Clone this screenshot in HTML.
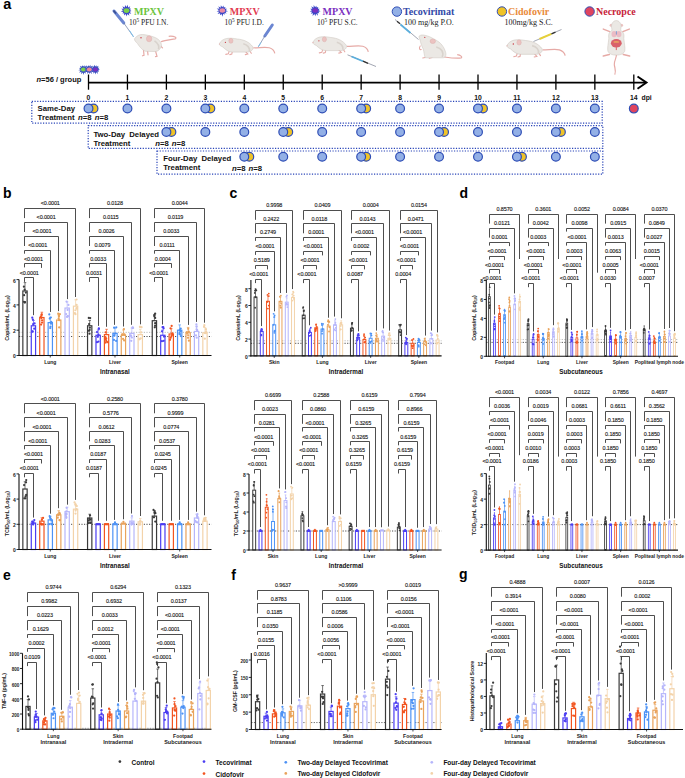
<!DOCTYPE html>
<html><head><meta charset="utf-8"><style>
html,body{margin:0;padding:0;background:#fff;width:685px;height:778px;overflow:hidden}
svg{display:block}
</style></head><body>
<svg width="685" height="778" viewBox="0 0 685 778" font-family='"Liberation Sans", sans-serif'><text x="3.3" y="8.8" font-size="14.5" font-weight="bold" fill="#000">a</text>
<line x1="88.5" y1="82.6" x2="645" y2="82.6" stroke="#000" stroke-width="1.9"/>
<path d="M637.5,76.5 L646.5,82.6 L637.5,88.7" fill="none" stroke="#000" stroke-width="1.9"/>
<line x1="88.50" y1="74.5" x2="88.50" y2="89.7" stroke="#000" stroke-width="1.3"/>
<text x="88.50" y="99.8" font-size="6.8" font-weight="bold" text-anchor="middle" fill="#111">0</text>
<line x1="127.45" y1="74.5" x2="127.45" y2="89.7" stroke="#000" stroke-width="1.3"/>
<text x="127.45" y="99.8" font-size="6.8" font-weight="bold" text-anchor="middle" fill="#111">1</text>
<line x1="166.40" y1="74.5" x2="166.40" y2="89.7" stroke="#000" stroke-width="1.3"/>
<text x="166.40" y="99.8" font-size="6.8" font-weight="bold" text-anchor="middle" fill="#111">2</text>
<line x1="205.35" y1="74.5" x2="205.35" y2="89.7" stroke="#000" stroke-width="1.3"/>
<text x="205.35" y="99.8" font-size="6.8" font-weight="bold" text-anchor="middle" fill="#111">3</text>
<line x1="244.30" y1="74.5" x2="244.30" y2="89.7" stroke="#000" stroke-width="1.3"/>
<text x="244.30" y="99.8" font-size="6.8" font-weight="bold" text-anchor="middle" fill="#111">4</text>
<line x1="283.25" y1="74.5" x2="283.25" y2="89.7" stroke="#000" stroke-width="1.3"/>
<text x="283.25" y="99.8" font-size="6.8" font-weight="bold" text-anchor="middle" fill="#111">5</text>
<line x1="322.20" y1="74.5" x2="322.20" y2="89.7" stroke="#000" stroke-width="1.3"/>
<text x="322.20" y="99.8" font-size="6.8" font-weight="bold" text-anchor="middle" fill="#111">6</text>
<line x1="361.15" y1="74.5" x2="361.15" y2="89.7" stroke="#000" stroke-width="1.3"/>
<text x="361.15" y="99.8" font-size="6.8" font-weight="bold" text-anchor="middle" fill="#111">7</text>
<line x1="400.10" y1="74.5" x2="400.10" y2="89.7" stroke="#000" stroke-width="1.3"/>
<text x="400.10" y="99.8" font-size="6.8" font-weight="bold" text-anchor="middle" fill="#111">8</text>
<line x1="439.05" y1="74.5" x2="439.05" y2="89.7" stroke="#000" stroke-width="1.3"/>
<text x="439.05" y="99.8" font-size="6.8" font-weight="bold" text-anchor="middle" fill="#111">9</text>
<line x1="478.00" y1="74.5" x2="478.00" y2="89.7" stroke="#000" stroke-width="1.3"/>
<text x="478.00" y="99.8" font-size="6.8" font-weight="bold" text-anchor="middle" fill="#111">10</text>
<line x1="516.95" y1="74.5" x2="516.95" y2="89.7" stroke="#000" stroke-width="1.3"/>
<text x="516.95" y="99.8" font-size="6.8" font-weight="bold" text-anchor="middle" fill="#111">11</text>
<line x1="555.90" y1="74.5" x2="555.90" y2="89.7" stroke="#000" stroke-width="1.3"/>
<text x="555.90" y="99.8" font-size="6.8" font-weight="bold" text-anchor="middle" fill="#111">12</text>
<line x1="594.85" y1="74.5" x2="594.85" y2="89.7" stroke="#000" stroke-width="1.3"/>
<text x="594.85" y="99.8" font-size="6.8" font-weight="bold" text-anchor="middle" fill="#111">13</text>
<line x1="633.80" y1="74.5" x2="633.80" y2="89.7" stroke="#000" stroke-width="1.3"/>
<text x="633.80" y="99.8" font-size="6.8" font-weight="bold" text-anchor="middle" fill="#111">14</text>
<text x="641.5" y="99.8" font-size="6.8" font-weight="bold" fill="#111">dpi</text>
<text x="36.5" y="82" font-size="7.5" font-weight="bold" fill="#111"><tspan font-style="italic">n</tspan>=56 / group</text>
<rect x="31.8" y="101.4" width="570.4" height="21.8" fill="none" stroke="#2844b8" stroke-width="1.2" stroke-dasharray="1.2,1.5"/>
<rect x="88.2" y="125.6" width="514.6" height="22.8" fill="none" stroke="#2844b8" stroke-width="1.2" stroke-dasharray="1.2,1.5"/>
<rect x="157" y="151" width="445.8" height="23.2" fill="none" stroke="#2844b8" stroke-width="1.2" stroke-dasharray="1.2,1.5"/>
<text x="37.6" y="111.0" font-size="7.75" font-weight="bold" fill="#111">Same-Day</text>
<text x="37.6" y="120.4" font-size="7.75" font-weight="bold" fill="#111" word-spacing="1.1">Treatment <tspan font-style="italic">n</tspan>=8 <tspan font-style="italic">n</tspan>=8</text>
<text x="93.4" y="136.7" font-size="7.75" font-weight="bold" fill="#111" word-spacing="2">Two-Day Delayed</text>
<text x="93.4" y="146.2" font-size="7.75" font-weight="bold" fill="#111">Treatment</text>
<text x="155.3" y="146.2" font-size="7.75" font-weight="bold" fill="#111" word-spacing="0.8"><tspan font-style="italic">n</tspan>=8 <tspan font-style="italic">n</tspan>=8</text>
<text x="163.3" y="160.5" font-size="7.75" font-weight="bold" fill="#111" word-spacing="2">Four-Day Delayed</text>
<text x="163.3" y="170" font-size="7.75" font-weight="bold" fill="#111">Treatment</text>
<text x="232" y="171.2" font-size="7.75" font-weight="bold" fill="#111" word-spacing="0.8"><tspan font-style="italic">n</tspan>=8 <tspan font-style="italic">n</tspan>=8</text>
<circle cx="93.50" cy="108.5" r="4.4" fill="#efc328" stroke="#2e4db5" stroke-width="1.2"/>
<circle cx="88.50" cy="108.5" r="4.4" fill="#93b0e6" stroke="#2e4db5" stroke-width="1.2"/>
<circle cx="127.45" cy="108.5" r="4.4" fill="#93b0e6" stroke="#2e4db5" stroke-width="1.2"/>
<circle cx="166.40" cy="108.5" r="4.4" fill="#93b0e6" stroke="#2e4db5" stroke-width="1.2"/>
<circle cx="210.35" cy="108.5" r="4.4" fill="#efc328" stroke="#2e4db5" stroke-width="1.2"/>
<circle cx="205.35" cy="108.5" r="4.4" fill="#93b0e6" stroke="#2e4db5" stroke-width="1.2"/>
<circle cx="244.30" cy="108.5" r="4.4" fill="#93b0e6" stroke="#2e4db5" stroke-width="1.2"/>
<circle cx="283.25" cy="108.5" r="4.4" fill="#93b0e6" stroke="#2e4db5" stroke-width="1.2"/>
<circle cx="322.20" cy="108.5" r="4.4" fill="#93b0e6" stroke="#2e4db5" stroke-width="1.2"/>
<circle cx="366.15" cy="108.5" r="4.4" fill="#efc328" stroke="#2e4db5" stroke-width="1.2"/>
<circle cx="361.15" cy="108.5" r="4.4" fill="#93b0e6" stroke="#2e4db5" stroke-width="1.2"/>
<circle cx="400.10" cy="108.5" r="4.4" fill="#93b0e6" stroke="#2e4db5" stroke-width="1.2"/>
<circle cx="439.05" cy="108.5" r="4.4" fill="#93b0e6" stroke="#2e4db5" stroke-width="1.2"/>
<circle cx="483.00" cy="108.5" r="4.4" fill="#efc328" stroke="#2e4db5" stroke-width="1.2"/>
<circle cx="478.00" cy="108.5" r="4.4" fill="#93b0e6" stroke="#2e4db5" stroke-width="1.2"/>
<circle cx="516.95" cy="108.5" r="4.4" fill="#93b0e6" stroke="#2e4db5" stroke-width="1.2"/>
<circle cx="555.90" cy="108.5" r="4.4" fill="#93b0e6" stroke="#2e4db5" stroke-width="1.2"/>
<circle cx="594.85" cy="108.5" r="4.4" fill="#93b0e6" stroke="#2e4db5" stroke-width="1.2"/>
<circle cx="171.40" cy="132.0" r="4.4" fill="#efc328" stroke="#2e4db5" stroke-width="1.2"/>
<circle cx="166.40" cy="132.0" r="4.4" fill="#93b0e6" stroke="#2e4db5" stroke-width="1.2"/>
<circle cx="205.35" cy="132.0" r="4.4" fill="#93b0e6" stroke="#2e4db5" stroke-width="1.2"/>
<circle cx="244.30" cy="132.0" r="4.4" fill="#93b0e6" stroke="#2e4db5" stroke-width="1.2"/>
<circle cx="288.25" cy="132.0" r="4.4" fill="#efc328" stroke="#2e4db5" stroke-width="1.2"/>
<circle cx="283.25" cy="132.0" r="4.4" fill="#93b0e6" stroke="#2e4db5" stroke-width="1.2"/>
<circle cx="322.20" cy="132.0" r="4.4" fill="#93b0e6" stroke="#2e4db5" stroke-width="1.2"/>
<circle cx="361.15" cy="132.0" r="4.4" fill="#93b0e6" stroke="#2e4db5" stroke-width="1.2"/>
<circle cx="400.10" cy="132.0" r="4.4" fill="#93b0e6" stroke="#2e4db5" stroke-width="1.2"/>
<circle cx="444.05" cy="132.0" r="4.4" fill="#efc328" stroke="#2e4db5" stroke-width="1.2"/>
<circle cx="439.05" cy="132.0" r="4.4" fill="#93b0e6" stroke="#2e4db5" stroke-width="1.2"/>
<circle cx="478.00" cy="132.0" r="4.4" fill="#93b0e6" stroke="#2e4db5" stroke-width="1.2"/>
<circle cx="516.95" cy="132.0" r="4.4" fill="#93b0e6" stroke="#2e4db5" stroke-width="1.2"/>
<circle cx="560.90" cy="132.0" r="4.4" fill="#efc328" stroke="#2e4db5" stroke-width="1.2"/>
<circle cx="555.90" cy="132.0" r="4.4" fill="#93b0e6" stroke="#2e4db5" stroke-width="1.2"/>
<circle cx="594.85" cy="132.0" r="4.4" fill="#93b0e6" stroke="#2e4db5" stroke-width="1.2"/>
<circle cx="249.30" cy="156.8" r="4.4" fill="#efc328" stroke="#2e4db5" stroke-width="1.2"/>
<circle cx="244.30" cy="156.8" r="4.4" fill="#93b0e6" stroke="#2e4db5" stroke-width="1.2"/>
<circle cx="283.25" cy="156.8" r="4.4" fill="#93b0e6" stroke="#2e4db5" stroke-width="1.2"/>
<circle cx="322.20" cy="156.8" r="4.4" fill="#93b0e6" stroke="#2e4db5" stroke-width="1.2"/>
<circle cx="366.15" cy="156.8" r="4.4" fill="#efc328" stroke="#2e4db5" stroke-width="1.2"/>
<circle cx="361.15" cy="156.8" r="4.4" fill="#93b0e6" stroke="#2e4db5" stroke-width="1.2"/>
<circle cx="400.10" cy="156.8" r="4.4" fill="#93b0e6" stroke="#2e4db5" stroke-width="1.2"/>
<circle cx="439.05" cy="156.8" r="4.4" fill="#93b0e6" stroke="#2e4db5" stroke-width="1.2"/>
<circle cx="478.00" cy="156.8" r="4.4" fill="#93b0e6" stroke="#2e4db5" stroke-width="1.2"/>
<circle cx="521.95" cy="156.8" r="4.4" fill="#efc328" stroke="#2e4db5" stroke-width="1.2"/>
<circle cx="516.95" cy="156.8" r="4.4" fill="#93b0e6" stroke="#2e4db5" stroke-width="1.2"/>
<circle cx="555.90" cy="156.8" r="4.4" fill="#93b0e6" stroke="#2e4db5" stroke-width="1.2"/>
<circle cx="594.85" cy="156.8" r="4.4" fill="#93b0e6" stroke="#2e4db5" stroke-width="1.2"/>
<circle cx="633.80" cy="108.6" r="4.4" fill="#e0445f" stroke="#2e4db5" stroke-width="1.2"/>
<polygon points="87.97,69.96 86.23,70.51 87.14,71.97 85.44,71.70 85.77,73.80 84.18,72.40 83.51,74.89 82.74,72.43 81.02,74.27 81.46,71.79 79.06,72.63 80.62,70.62 78.34,70.22 80.41,69.20 79.06,67.96 80.90,67.85 79.90,65.71 81.95,66.87 82.29,65.36 83.34,66.50 84.34,65.32 84.74,66.82 86.85,65.44 85.83,67.74 88.30,67.53 86.37,69.08" fill="#3a52c0"/>
<ellipse cx="83.4" cy="69.5" rx="2.5" ry="2.0" fill="#7ad14a"/>
<polygon points="99.83,69.84 98.23,70.41 99.00,71.77 97.44,71.60 97.93,73.98 96.18,72.30 95.51,74.45 94.74,72.33 93.23,73.76 93.46,71.69 91.29,72.37 92.62,70.52 90.40,70.11 92.41,69.10 91.08,67.86 92.90,67.75 92.05,65.77 93.95,66.77 94.13,64.66 95.34,66.40 96.34,65.23 96.74,66.72 98.53,65.71 97.83,67.64 99.41,67.78 98.37,68.98" fill="#3a52c0"/>
<ellipse cx="95.4" cy="69.4" rx="2.5" ry="2.0" fill="#7a2fc0"/>
<polygon points="94.11,69.88 92.13,70.41 93.11,71.92 91.34,71.60 91.85,74.02 90.08,72.30 89.40,74.06 88.64,72.33 87.01,74.00 87.36,71.69 85.19,72.37 86.52,70.52 84.34,70.11 86.31,69.10 84.33,67.63 86.80,67.75 85.80,65.61 87.85,66.77 88.15,65.13 89.24,66.40 90.34,64.75 90.64,66.72 92.43,65.72 91.73,67.64 93.59,67.67 92.27,68.98" fill="#3a52c0"/>
<ellipse cx="89.3" cy="69.4" rx="2.5" ry="2.0" fill="#ec8a9a"/>
<polygon points="131.41,11.09 129.78,11.77 131.27,13.75 128.86,13.16 129.33,15.74 127.40,13.96 126.62,16.59 125.74,14.00 124.04,15.53 124.25,13.25 122.45,13.52 123.27,11.90 120.92,11.40 123.04,10.25 121.31,8.76 123.60,8.68 122.40,6.16 124.82,7.55 125.01,5.05 126.43,7.12 127.82,4.72 128.05,7.49 130.24,6.19 129.32,8.56 131.11,8.74 129.95,10.11" fill="#3b48c8"/>
<ellipse cx="126.5" cy="10.6" rx="2.9" ry="2.32" fill="#7ad14a"/>
<polygon points="227.99,11.17 225.47,11.73 226.56,13.41 224.58,13.07 224.61,14.79 223.17,13.84 222.43,16.63 221.56,13.88 220.02,15.17 220.12,13.16 217.56,14.02 219.18,11.86 216.66,11.40 218.96,10.26 216.68,8.60 219.50,8.75 218.26,6.23 220.68,7.66 220.85,5.21 222.23,7.24 223.46,5.44 223.80,7.59 225.45,6.89 225.02,8.63 227.02,8.70 225.63,10.13" fill="#3b48c8"/>
<ellipse cx="222.3" cy="10.6" rx="2.8" ry="2.2399999999999998" fill="#e98aa6"/>
<polygon points="320.60,11.14 318.37,11.73 319.36,13.35 317.48,13.07 318.00,15.67 316.07,13.84 315.32,16.34 314.46,13.88 312.54,15.93 313.02,13.16 310.82,13.76 312.08,11.86 309.73,11.38 311.86,10.26 310.23,8.83 312.40,8.75 311.21,6.28 313.58,7.66 313.71,5.05 315.13,7.24 316.27,5.82 316.70,7.59 318.29,6.97 317.92,8.63 319.67,8.80 318.53,10.13" fill="#3b48c8"/>
<ellipse cx="315.2" cy="10.6" rx="2.8" ry="2.2399999999999998" fill="#7a2fc0"/>
<text x="134" y="15" font-size="10" font-weight="bold" fill="#6cc43d" font-family='"Liberation Serif", serif'>MPXV</text>
<text x="229.8" y="15" font-size="10" font-weight="bold" fill="#e23a50" font-family='"Liberation Serif", serif'>MPXV</text>
<text x="322.6" y="15" font-size="10" font-weight="bold" fill="#7b2fbf" font-family='"Liberation Serif", serif'>MPXV</text>
<text x="129" y="25" font-size="7.5" fill="#222" font-family='"Liberation Serif", serif'>10<tspan font-size="5.2" dy="-2.6">5</tspan><tspan dy="2.6"> PFU I.N.</tspan></text>
<text x="224.5" y="25" font-size="7.5" fill="#222" font-family='"Liberation Serif", serif'>10<tspan font-size="5.2" dy="-2.6">5</tspan><tspan dy="2.6"> PFU I.D.</tspan></text>
<text x="317" y="25" font-size="7.5" fill="#222" font-family='"Liberation Serif", serif'>10<tspan font-size="5.2" dy="-2.6">5</tspan><tspan dy="2.6"> PFU S.C.</tspan></text>
<circle cx="396.9" cy="11.6" r="4.7" fill="#93b0e6" stroke="#2e4db5" stroke-width="1"/>
<text x="403" y="15.2" font-size="10" font-weight="bold" fill="#3249a8" font-family='"Liberation Serif", serif'>Tecovirimat</text>
<text x="404" y="25" font-size="8" fill="#222" font-family='"Liberation Serif", serif'>100 mg/kg P.O.</text>
<circle cx="501.9" cy="11.5" r="4.7" fill="#efc328" stroke="#2e4db5" stroke-width="1"/>
<text x="508" y="15.2" font-size="10" font-weight="bold" fill="#e98a3a" font-family='"Liberation Serif", serif'>Cidofovir</text>
<text x="504.5" y="25" font-size="8" fill="#222" font-family='"Liberation Serif", serif'>100mg/kg S.C.</text>
<circle cx="589.6" cy="11.5" r="4.7" fill="#e0445f" stroke="#2e4db5" stroke-width="1"/>
<text x="596" y="15.2" font-size="10" font-weight="bold" fill="#c8243a" font-family='"Liberation Serif", serif'>Necropce</text>
<g transform="translate(134.5,38.8)"><path d="M26.5,3 C31,1 36,1 40.9,0 C42.5,-1 40.5,-3 34.2,-2.5" stroke="#e6aaa6" stroke-width="1.2" fill="none"/><path d="M9,11 L9.5,16.5 L8,17 M13,11.5 L13.5,16 M21,12 L22.5,17.5 L21,17.8 M26,7 L28,9" stroke="#e6aaa6" stroke-width="1.2" fill="none" stroke-linecap="round"/><path d="M0,0 C2,-3 5,-4.5 8,-4.3 C12,-4 16,-3 20,-1.5 C24,0 27,3 27,7 C26,10 24,12.5 21,12.7 L11,12.5 C7,11 4.5,7 3,4.8 C1.5,3 -0.3,1.8 0,0 Z" fill="#ebe8e4" stroke="#cdc6bf" stroke-width="0.55"/><path d="M20,2 C23,4 25,7 24,10.5" stroke="#d9d3cd" stroke-width="1.6" fill="none"/><ellipse cx="14.6" cy="0" rx="2.7" ry="3" fill="#ecc3c1" stroke="#d6a9a7" stroke-width="0.4"/><circle cx="6.5" cy="-1" r="0.7" fill="#c8303a"/></g>
<path d="M114,11 L123.8,23" stroke="#6b86d2" stroke-width="3" stroke-linecap="round"/><path d="M113.5,10.5 L116,13.5" stroke="#3a4f90" stroke-width="1.6"/><path d="M123.8,23 L133.5,36.8" stroke="#6a7aa0" stroke-width="0.7"/><path d="M129.5,30.5 L133.5,36.8" stroke="#7cc0ec" stroke-width="1"/>
<g transform="translate(219.3,43.8) scale(1.0)"><path d="M34,4 C40,4 47,3 50,4 C53,5 55,7 55.5,9.5" stroke="#e6aaa6" stroke-width="1.2" fill="none"/><path d="M10,7 L9,10 L6.5,10.6 M13,7.5 L12.5,10.3 L10.5,10.8 M26,7.5 L28.5,10.2 L26,10.8 M30,6.5 L32,9.5" stroke="#e6aaa6" stroke-width="1.1" fill="none" stroke-linecap="round"/><path d="M0,0 C1,-2.5 4,-4.8 7.2,-5.3 C10,-5.8 14,-5.6 18,-4.8 C24,-4.3 30,-2 33.5,3 C34.6,6 31.5,8.3 27,8.3 L13,8.3 C9,8.3 6,5.5 3.5,3.2 C1.5,2.2 -0.2,1.6 0,0 Z" fill="#ebe8e4" stroke="#cdc6bf" stroke-width="0.55"/><path d="M24,0 C28,1 31,4 30,7.5" stroke="#d9d3cd" stroke-width="1.6" fill="none"/><ellipse cx="11.6" cy="-3" rx="2.1" ry="2.5" fill="#ecc3c1" stroke="#d6a9a7" stroke-width="0.4"/><circle cx="6.1" cy="-1.5" r="0.65" fill="#c8303a"/><circle cx="0.2" cy="0.2" r="0.5" fill="#e9a6a6"/></g>
<path d="M272.3,25 L264.8,36" stroke="#6b86d2" stroke-width="3" stroke-linecap="round"/><path d="M264.8,36 L258.3,46.8" stroke="#6a7aa0" stroke-width="0.7"/><path d="M261,42.5 L258.3,46.8" stroke="#7cc0ec" stroke-width="0.9"/>
<g transform="translate(312.8,42.3) scale(1.0)"><path d="M34,4 C40,4 47,3 50,4 C53,5 55,7 55.5,9.5" stroke="#e6aaa6" stroke-width="1.2" fill="none"/><path d="M10,7 L9,10 L6.5,10.6 M13,7.5 L12.5,10.3 L10.5,10.8 M26,7.5 L28.5,10.2 L26,10.8 M30,6.5 L32,9.5" stroke="#e6aaa6" stroke-width="1.1" fill="none" stroke-linecap="round"/><path d="M0,0 C1,-2.5 4,-4.8 7.2,-5.3 C10,-5.8 14,-5.6 18,-4.8 C24,-4.3 30,-2 33.5,3 C34.6,6 31.5,8.3 27,8.3 L13,8.3 C9,8.3 6,5.5 3.5,3.2 C1.5,2.2 -0.2,1.6 0,0 Z" fill="#ebe8e4" stroke="#cdc6bf" stroke-width="0.55"/><path d="M24,0 C28,1 31,4 30,7.5" stroke="#d9d3cd" stroke-width="1.6" fill="none"/><ellipse cx="11.6" cy="-3" rx="2.1" ry="2.5" fill="#ecc3c1" stroke="#d6a9a7" stroke-width="0.4"/><circle cx="6.1" cy="-1.5" r="0.65" fill="#c8303a"/><circle cx="0.2" cy="0.2" r="0.5" fill="#e9a6a6"/></g>
<path d="M347.5,54.8 L376,66.5" stroke="#7a8090" stroke-width="0.7"/><path d="M351.5,56.5 L363,61.2" stroke="#5aaedc" stroke-width="1.7"/><path d="M363,61.2 L368,63.3" stroke="#333" stroke-width="1.4"/>
<g transform="translate(419.2,36)"><path d="M25,21 C32,22 38,22.5 42,22 C43.5,21 41.5,19 38,18.7" stroke="#e6aaa6" stroke-width="1.2" fill="none"/><path d="M1,10 C-0.5,12 0.5,14 2,13.5 M6,21.5 L3.5,22 M13,21.5 L10,22.2" stroke="#e6aaa6" stroke-width="1.1" fill="none" stroke-linecap="round"/><path d="M0,0 C1,-1 4,-1.4 6,-0.6 C9,0 12,1.2 14.5,3 C19.5,5 24,9 26,15 C27.5,19 26.5,21.3 24,21.8 L6,21.8 C4.8,19 5,16 4,13 C2.3,10 1.3,6 0.9,4 C0.2,2.6 -0.5,1 0,0 Z" fill="#ebe8e4" stroke="#cdc6bf" stroke-width="0.55"/><path d="M17,11 C22,12 25,16 23,21" stroke="#d9d3cd" stroke-width="1.6" fill="none"/><ellipse cx="13.6" cy="5.2" rx="2.7" ry="2.3" fill="#ecc3c1" stroke="#d6a9a7" stroke-width="0.4"/><circle cx="5.6" cy="1.3" r="0.65" fill="#c8303a"/></g>
<path d="M395,19.5 L418.5,39.5" stroke="#7a8090" stroke-width="0.7"/><path d="M400.5,24.5 L410.5,33" stroke="#5aaedc" stroke-width="1.7"/><path d="M397,21.3 L400,23.8" stroke="#333" stroke-width="1.4"/>
<g transform="translate(506.9,45.6) scale(1.05)"><path d="M34,4 C40,4 47,3 50,4 C53,5 55,7 55.5,9.5" stroke="#e6aaa6" stroke-width="1.2" fill="none"/><path d="M10,7 L9,10 L6.5,10.6 M13,7.5 L12.5,10.3 L10.5,10.8 M26,7.5 L28.5,10.2 L26,10.8 M30,6.5 L32,9.5" stroke="#e6aaa6" stroke-width="1.1" fill="none" stroke-linecap="round"/><path d="M0,0 C1,-2.5 4,-4.8 7.2,-5.3 C10,-5.8 14,-5.6 18,-4.8 C24,-4.3 30,-2 33.5,3 C34.6,6 31.5,8.3 27,8.3 L13,8.3 C9,8.3 6,5.5 3.5,3.2 C1.5,2.2 -0.2,1.6 0,0 Z" fill="#ebe8e4" stroke="#cdc6bf" stroke-width="0.55"/><path d="M24,0 C28,1 31,4 30,7.5" stroke="#d9d3cd" stroke-width="1.6" fill="none"/><ellipse cx="11.6" cy="-3" rx="2.1" ry="2.5" fill="#ecc3c1" stroke="#d6a9a7" stroke-width="0.4"/><circle cx="6.1" cy="-1.5" r="0.65" fill="#c8303a"/><circle cx="0.2" cy="0.2" r="0.5" fill="#e9a6a6"/></g>
<path d="M533.5,41.5 L561.5,29.5" stroke="#7a8090" stroke-width="0.7"/><path d="M539.5,39 L551.5,33.9" stroke="#e6d03a" stroke-width="2"/><path d="M551.5,33.9 L555.5,32.2" stroke="#333" stroke-width="1.4"/>
<g transform="translate(602.8,20.6)"><path d="M13.5,33 C14.5,37 11,40 11.5,44 C12,48 13.5,50 12,54" stroke="#e6aaa6" stroke-width="1.2" fill="none"/><path d="M7,11 L0.5,8.5 M20,11 L26.5,8.5 M6.5,34 L0.5,35.5 M20.5,34 L26.8,35.5" stroke="#e6aaa6" stroke-width="1.5" fill="none" stroke-linecap="round"/><circle cx="8.3" cy="4.6" r="1.5" fill="#ecc3c1"/><circle cx="18.8" cy="4.6" r="1.5" fill="#ecc3c1"/><path d="M13.5,0 C16.5,0 18.5,3 18.3,6.5 C18,8.5 17.5,9.5 18.5,10.5 C21,11.5 21.5,14 21,18 C21.5,23 22.5,27 22,30 C21.5,33 18,34.5 13.5,34.5 C9,34.5 5.5,33 5,30 C4.5,27 5.5,23 6,18 C5.5,14 6,11.5 8.5,10.5 C9.5,9.5 9,8.5 8.7,6.5 C8.5,3 10.5,0 13.5,0 Z" fill="#ebe8e4" stroke="#cdc6bf" stroke-width="0.55"/><ellipse cx="11.3" cy="13.5" rx="2.6" ry="3.2" fill="#ebbcc4"/><ellipse cx="16" cy="13.5" rx="2.6" ry="3.2" fill="#ebbcc4"/><line x1="13.6" y1="10.5" x2="13.6" y2="14" stroke="#5a8ad0" stroke-width="0.7"/><ellipse cx="13.5" cy="22.7" rx="5.4" ry="4.2" fill="#d9606a"/><ellipse cx="13.5" cy="21.3" rx="3" ry="0.9" fill="#e8a060"/><path d="M13.5,26.5 L13.5,29.5" stroke="#d9606a" stroke-width="1"/></g>
<circle cx="119.9" cy="761.6" r="1.35" fill="#3a3a3a"/>
<text x="131.5" y="764.6" font-size="6.5" font-weight="bold" fill="#111">Control</text>
<circle cx="204" cy="761.6" r="1.35" fill="#4b3df2"/>
<text x="215.6" y="764.6" font-size="6.5" font-weight="bold" fill="#111">Tecovirimat</text>
<circle cx="204" cy="773.6" r="1.35" fill="#f2541f"/>
<text x="215.6" y="776.6" font-size="6.5" font-weight="bold" fill="#111">Cidofovir</text>
<circle cx="285.8" cy="762.3" r="1.35" fill="#4d92f5"/>
<text x="297.4" y="765.3" font-size="6.5" font-weight="bold" fill="#111">Two-day Delayed Tecovirimat</text>
<circle cx="285.8" cy="773.4" r="1.35" fill="#e9a35c"/>
<text x="297.4" y="776.4" font-size="6.5" font-weight="bold" fill="#111">Two-day Delayed Cidofovir</text>
<circle cx="431.8" cy="762.3" r="1.35" fill="#b6b6fb"/>
<text x="443.4" y="765.3" font-size="6.5" font-weight="bold" fill="#111">Four-day Delayed Tecovirimat</text>
<circle cx="431.8" cy="773.4" r="1.35" fill="#f3d3aa"/>
<text x="443.4" y="776.4" font-size="6.5" font-weight="bold" fill="#111">Four-day Delayed Cidofovir</text>
<line x1="19.00" y1="336.52" x2="211.50" y2="336.52" stroke="#222" stroke-width="0.8" stroke-dasharray="1.2,1.4"/>
<line x1="19.00" y1="332.35" x2="211.50" y2="332.35" stroke="#aaa" stroke-width="0.8" stroke-dasharray="1.2,1.4"/>
<rect x="22.85" y="290.99" width="4.30" height="64.52" fill="#fff" stroke="#3a3a3a" stroke-width="1.2"/>
<circle cx="24.10" cy="295.15" r="1.12" fill="#3a3a3a"/>
<circle cx="23.90" cy="286.64" r="1.12" fill="#3a3a3a"/>
<circle cx="24.65" cy="289.63" r="1.12" fill="#3a3a3a"/>
<circle cx="25.02" cy="302.06" r="1.12" fill="#3a3a3a"/>
<circle cx="24.83" cy="302.59" r="1.12" fill="#3a3a3a"/>
<circle cx="23.94" cy="301.75" r="1.12" fill="#3a3a3a"/>
<circle cx="25.84" cy="292.53" r="1.12" fill="#3a3a3a"/>
<line x1="25.00" y1="290.99" x2="25.00" y2="282.60" stroke="#3a3a3a" stroke-width="0.7" />
<line x1="23.71" y1="282.60" x2="26.29" y2="282.60" stroke="#3a3a3a" stroke-width="0.7" />
<rect x="31.28" y="325.77" width="4.30" height="29.73" fill="#fff" stroke="#4b3df2" stroke-width="1.2"/>
<circle cx="32.72" cy="331.70" r="1.12" fill="#4b3df2"/>
<circle cx="34.59" cy="323.41" r="1.12" fill="#4b3df2"/>
<circle cx="33.16" cy="324.24" r="1.12" fill="#4b3df2"/>
<circle cx="32.26" cy="317.66" r="1.12" fill="#4b3df2"/>
<circle cx="32.89" cy="319.60" r="1.12" fill="#4b3df2"/>
<circle cx="32.44" cy="331.37" r="1.12" fill="#4b3df2"/>
<circle cx="34.25" cy="328.66" r="1.12" fill="#4b3df2"/>
<line x1="33.43" y1="325.77" x2="33.43" y2="320.46" stroke="#4b3df2" stroke-width="0.7" />
<line x1="32.14" y1="320.46" x2="34.72" y2="320.46" stroke="#4b3df2" stroke-width="0.7" />
<rect x="39.71" y="317.55" width="4.30" height="37.95" fill="#fff" stroke="#f2541f" stroke-width="1.2"/>
<circle cx="42.07" cy="322.54" r="1.12" fill="#f2541f"/>
<circle cx="41.53" cy="315.00" r="1.12" fill="#f2541f"/>
<circle cx="40.73" cy="316.50" r="1.12" fill="#f2541f"/>
<circle cx="41.10" cy="324.54" r="1.12" fill="#f2541f"/>
<circle cx="41.67" cy="314.31" r="1.12" fill="#f2541f"/>
<circle cx="42.08" cy="320.35" r="1.12" fill="#f2541f"/>
<circle cx="41.34" cy="318.06" r="1.12" fill="#f2541f"/>
<line x1="41.86" y1="317.55" x2="41.86" y2="312.24" stroke="#f2541f" stroke-width="0.7" />
<line x1="40.57" y1="312.24" x2="43.15" y2="312.24" stroke="#f2541f" stroke-width="0.7" />
<rect x="48.14" y="322.61" width="4.30" height="32.89" fill="#fff" stroke="#4d92f5" stroke-width="1.2"/>
<circle cx="50.80" cy="317.50" r="1.12" fill="#4d92f5"/>
<circle cx="50.48" cy="326.56" r="1.12" fill="#4d92f5"/>
<circle cx="51.26" cy="321.93" r="1.12" fill="#4d92f5"/>
<circle cx="49.74" cy="318.57" r="1.12" fill="#4d92f5"/>
<circle cx="49.30" cy="314.44" r="1.12" fill="#4d92f5"/>
<circle cx="50.95" cy="323.69" r="1.12" fill="#4d92f5"/>
<circle cx="50.26" cy="328.08" r="1.12" fill="#4d92f5"/>
<line x1="50.29" y1="322.61" x2="50.29" y2="317.30" stroke="#4d92f5" stroke-width="0.7" />
<line x1="49.00" y1="317.30" x2="51.58" y2="317.30" stroke="#4d92f5" stroke-width="0.7" />
<rect x="56.57" y="320.08" width="4.30" height="35.42" fill="#fff" stroke="#e9a35c" stroke-width="1.2"/>
<circle cx="59.15" cy="327.40" r="1.12" fill="#e9a35c"/>
<circle cx="58.91" cy="315.46" r="1.12" fill="#e9a35c"/>
<circle cx="58.24" cy="313.63" r="1.12" fill="#e9a35c"/>
<circle cx="58.96" cy="316.60" r="1.12" fill="#e9a35c"/>
<circle cx="58.61" cy="318.50" r="1.12" fill="#e9a35c"/>
<circle cx="59.87" cy="314.21" r="1.12" fill="#e9a35c"/>
<circle cx="59.14" cy="320.24" r="1.12" fill="#e9a35c"/>
<line x1="58.72" y1="320.08" x2="58.72" y2="314.77" stroke="#e9a35c" stroke-width="0.7" />
<line x1="57.43" y1="314.77" x2="60.01" y2="314.77" stroke="#e9a35c" stroke-width="0.7" />
<rect x="65.00" y="308.06" width="4.30" height="47.44" fill="#fff" stroke="#b6b6fb" stroke-width="1.2"/>
<circle cx="67.67" cy="316.15" r="1.12" fill="#b6b6fb"/>
<circle cx="68.42" cy="304.94" r="1.12" fill="#b6b6fb"/>
<circle cx="66.59" cy="301.60" r="1.12" fill="#b6b6fb"/>
<circle cx="67.59" cy="309.94" r="1.12" fill="#b6b6fb"/>
<circle cx="67.05" cy="316.88" r="1.12" fill="#b6b6fb"/>
<circle cx="66.16" cy="314.10" r="1.12" fill="#b6b6fb"/>
<circle cx="67.84" cy="316.19" r="1.12" fill="#b6b6fb"/>
<line x1="67.15" y1="308.06" x2="67.15" y2="301.90" stroke="#b6b6fb" stroke-width="0.7" />
<line x1="65.86" y1="301.90" x2="68.44" y2="301.90" stroke="#b6b6fb" stroke-width="0.7" />
<rect x="73.43" y="306.17" width="4.30" height="49.34" fill="#fff" stroke="#f3d3aa" stroke-width="1.2"/>
<circle cx="74.93" cy="313.21" r="1.12" fill="#f3d3aa"/>
<circle cx="76.54" cy="308.01" r="1.12" fill="#f3d3aa"/>
<circle cx="75.45" cy="314.18" r="1.12" fill="#f3d3aa"/>
<circle cx="76.57" cy="304.86" r="1.12" fill="#f3d3aa"/>
<circle cx="76.52" cy="299.50" r="1.12" fill="#f3d3aa"/>
<circle cx="75.36" cy="310.25" r="1.12" fill="#f3d3aa"/>
<circle cx="76.57" cy="308.65" r="1.12" fill="#f3d3aa"/>
<line x1="75.58" y1="306.17" x2="75.58" y2="299.75" stroke="#f3d3aa" stroke-width="0.7" />
<line x1="74.29" y1="299.75" x2="76.87" y2="299.75" stroke="#f3d3aa" stroke-width="0.7" />
<path d="M24.50,281.90 V277.50 H33.50 V315.16" fill="none" stroke="#3a3a3a" stroke-width="0.9"/>
<text x="29.21" y="274.60" font-size="5.45" text-anchor="middle" font-weight="normal" fill="#111" letter-spacing="-0.12" stroke="#222" stroke-width="0.12">&lt;0.0001</text>
<path d="M24.50,267.40 V263.50 H41.50 V267.90" fill="none" stroke="#3a3a3a" stroke-width="0.9"/>
<text x="33.43" y="260.60" font-size="5.45" text-anchor="middle" font-weight="normal" fill="#111" letter-spacing="-0.12" stroke="#222" stroke-width="0.12">&lt;0.0001</text>
<path d="M24.50,253.70 V250.50 H50.50 V311.94" fill="none" stroke="#3a3a3a" stroke-width="0.9"/>
<text x="37.64" y="246.90" font-size="5.45" text-anchor="middle" font-weight="normal" fill="#111" letter-spacing="-0.12" stroke="#222" stroke-width="0.12">&lt;0.0001</text>
<path d="M24.50,246.00 V236.50 H58.50 V311.13" fill="none" stroke="#3a3a3a" stroke-width="0.9"/>
<text x="41.86" y="233.20" font-size="5.45" text-anchor="middle" font-weight="normal" fill="#111" letter-spacing="-0.12" stroke="#222" stroke-width="0.12">&lt;0.0001</text>
<path d="M24.50,232.00 V222.50 H67.50 V299.10" fill="none" stroke="#3a3a3a" stroke-width="0.9"/>
<text x="46.08" y="219.20" font-size="5.45" text-anchor="middle" font-weight="normal" fill="#111" letter-spacing="-0.12" stroke="#222" stroke-width="0.12">&lt;0.0001</text>
<path d="M24.50,218.10 V208.50 H75.50 V297.00" fill="none" stroke="#3a3a3a" stroke-width="0.9"/>
<text x="50.29" y="205.30" font-size="5.45" text-anchor="middle" font-weight="normal" fill="#111" letter-spacing="-0.12" stroke="#222" stroke-width="0.12">&lt;0.0001</text>
<line x1="50.29" y1="355.50" x2="50.29" y2="357.50" stroke="#222" stroke-width="0.8" />
<text x="50.29" y="364.00" font-size="5.0" text-anchor="middle" font-weight="bold" fill="#222" >Lung</text>
<rect x="87.55" y="325.77" width="4.30" height="29.73" fill="#fff" stroke="#3a3a3a" stroke-width="1.2"/>
<circle cx="88.80" cy="317.97" r="1.12" fill="#3a3a3a"/>
<circle cx="89.01" cy="330.84" r="1.12" fill="#3a3a3a"/>
<circle cx="89.66" cy="329.90" r="1.12" fill="#3a3a3a"/>
<circle cx="89.09" cy="324.04" r="1.12" fill="#3a3a3a"/>
<circle cx="89.49" cy="333.67" r="1.12" fill="#3a3a3a"/>
<circle cx="89.87" cy="327.66" r="1.12" fill="#3a3a3a"/>
<circle cx="90.19" cy="318.04" r="1.12" fill="#3a3a3a"/>
<line x1="89.70" y1="325.77" x2="89.70" y2="320.46" stroke="#3a3a3a" stroke-width="0.7" />
<line x1="88.41" y1="320.46" x2="90.99" y2="320.46" stroke="#3a3a3a" stroke-width="0.7" />
<rect x="95.98" y="335.26" width="4.30" height="20.24" fill="#fff" stroke="#4b3df2" stroke-width="1.2"/>
<circle cx="98.43" cy="334.74" r="1.12" fill="#4b3df2"/>
<circle cx="96.98" cy="332.09" r="1.12" fill="#4b3df2"/>
<circle cx="98.85" cy="328.41" r="1.12" fill="#4b3df2"/>
<circle cx="98.90" cy="328.83" r="1.12" fill="#4b3df2"/>
<circle cx="97.87" cy="336.77" r="1.12" fill="#4b3df2"/>
<circle cx="98.48" cy="341.52" r="1.12" fill="#4b3df2"/>
<circle cx="97.01" cy="342.20" r="1.12" fill="#4b3df2"/>
<line x1="98.13" y1="335.26" x2="98.13" y2="329.95" stroke="#4b3df2" stroke-width="0.7" />
<line x1="96.84" y1="329.95" x2="99.42" y2="329.95" stroke="#4b3df2" stroke-width="0.7" />
<rect x="104.41" y="334.63" width="4.30" height="20.87" fill="#fff" stroke="#f2541f" stroke-width="1.2"/>
<circle cx="105.69" cy="339.16" r="1.12" fill="#f2541f"/>
<circle cx="105.41" cy="337.00" r="1.12" fill="#f2541f"/>
<circle cx="105.66" cy="342.59" r="1.12" fill="#f2541f"/>
<circle cx="106.21" cy="340.93" r="1.12" fill="#f2541f"/>
<circle cx="107.53" cy="342.18" r="1.12" fill="#f2541f"/>
<circle cx="105.65" cy="332.48" r="1.12" fill="#f2541f"/>
<circle cx="106.17" cy="338.44" r="1.12" fill="#f2541f"/>
<line x1="106.56" y1="334.63" x2="106.56" y2="329.31" stroke="#f2541f" stroke-width="0.7" />
<line x1="105.27" y1="329.31" x2="107.85" y2="329.31" stroke="#f2541f" stroke-width="0.7" />
<rect x="112.84" y="333.36" width="4.30" height="22.14" fill="#fff" stroke="#4d92f5" stroke-width="1.2"/>
<circle cx="114.02" cy="335.33" r="1.12" fill="#4d92f5"/>
<circle cx="116.26" cy="327.35" r="1.12" fill="#4d92f5"/>
<circle cx="114.95" cy="333.66" r="1.12" fill="#4d92f5"/>
<circle cx="113.96" cy="339.92" r="1.12" fill="#4d92f5"/>
<circle cx="114.38" cy="335.69" r="1.12" fill="#4d92f5"/>
<circle cx="114.12" cy="327.68" r="1.12" fill="#4d92f5"/>
<circle cx="116.15" cy="340.95" r="1.12" fill="#4d92f5"/>
<line x1="114.99" y1="333.36" x2="114.99" y2="328.05" stroke="#4d92f5" stroke-width="0.7" />
<line x1="113.70" y1="328.05" x2="116.28" y2="328.05" stroke="#4d92f5" stroke-width="0.7" />
<rect x="121.27" y="335.26" width="4.30" height="20.24" fill="#fff" stroke="#e9a35c" stroke-width="1.2"/>
<circle cx="122.51" cy="334.53" r="1.12" fill="#e9a35c"/>
<circle cx="122.20" cy="334.28" r="1.12" fill="#e9a35c"/>
<circle cx="124.65" cy="334.53" r="1.12" fill="#e9a35c"/>
<circle cx="123.93" cy="329.01" r="1.12" fill="#e9a35c"/>
<circle cx="123.08" cy="338.93" r="1.12" fill="#e9a35c"/>
<circle cx="124.12" cy="340.48" r="1.12" fill="#e9a35c"/>
<circle cx="124.14" cy="334.46" r="1.12" fill="#e9a35c"/>
<line x1="123.42" y1="335.26" x2="123.42" y2="329.95" stroke="#e9a35c" stroke-width="0.7" />
<line x1="122.13" y1="329.95" x2="124.71" y2="329.95" stroke="#e9a35c" stroke-width="0.7" />
<rect x="129.70" y="333.36" width="4.30" height="22.14" fill="#fff" stroke="#b6b6fb" stroke-width="1.2"/>
<circle cx="131.14" cy="335.90" r="1.12" fill="#b6b6fb"/>
<circle cx="133.10" cy="327.97" r="1.12" fill="#b6b6fb"/>
<circle cx="132.64" cy="327.29" r="1.12" fill="#b6b6fb"/>
<circle cx="132.47" cy="327.85" r="1.12" fill="#b6b6fb"/>
<circle cx="131.90" cy="337.60" r="1.12" fill="#b6b6fb"/>
<circle cx="130.63" cy="335.48" r="1.12" fill="#b6b6fb"/>
<circle cx="131.28" cy="340.87" r="1.12" fill="#b6b6fb"/>
<line x1="131.85" y1="333.36" x2="131.85" y2="328.05" stroke="#b6b6fb" stroke-width="0.7" />
<line x1="130.56" y1="328.05" x2="133.14" y2="328.05" stroke="#b6b6fb" stroke-width="0.7" />
<rect x="138.13" y="334.63" width="4.30" height="20.87" fill="#fff" stroke="#f3d3aa" stroke-width="1.2"/>
<circle cx="140.78" cy="338.33" r="1.12" fill="#f3d3aa"/>
<circle cx="140.14" cy="326.84" r="1.12" fill="#f3d3aa"/>
<circle cx="141.54" cy="327.16" r="1.12" fill="#f3d3aa"/>
<circle cx="139.93" cy="326.87" r="1.12" fill="#f3d3aa"/>
<circle cx="139.58" cy="338.97" r="1.12" fill="#f3d3aa"/>
<circle cx="139.52" cy="339.36" r="1.12" fill="#f3d3aa"/>
<circle cx="141.31" cy="332.32" r="1.12" fill="#f3d3aa"/>
<line x1="140.28" y1="334.63" x2="140.28" y2="329.31" stroke="#f3d3aa" stroke-width="0.7" />
<line x1="138.99" y1="329.31" x2="141.57" y2="329.31" stroke="#f3d3aa" stroke-width="0.7" />
<path d="M89.50,281.90 V277.50 H98.50 V325.91" fill="none" stroke="#3a3a3a" stroke-width="0.9"/>
<text x="93.91" y="274.60" font-size="5.45" text-anchor="middle" font-weight="normal" fill="#111" letter-spacing="-0.12" stroke="#222" stroke-width="0.12">0.0031</text>
<path d="M89.50,267.40 V263.50 H106.50 V326.81" fill="none" stroke="#3a3a3a" stroke-width="0.9"/>
<text x="98.13" y="260.60" font-size="5.45" text-anchor="middle" font-weight="normal" fill="#111" letter-spacing="-0.12" stroke="#222" stroke-width="0.12">0.0033</text>
<path d="M89.50,253.70 V250.50 H114.50 V324.85" fill="none" stroke="#3a3a3a" stroke-width="0.9"/>
<text x="102.34" y="246.90" font-size="5.45" text-anchor="middle" font-weight="normal" fill="#111" letter-spacing="-0.12" stroke="#222" stroke-width="0.12">0.0079</text>
<path d="M89.50,246.00 V236.50 H123.50 V326.51" fill="none" stroke="#3a3a3a" stroke-width="0.9"/>
<text x="106.56" y="233.20" font-size="5.45" text-anchor="middle" font-weight="normal" fill="#111" letter-spacing="-0.12" stroke="#222" stroke-width="0.12">0.0026</text>
<path d="M89.50,232.00 V222.50 H131.50 V324.79" fill="none" stroke="#3a3a3a" stroke-width="0.9"/>
<text x="110.78" y="219.20" font-size="5.45" text-anchor="middle" font-weight="normal" fill="#111" letter-spacing="-0.12" stroke="#222" stroke-width="0.12">0.0115</text>
<path d="M89.50,218.10 V208.50 H140.50 V324.34" fill="none" stroke="#3a3a3a" stroke-width="0.9"/>
<text x="114.99" y="205.30" font-size="5.45" text-anchor="middle" font-weight="normal" fill="#111" letter-spacing="-0.12" stroke="#222" stroke-width="0.12">0.0128</text>
<line x1="114.99" y1="355.50" x2="114.99" y2="357.50" stroke="#222" stroke-width="0.8" />
<text x="114.99" y="364.00" font-size="5.0" text-anchor="middle" font-weight="bold" fill="#222" >Liver</text>
<rect x="152.25" y="320.71" width="4.30" height="34.79" fill="#fff" stroke="#3a3a3a" stroke-width="1.2"/>
<circle cx="154.35" cy="314.84" r="1.12" fill="#3a3a3a"/>
<circle cx="155.17" cy="317.93" r="1.12" fill="#3a3a3a"/>
<circle cx="154.81" cy="327.29" r="1.12" fill="#3a3a3a"/>
<circle cx="155.13" cy="313.70" r="1.12" fill="#3a3a3a"/>
<circle cx="154.34" cy="316.33" r="1.12" fill="#3a3a3a"/>
<circle cx="155.15" cy="325.74" r="1.12" fill="#3a3a3a"/>
<circle cx="155.18" cy="323.21" r="1.12" fill="#3a3a3a"/>
<line x1="154.40" y1="320.71" x2="154.40" y2="315.40" stroke="#3a3a3a" stroke-width="0.7" />
<line x1="153.11" y1="315.40" x2="155.69" y2="315.40" stroke="#3a3a3a" stroke-width="0.7" />
<rect x="160.68" y="335.26" width="4.30" height="20.24" fill="#fff" stroke="#4b3df2" stroke-width="1.2"/>
<circle cx="162.56" cy="327.23" r="1.12" fill="#4b3df2"/>
<circle cx="163.98" cy="336.62" r="1.12" fill="#4b3df2"/>
<circle cx="161.98" cy="331.29" r="1.12" fill="#4b3df2"/>
<circle cx="161.93" cy="341.14" r="1.12" fill="#4b3df2"/>
<circle cx="163.62" cy="328.33" r="1.12" fill="#4b3df2"/>
<circle cx="163.67" cy="340.82" r="1.12" fill="#4b3df2"/>
<circle cx="163.24" cy="327.08" r="1.12" fill="#4b3df2"/>
<line x1="162.83" y1="335.26" x2="162.83" y2="329.95" stroke="#4b3df2" stroke-width="0.7" />
<line x1="161.54" y1="329.95" x2="164.12" y2="329.95" stroke="#4b3df2" stroke-width="0.7" />
<rect x="169.11" y="334.00" width="4.30" height="21.50" fill="#fff" stroke="#f2541f" stroke-width="1.2"/>
<circle cx="171.39" cy="336.19" r="1.12" fill="#f2541f"/>
<circle cx="170.01" cy="339.81" r="1.12" fill="#f2541f"/>
<circle cx="171.65" cy="325.97" r="1.12" fill="#f2541f"/>
<circle cx="172.38" cy="333.29" r="1.12" fill="#f2541f"/>
<circle cx="172.22" cy="334.82" r="1.12" fill="#f2541f"/>
<circle cx="170.51" cy="328.36" r="1.12" fill="#f2541f"/>
<circle cx="170.73" cy="337.82" r="1.12" fill="#f2541f"/>
<line x1="171.26" y1="334.00" x2="171.26" y2="328.68" stroke="#f2541f" stroke-width="0.7" />
<line x1="169.97" y1="328.68" x2="172.55" y2="328.68" stroke="#f2541f" stroke-width="0.7" />
<rect x="177.54" y="330.20" width="4.30" height="25.30" fill="#fff" stroke="#4d92f5" stroke-width="1.2"/>
<circle cx="179.91" cy="334.21" r="1.12" fill="#4d92f5"/>
<circle cx="179.48" cy="333.90" r="1.12" fill="#4d92f5"/>
<circle cx="180.75" cy="336.01" r="1.12" fill="#4d92f5"/>
<circle cx="179.58" cy="332.34" r="1.12" fill="#4d92f5"/>
<circle cx="180.73" cy="328.56" r="1.12" fill="#4d92f5"/>
<circle cx="180.77" cy="331.24" r="1.12" fill="#4d92f5"/>
<circle cx="179.77" cy="329.91" r="1.12" fill="#4d92f5"/>
<line x1="179.69" y1="330.20" x2="179.69" y2="324.89" stroke="#4d92f5" stroke-width="0.7" />
<line x1="178.40" y1="324.89" x2="180.98" y2="324.89" stroke="#4d92f5" stroke-width="0.7" />
<rect x="185.97" y="332.73" width="4.30" height="22.77" fill="#fff" stroke="#e9a35c" stroke-width="1.2"/>
<circle cx="186.88" cy="332.08" r="1.12" fill="#e9a35c"/>
<circle cx="187.30" cy="333.45" r="1.12" fill="#e9a35c"/>
<circle cx="188.89" cy="340.63" r="1.12" fill="#e9a35c"/>
<circle cx="188.05" cy="337.86" r="1.12" fill="#e9a35c"/>
<circle cx="188.27" cy="328.76" r="1.12" fill="#e9a35c"/>
<circle cx="188.17" cy="335.33" r="1.12" fill="#e9a35c"/>
<circle cx="188.85" cy="331.55" r="1.12" fill="#e9a35c"/>
<line x1="188.12" y1="332.73" x2="188.12" y2="327.42" stroke="#e9a35c" stroke-width="0.7" />
<line x1="186.83" y1="327.42" x2="189.41" y2="327.42" stroke="#e9a35c" stroke-width="0.7" />
<rect x="194.40" y="331.46" width="4.30" height="24.04" fill="#fff" stroke="#b6b6fb" stroke-width="1.2"/>
<circle cx="196.71" cy="337.69" r="1.12" fill="#b6b6fb"/>
<circle cx="195.97" cy="335.34" r="1.12" fill="#b6b6fb"/>
<circle cx="196.57" cy="326.72" r="1.12" fill="#b6b6fb"/>
<circle cx="197.22" cy="330.18" r="1.12" fill="#b6b6fb"/>
<circle cx="196.40" cy="324.41" r="1.12" fill="#b6b6fb"/>
<circle cx="196.56" cy="329.35" r="1.12" fill="#b6b6fb"/>
<circle cx="197.05" cy="331.00" r="1.12" fill="#b6b6fb"/>
<line x1="196.55" y1="331.46" x2="196.55" y2="326.15" stroke="#b6b6fb" stroke-width="0.7" />
<line x1="195.26" y1="326.15" x2="197.84" y2="326.15" stroke="#b6b6fb" stroke-width="0.7" />
<rect x="202.83" y="332.73" width="4.30" height="22.77" fill="#fff" stroke="#f3d3aa" stroke-width="1.2"/>
<circle cx="205.07" cy="333.25" r="1.12" fill="#f3d3aa"/>
<circle cx="206.12" cy="332.83" r="1.12" fill="#f3d3aa"/>
<circle cx="205.95" cy="329.18" r="1.12" fill="#f3d3aa"/>
<circle cx="204.36" cy="325.18" r="1.12" fill="#f3d3aa"/>
<circle cx="206.12" cy="331.48" r="1.12" fill="#f3d3aa"/>
<circle cx="204.04" cy="326.86" r="1.12" fill="#f3d3aa"/>
<circle cx="204.83" cy="338.70" r="1.12" fill="#f3d3aa"/>
<line x1="204.98" y1="332.73" x2="204.98" y2="327.42" stroke="#f3d3aa" stroke-width="0.7" />
<line x1="203.69" y1="327.42" x2="206.27" y2="327.42" stroke="#f3d3aa" stroke-width="0.7" />
<path d="M154.50,281.90 V277.50 H162.50 V324.58" fill="none" stroke="#3a3a3a" stroke-width="0.9"/>
<text x="158.62" y="274.60" font-size="5.45" text-anchor="middle" font-weight="normal" fill="#111" letter-spacing="-0.12" stroke="#222" stroke-width="0.12">&lt;0.0001</text>
<path d="M154.50,267.40 V263.50 H171.50 V267.90" fill="none" stroke="#3a3a3a" stroke-width="0.9"/>
<text x="162.83" y="260.60" font-size="5.45" text-anchor="middle" font-weight="normal" fill="#111" letter-spacing="-0.12" stroke="#222" stroke-width="0.12">0.0004</text>
<path d="M154.50,253.70 V250.50 H179.50 V322.39" fill="none" stroke="#3a3a3a" stroke-width="0.9"/>
<text x="167.05" y="246.90" font-size="5.45" text-anchor="middle" font-weight="normal" fill="#111" letter-spacing="-0.12" stroke="#222" stroke-width="0.12">0.0111</text>
<path d="M154.50,246.00 V236.50 H188.50 V324.92" fill="none" stroke="#3a3a3a" stroke-width="0.9"/>
<text x="171.26" y="233.20" font-size="5.45" text-anchor="middle" font-weight="normal" fill="#111" letter-spacing="-0.12" stroke="#222" stroke-width="0.12">0.0033</text>
<path d="M154.50,232.00 V222.50 H196.50 V321.91" fill="none" stroke="#3a3a3a" stroke-width="0.9"/>
<text x="175.48" y="219.20" font-size="5.45" text-anchor="middle" font-weight="normal" fill="#111" letter-spacing="-0.12" stroke="#222" stroke-width="0.12">0.0119</text>
<path d="M154.50,218.10 V208.50 H204.50 V322.68" fill="none" stroke="#3a3a3a" stroke-width="0.9"/>
<text x="179.69" y="205.30" font-size="5.45" text-anchor="middle" font-weight="normal" fill="#111" letter-spacing="-0.12" stroke="#222" stroke-width="0.12">0.0044</text>
<line x1="179.69" y1="355.50" x2="179.69" y2="357.50" stroke="#222" stroke-width="0.8" />
<text x="179.69" y="364.00" font-size="5.0" text-anchor="middle" font-weight="bold" fill="#222" >Spleen</text>
<line x1="19.00" y1="279.60" x2="19.00" y2="356.00" stroke="#111" stroke-width="1.1" />
<line x1="18.50" y1="355.50" x2="211.50" y2="355.50" stroke="#111" stroke-width="1.1" />
<line x1="16.50" y1="355.50" x2="19.00" y2="355.50" stroke="#111" stroke-width="0.9" />
<text x="15.80" y="358.40" font-size="5" text-anchor="end" font-weight="bold" fill="#222" >0</text>
<line x1="16.50" y1="330.20" x2="19.00" y2="330.20" stroke="#111" stroke-width="0.9" />
<text x="15.80" y="333.10" font-size="5" text-anchor="end" font-weight="bold" fill="#222" >2</text>
<line x1="16.50" y1="304.90" x2="19.00" y2="304.90" stroke="#111" stroke-width="0.9" />
<text x="15.80" y="307.80" font-size="5" text-anchor="end" font-weight="bold" fill="#222" >4</text>
<line x1="16.50" y1="279.60" x2="19.00" y2="279.60" stroke="#111" stroke-width="0.9" />
<text x="15.80" y="282.50" font-size="5" text-anchor="end" font-weight="bold" fill="#222" >6</text>
<text x="114.80" y="373.50" font-size="6.3" text-anchor="middle" font-weight="bold" fill="#111" >Intranasal</text>
<text transform="translate(9.00,318.00) rotate(-90)" font-size="5.3" text-anchor="middle" font-weight="bold" fill="#222">Copies/mL (Log<tspan font-size="3.6" dy="1">10</tspan><tspan dy="-1">)</tspan></text>
<text x="3.00" y="198.00" font-size="14" text-anchor="start" font-weight="bold" fill="#000" >b</text>
<line x1="19.00" y1="524.30" x2="211.50" y2="524.30" stroke="#222" stroke-width="0.8" stroke-dasharray="1.2,1.4"/>
<rect x="22.85" y="489.02" width="4.30" height="60.48" fill="#fff" stroke="#3a3a3a" stroke-width="1.2"/>
<circle cx="24.33" cy="498.27" r="1.12" fill="#3a3a3a"/>
<circle cx="25.44" cy="498.26" r="1.12" fill="#3a3a3a"/>
<circle cx="26.02" cy="482.27" r="1.12" fill="#3a3a3a"/>
<circle cx="25.56" cy="496.43" r="1.12" fill="#3a3a3a"/>
<circle cx="24.08" cy="485.05" r="1.12" fill="#3a3a3a"/>
<circle cx="26.21" cy="480.04" r="1.12" fill="#3a3a3a"/>
<circle cx="26.17" cy="494.97" r="1.12" fill="#3a3a3a"/>
<line x1="25.00" y1="489.02" x2="25.00" y2="481.76" stroke="#3a3a3a" stroke-width="0.7" />
<line x1="23.71" y1="481.76" x2="26.29" y2="481.76" stroke="#3a3a3a" stroke-width="0.7" />
<rect x="31.28" y="523.04" width="4.30" height="26.46" fill="#fff" stroke="#4b3df2" stroke-width="1.2"/>
<circle cx="33.40" cy="523.54" r="1.12" fill="#4b3df2"/>
<circle cx="34.29" cy="520.08" r="1.12" fill="#4b3df2"/>
<circle cx="33.25" cy="524.30" r="1.12" fill="#4b3df2"/>
<circle cx="33.01" cy="522.85" r="1.12" fill="#4b3df2"/>
<circle cx="32.96" cy="524.30" r="1.12" fill="#4b3df2"/>
<circle cx="32.19" cy="521.64" r="1.12" fill="#4b3df2"/>
<circle cx="33.28" cy="522.63" r="1.12" fill="#4b3df2"/>
<line x1="33.43" y1="523.04" x2="33.43" y2="521.15" stroke="#4b3df2" stroke-width="0.7" />
<line x1="32.14" y1="521.15" x2="34.72" y2="521.15" stroke="#4b3df2" stroke-width="0.7" />
<rect x="39.71" y="521.15" width="4.30" height="28.35" fill="#fff" stroke="#f2541f" stroke-width="1.2"/>
<circle cx="41.43" cy="524.30" r="1.12" fill="#f2541f"/>
<circle cx="41.89" cy="519.67" r="1.12" fill="#f2541f"/>
<circle cx="43.11" cy="524.30" r="1.12" fill="#f2541f"/>
<circle cx="43.08" cy="517.94" r="1.12" fill="#f2541f"/>
<circle cx="41.26" cy="524.30" r="1.12" fill="#f2541f"/>
<circle cx="42.58" cy="524.30" r="1.12" fill="#f2541f"/>
<circle cx="40.90" cy="523.40" r="1.12" fill="#f2541f"/>
<line x1="41.86" y1="521.15" x2="41.86" y2="517.75" stroke="#f2541f" stroke-width="0.7" />
<line x1="40.57" y1="517.75" x2="43.15" y2="517.75" stroke="#f2541f" stroke-width="0.7" />
<rect x="48.14" y="519.89" width="4.30" height="29.61" fill="#fff" stroke="#4d92f5" stroke-width="1.2"/>
<circle cx="51.35" cy="520.57" r="1.12" fill="#4d92f5"/>
<circle cx="49.67" cy="516.20" r="1.12" fill="#4d92f5"/>
<circle cx="51.37" cy="523.57" r="1.12" fill="#4d92f5"/>
<circle cx="50.81" cy="518.93" r="1.12" fill="#4d92f5"/>
<circle cx="49.15" cy="524.23" r="1.12" fill="#4d92f5"/>
<circle cx="50.10" cy="517.64" r="1.12" fill="#4d92f5"/>
<circle cx="51.42" cy="524.30" r="1.12" fill="#4d92f5"/>
<line x1="50.29" y1="519.89" x2="50.29" y2="516.34" stroke="#4d92f5" stroke-width="0.7" />
<line x1="49.00" y1="516.34" x2="51.58" y2="516.34" stroke="#4d92f5" stroke-width="0.7" />
<rect x="56.57" y="514.85" width="4.30" height="34.65" fill="#fff" stroke="#e9a35c" stroke-width="1.2"/>
<circle cx="59.50" cy="512.91" r="1.12" fill="#e9a35c"/>
<circle cx="59.64" cy="520.01" r="1.12" fill="#e9a35c"/>
<circle cx="59.66" cy="520.23" r="1.12" fill="#e9a35c"/>
<circle cx="58.31" cy="515.24" r="1.12" fill="#e9a35c"/>
<circle cx="59.82" cy="513.96" r="1.12" fill="#e9a35c"/>
<circle cx="57.76" cy="517.63" r="1.12" fill="#e9a35c"/>
<circle cx="58.05" cy="514.30" r="1.12" fill="#e9a35c"/>
<line x1="58.72" y1="514.85" x2="58.72" y2="510.69" stroke="#e9a35c" stroke-width="0.7" />
<line x1="57.43" y1="510.69" x2="60.01" y2="510.69" stroke="#e9a35c" stroke-width="0.7" />
<rect x="65.00" y="511.70" width="4.30" height="37.80" fill="#fff" stroke="#b6b6fb" stroke-width="1.2"/>
<circle cx="66.28" cy="516.96" r="1.12" fill="#b6b6fb"/>
<circle cx="66.38" cy="517.80" r="1.12" fill="#b6b6fb"/>
<circle cx="66.65" cy="514.12" r="1.12" fill="#b6b6fb"/>
<circle cx="66.61" cy="507.82" r="1.12" fill="#b6b6fb"/>
<circle cx="66.32" cy="511.47" r="1.12" fill="#b6b6fb"/>
<circle cx="65.91" cy="513.62" r="1.12" fill="#b6b6fb"/>
<circle cx="65.90" cy="514.98" r="1.12" fill="#b6b6fb"/>
<line x1="67.15" y1="511.70" x2="67.15" y2="507.16" stroke="#b6b6fb" stroke-width="0.7" />
<line x1="65.86" y1="507.16" x2="68.44" y2="507.16" stroke="#b6b6fb" stroke-width="0.7" />
<rect x="73.43" y="509.18" width="4.30" height="40.32" fill="#fff" stroke="#f3d3aa" stroke-width="1.2"/>
<circle cx="75.71" cy="505.44" r="1.12" fill="#f3d3aa"/>
<circle cx="75.51" cy="513.60" r="1.12" fill="#f3d3aa"/>
<circle cx="74.56" cy="502.42" r="1.12" fill="#f3d3aa"/>
<circle cx="75.41" cy="504.15" r="1.12" fill="#f3d3aa"/>
<circle cx="76.44" cy="509.01" r="1.12" fill="#f3d3aa"/>
<circle cx="75.60" cy="510.54" r="1.12" fill="#f3d3aa"/>
<circle cx="76.82" cy="506.12" r="1.12" fill="#f3d3aa"/>
<line x1="75.58" y1="509.18" x2="75.58" y2="504.34" stroke="#f3d3aa" stroke-width="0.7" />
<line x1="74.29" y1="504.34" x2="76.87" y2="504.34" stroke="#f3d3aa" stroke-width="0.7" />
<path d="M24.50,477.30 V473.50 H33.50 V517.58" fill="none" stroke="#3a3a3a" stroke-width="0.9"/>
<text x="29.21" y="470.00" font-size="5.45" text-anchor="middle" font-weight="normal" fill="#111" letter-spacing="-0.12" stroke="#222" stroke-width="0.12">&lt;0.0001</text>
<path d="M24.50,463.00 V459.50 H41.50 V463.50" fill="none" stroke="#3a3a3a" stroke-width="0.9"/>
<text x="33.43" y="456.20" font-size="5.45" text-anchor="middle" font-weight="normal" fill="#111" letter-spacing="-0.12" stroke="#222" stroke-width="0.12">&lt;0.0001</text>
<path d="M24.50,449.30 V445.50 H50.50 V513.70" fill="none" stroke="#3a3a3a" stroke-width="0.9"/>
<text x="37.64" y="442.50" font-size="5.45" text-anchor="middle" font-weight="normal" fill="#111" letter-spacing="-0.12" stroke="#222" stroke-width="0.12">&lt;0.0001</text>
<path d="M24.50,441.30 V431.50 H58.50 V508.19" fill="none" stroke="#3a3a3a" stroke-width="0.9"/>
<text x="41.86" y="428.50" font-size="5.45" text-anchor="middle" font-weight="normal" fill="#111" letter-spacing="-0.12" stroke="#222" stroke-width="0.12">&lt;0.0001</text>
<path d="M24.50,427.30 V417.50 H67.50 V504.66" fill="none" stroke="#3a3a3a" stroke-width="0.9"/>
<text x="46.08" y="414.50" font-size="5.45" text-anchor="middle" font-weight="normal" fill="#111" letter-spacing="-0.12" stroke="#222" stroke-width="0.12">&lt;0.0001</text>
<path d="M24.50,413.30 V403.50 H75.50 V499.92" fill="none" stroke="#3a3a3a" stroke-width="0.9"/>
<text x="50.29" y="400.50" font-size="5.45" text-anchor="middle" font-weight="normal" fill="#111" letter-spacing="-0.12" stroke="#222" stroke-width="0.12">&lt;0.0001</text>
<line x1="50.29" y1="549.50" x2="50.29" y2="551.50" stroke="#222" stroke-width="0.8" />
<text x="50.29" y="558.00" font-size="5.0" text-anchor="middle" font-weight="bold" fill="#222" >Lung</text>
<rect x="87.55" y="518.00" width="4.30" height="31.50" fill="#fff" stroke="#3a3a3a" stroke-width="1.2"/>
<circle cx="90.56" cy="519.65" r="1.12" fill="#3a3a3a"/>
<circle cx="90.05" cy="515.39" r="1.12" fill="#3a3a3a"/>
<circle cx="89.31" cy="518.93" r="1.12" fill="#3a3a3a"/>
<circle cx="88.74" cy="523.03" r="1.12" fill="#3a3a3a"/>
<circle cx="90.32" cy="522.84" r="1.12" fill="#3a3a3a"/>
<circle cx="88.83" cy="520.67" r="1.12" fill="#3a3a3a"/>
<circle cx="90.58" cy="522.68" r="1.12" fill="#3a3a3a"/>
<line x1="89.70" y1="518.00" x2="89.70" y2="514.22" stroke="#3a3a3a" stroke-width="0.7" />
<line x1="88.41" y1="514.22" x2="90.99" y2="514.22" stroke="#3a3a3a" stroke-width="0.7" />
<rect x="95.98" y="524.30" width="4.30" height="25.20" fill="#fff" stroke="#4b3df2" stroke-width="1.2"/>
<rect x="95.68" y="523.10" width="4.90" height="2.2" fill="#4b3df2"/>
<rect x="104.41" y="524.30" width="4.30" height="25.20" fill="#fff" stroke="#f2541f" stroke-width="1.2"/>
<rect x="104.11" y="523.10" width="4.90" height="2.2" fill="#f2541f"/>
<rect x="112.84" y="524.30" width="4.30" height="25.20" fill="#fff" stroke="#4d92f5" stroke-width="1.2"/>
<rect x="112.54" y="523.10" width="4.90" height="2.2" fill="#4d92f5"/>
<circle cx="114.99" cy="522.41" r="1.12" fill="#4d92f5"/>
<rect x="121.27" y="523.67" width="4.30" height="25.83" fill="#fff" stroke="#e9a35c" stroke-width="1.2"/>
<rect x="120.97" y="522.47" width="4.90" height="2.2" fill="#e9a35c"/>
<circle cx="123.42" cy="521.78" r="1.12" fill="#e9a35c"/>
<rect x="129.70" y="521.15" width="4.30" height="28.35" fill="#fff" stroke="#b6b6fb" stroke-width="1.2"/>
<circle cx="131.75" cy="523.16" r="1.12" fill="#b6b6fb"/>
<circle cx="131.71" cy="524.30" r="1.12" fill="#b6b6fb"/>
<circle cx="133.04" cy="523.48" r="1.12" fill="#b6b6fb"/>
<circle cx="131.97" cy="516.00" r="1.12" fill="#b6b6fb"/>
<circle cx="133.05" cy="523.68" r="1.12" fill="#b6b6fb"/>
<circle cx="131.48" cy="522.99" r="1.12" fill="#b6b6fb"/>
<circle cx="131.54" cy="524.30" r="1.12" fill="#b6b6fb"/>
<line x1="131.85" y1="521.15" x2="131.85" y2="517.75" stroke="#b6b6fb" stroke-width="0.7" />
<line x1="130.56" y1="517.75" x2="133.14" y2="517.75" stroke="#b6b6fb" stroke-width="0.7" />
<rect x="138.13" y="521.78" width="4.30" height="27.72" fill="#fff" stroke="#f3d3aa" stroke-width="1.2"/>
<circle cx="140.29" cy="521.87" r="1.12" fill="#f3d3aa"/>
<circle cx="140.29" cy="524.30" r="1.12" fill="#f3d3aa"/>
<circle cx="139.67" cy="524.30" r="1.12" fill="#f3d3aa"/>
<circle cx="140.02" cy="524.30" r="1.12" fill="#f3d3aa"/>
<circle cx="139.05" cy="524.30" r="1.12" fill="#f3d3aa"/>
<circle cx="139.59" cy="523.60" r="1.12" fill="#f3d3aa"/>
<circle cx="140.36" cy="520.75" r="1.12" fill="#f3d3aa"/>
<line x1="140.28" y1="521.78" x2="140.28" y2="518.50" stroke="#f3d3aa" stroke-width="0.7" />
<line x1="138.99" y1="518.50" x2="141.57" y2="518.50" stroke="#f3d3aa" stroke-width="0.7" />
<path d="M89.50,477.30 V473.50 H98.50 V520.79" fill="none" stroke="#3a3a3a" stroke-width="0.9"/>
<text x="93.91" y="470.00" font-size="5.45" text-anchor="middle" font-weight="normal" fill="#111" letter-spacing="-0.12" stroke="#222" stroke-width="0.12">0.0187</text>
<path d="M89.50,463.00 V459.50 H106.50 V520.79" fill="none" stroke="#3a3a3a" stroke-width="0.9"/>
<text x="98.13" y="456.20" font-size="5.45" text-anchor="middle" font-weight="normal" fill="#111" letter-spacing="-0.12" stroke="#222" stroke-width="0.12">0.0187</text>
<path d="M89.50,449.30 V445.50 H114.50 V519.91" fill="none" stroke="#3a3a3a" stroke-width="0.9"/>
<text x="102.34" y="442.50" font-size="5.45" text-anchor="middle" font-weight="normal" fill="#111" letter-spacing="-0.12" stroke="#222" stroke-width="0.12">0.0283</text>
<path d="M89.50,441.30 V431.50 H123.50 V519.28" fill="none" stroke="#3a3a3a" stroke-width="0.9"/>
<text x="106.56" y="428.50" font-size="5.45" text-anchor="middle" font-weight="normal" fill="#111" letter-spacing="-0.12" stroke="#222" stroke-width="0.12">0.0612</text>
<path d="M89.50,427.30 V417.50 H131.50 V513.50" fill="none" stroke="#3a3a3a" stroke-width="0.9"/>
<text x="110.78" y="414.50" font-size="5.45" text-anchor="middle" font-weight="normal" fill="#111" letter-spacing="-0.12" stroke="#222" stroke-width="0.12">0.5776</text>
<path d="M89.50,413.30 V403.50 H140.50 V516.00" fill="none" stroke="#3a3a3a" stroke-width="0.9"/>
<text x="114.99" y="400.50" font-size="5.45" text-anchor="middle" font-weight="normal" fill="#111" letter-spacing="-0.12" stroke="#222" stroke-width="0.12">0.2580</text>
<line x1="114.99" y1="549.50" x2="114.99" y2="551.50" stroke="#222" stroke-width="0.8" />
<text x="114.99" y="558.00" font-size="5.0" text-anchor="middle" font-weight="bold" fill="#222" >Liver</text>
<rect x="152.25" y="516.11" width="4.30" height="33.39" fill="#fff" stroke="#3a3a3a" stroke-width="1.2"/>
<circle cx="154.81" cy="512.80" r="1.12" fill="#3a3a3a"/>
<circle cx="155.38" cy="513.23" r="1.12" fill="#3a3a3a"/>
<circle cx="153.95" cy="517.28" r="1.12" fill="#3a3a3a"/>
<circle cx="153.50" cy="509.89" r="1.12" fill="#3a3a3a"/>
<circle cx="154.77" cy="513.13" r="1.12" fill="#3a3a3a"/>
<circle cx="155.27" cy="521.58" r="1.12" fill="#3a3a3a"/>
<circle cx="154.73" cy="511.04" r="1.12" fill="#3a3a3a"/>
<line x1="154.40" y1="516.11" x2="154.40" y2="512.10" stroke="#3a3a3a" stroke-width="0.7" />
<line x1="153.11" y1="512.10" x2="155.69" y2="512.10" stroke="#3a3a3a" stroke-width="0.7" />
<rect x="160.68" y="524.30" width="4.30" height="25.20" fill="#fff" stroke="#4b3df2" stroke-width="1.2"/>
<rect x="160.38" y="523.10" width="4.90" height="2.2" fill="#4b3df2"/>
<rect x="169.11" y="524.30" width="4.30" height="25.20" fill="#fff" stroke="#f2541f" stroke-width="1.2"/>
<rect x="168.81" y="523.10" width="4.90" height="2.2" fill="#f2541f"/>
<rect x="177.54" y="524.30" width="4.30" height="25.20" fill="#fff" stroke="#4d92f5" stroke-width="1.2"/>
<rect x="177.24" y="523.10" width="4.90" height="2.2" fill="#4d92f5"/>
<circle cx="179.69" cy="522.41" r="1.12" fill="#4d92f5"/>
<rect x="185.97" y="524.30" width="4.30" height="25.20" fill="#fff" stroke="#e9a35c" stroke-width="1.2"/>
<rect x="185.67" y="523.10" width="4.90" height="2.2" fill="#e9a35c"/>
<circle cx="188.12" cy="522.41" r="1.12" fill="#e9a35c"/>
<rect x="194.40" y="518.00" width="4.30" height="31.50" fill="#fff" stroke="#b6b6fb" stroke-width="1.2"/>
<circle cx="197.41" cy="517.76" r="1.12" fill="#b6b6fb"/>
<circle cx="197.39" cy="514.24" r="1.12" fill="#b6b6fb"/>
<circle cx="197.56" cy="516.83" r="1.12" fill="#b6b6fb"/>
<circle cx="197.05" cy="515.67" r="1.12" fill="#b6b6fb"/>
<circle cx="195.34" cy="520.98" r="1.12" fill="#b6b6fb"/>
<circle cx="196.19" cy="522.11" r="1.12" fill="#b6b6fb"/>
<circle cx="197.42" cy="522.44" r="1.12" fill="#b6b6fb"/>
<line x1="196.55" y1="518.00" x2="196.55" y2="514.22" stroke="#b6b6fb" stroke-width="0.7" />
<line x1="195.26" y1="514.22" x2="197.84" y2="514.22" stroke="#b6b6fb" stroke-width="0.7" />
<rect x="202.83" y="521.15" width="4.30" height="28.35" fill="#fff" stroke="#f3d3aa" stroke-width="1.2"/>
<circle cx="205.31" cy="520.36" r="1.12" fill="#f3d3aa"/>
<circle cx="205.45" cy="519.65" r="1.12" fill="#f3d3aa"/>
<circle cx="203.70" cy="521.09" r="1.12" fill="#f3d3aa"/>
<circle cx="205.62" cy="517.84" r="1.12" fill="#f3d3aa"/>
<circle cx="205.07" cy="520.95" r="1.12" fill="#f3d3aa"/>
<circle cx="203.86" cy="519.30" r="1.12" fill="#f3d3aa"/>
<circle cx="204.34" cy="518.48" r="1.12" fill="#f3d3aa"/>
<line x1="204.98" y1="521.15" x2="204.98" y2="517.75" stroke="#f3d3aa" stroke-width="0.7" />
<line x1="203.69" y1="517.75" x2="206.27" y2="517.75" stroke="#f3d3aa" stroke-width="0.7" />
<path d="M154.50,477.30 V473.50 H162.50 V520.79" fill="none" stroke="#3a3a3a" stroke-width="0.9"/>
<text x="158.62" y="470.00" font-size="5.45" text-anchor="middle" font-weight="normal" fill="#111" letter-spacing="-0.12" stroke="#222" stroke-width="0.12">0.0245</text>
<path d="M154.50,463.00 V459.50 H171.50 V520.79" fill="none" stroke="#3a3a3a" stroke-width="0.9"/>
<text x="162.83" y="456.20" font-size="5.45" text-anchor="middle" font-weight="normal" fill="#111" letter-spacing="-0.12" stroke="#222" stroke-width="0.12">0.0245</text>
<path d="M154.50,449.30 V445.50 H179.50 V519.91" fill="none" stroke="#3a3a3a" stroke-width="0.9"/>
<text x="167.05" y="442.50" font-size="5.45" text-anchor="middle" font-weight="normal" fill="#111" letter-spacing="-0.12" stroke="#222" stroke-width="0.12">0.0537</text>
<path d="M154.50,441.30 V431.50 H188.50 V519.91" fill="none" stroke="#3a3a3a" stroke-width="0.9"/>
<text x="171.26" y="428.50" font-size="5.45" text-anchor="middle" font-weight="normal" fill="#111" letter-spacing="-0.12" stroke="#222" stroke-width="0.12">0.0774</text>
<path d="M154.50,427.30 V417.50 H196.50 V511.72" fill="none" stroke="#3a3a3a" stroke-width="0.9"/>
<text x="175.48" y="414.50" font-size="5.45" text-anchor="middle" font-weight="normal" fill="#111" letter-spacing="-0.12" stroke="#222" stroke-width="0.12">0.9999</text>
<path d="M154.50,413.30 V403.50 H204.50 V515.25" fill="none" stroke="#3a3a3a" stroke-width="0.9"/>
<text x="179.69" y="400.50" font-size="5.45" text-anchor="middle" font-weight="normal" fill="#111" letter-spacing="-0.12" stroke="#222" stroke-width="0.12">0.3780</text>
<line x1="179.69" y1="549.50" x2="179.69" y2="551.50" stroke="#222" stroke-width="0.8" />
<text x="179.69" y="558.00" font-size="5.0" text-anchor="middle" font-weight="bold" fill="#222" >Spleen</text>
<line x1="19.00" y1="473.90" x2="19.00" y2="550.00" stroke="#111" stroke-width="1.1" />
<line x1="18.50" y1="549.50" x2="211.50" y2="549.50" stroke="#111" stroke-width="1.1" />
<line x1="16.50" y1="549.50" x2="19.00" y2="549.50" stroke="#111" stroke-width="0.9" />
<text x="15.80" y="552.40" font-size="5" text-anchor="end" font-weight="bold" fill="#222" >0</text>
<line x1="16.50" y1="524.30" x2="19.00" y2="524.30" stroke="#111" stroke-width="0.9" />
<text x="15.80" y="527.20" font-size="5" text-anchor="end" font-weight="bold" fill="#222" >2</text>
<line x1="16.50" y1="499.10" x2="19.00" y2="499.10" stroke="#111" stroke-width="0.9" />
<text x="15.80" y="502.00" font-size="5" text-anchor="end" font-weight="bold" fill="#222" >4</text>
<line x1="16.50" y1="473.90" x2="19.00" y2="473.90" stroke="#111" stroke-width="0.9" />
<text x="15.80" y="476.80" font-size="5" text-anchor="end" font-weight="bold" fill="#222" >6</text>
<text x="114.80" y="567.50" font-size="6.3" text-anchor="middle" font-weight="bold" fill="#111" >Intranasal</text>
<text transform="translate(9.00,513.70) rotate(-90)" font-size="5.3" text-anchor="middle" font-weight="bold" fill="#222">TCID<tspan font-size="4" dy="1">50</tspan><tspan dy="-1">/mL  (Log</tspan><tspan font-size="4" dy="1">10</tspan><tspan dy="-1">)</tspan></text>
<line x1="250.90" y1="343.30" x2="441.60" y2="343.30" stroke="#222" stroke-width="0.8" stroke-dasharray="1.2,1.4"/>
<line x1="250.90" y1="340.78" x2="441.60" y2="340.78" stroke="#aaa" stroke-width="0.8" stroke-dasharray="1.2,1.4"/>
<rect x="254.05" y="297.10" width="2.90" height="58.80" fill="#fff" stroke="#3a3a3a" stroke-width="1.0"/>
<circle cx="255.09" cy="307.76" r="0.9" fill="#3a3a3a"/>
<circle cx="254.99" cy="290.71" r="0.9" fill="#3a3a3a"/>
<circle cx="256.33" cy="290.43" r="0.9" fill="#3a3a3a"/>
<circle cx="255.30" cy="296.84" r="0.9" fill="#3a3a3a"/>
<circle cx="255.82" cy="297.23" r="0.9" fill="#3a3a3a"/>
<circle cx="255.70" cy="289.73" r="0.9" fill="#3a3a3a"/>
<circle cx="254.76" cy="292.96" r="0.9" fill="#3a3a3a"/>
<line x1="255.50" y1="297.10" x2="255.50" y2="288.70" stroke="#3a3a3a" stroke-width="0.7" />
<line x1="254.63" y1="288.70" x2="256.37" y2="288.70" stroke="#3a3a3a" stroke-width="0.7" />
<rect x="260.30" y="331.54" width="2.90" height="24.36" fill="#fff" stroke="#4b3df2" stroke-width="1.0"/>
<circle cx="261.32" cy="334.61" r="0.9" fill="#4b3df2"/>
<circle cx="261.41" cy="329.18" r="0.9" fill="#4b3df2"/>
<circle cx="260.90" cy="330.78" r="0.9" fill="#4b3df2"/>
<circle cx="261.35" cy="335.40" r="0.9" fill="#4b3df2"/>
<circle cx="262.08" cy="329.83" r="0.9" fill="#4b3df2"/>
<circle cx="261.39" cy="329.79" r="0.9" fill="#4b3df2"/>
<circle cx="261.69" cy="331.24" r="0.9" fill="#4b3df2"/>
<line x1="261.75" y1="331.54" x2="261.75" y2="328.60" stroke="#4b3df2" stroke-width="0.7" />
<line x1="260.88" y1="328.60" x2="262.62" y2="328.60" stroke="#4b3df2" stroke-width="0.7" />
<rect x="266.55" y="301.30" width="2.90" height="54.60" fill="#fff" stroke="#f2541f" stroke-width="1.0"/>
<circle cx="267.34" cy="301.57" r="0.9" fill="#f2541f"/>
<circle cx="267.48" cy="294.90" r="0.9" fill="#f2541f"/>
<circle cx="268.76" cy="293.58" r="0.9" fill="#f2541f"/>
<circle cx="267.93" cy="308.59" r="0.9" fill="#f2541f"/>
<circle cx="268.81" cy="296.05" r="0.9" fill="#f2541f"/>
<circle cx="267.60" cy="301.84" r="0.9" fill="#f2541f"/>
<circle cx="268.78" cy="305.58" r="0.9" fill="#f2541f"/>
<line x1="268.00" y1="301.30" x2="268.00" y2="296.26" stroke="#f2541f" stroke-width="0.7" />
<line x1="267.13" y1="296.26" x2="268.87" y2="296.26" stroke="#f2541f" stroke-width="0.7" />
<rect x="272.80" y="324.82" width="2.90" height="31.08" fill="#fff" stroke="#4d92f5" stroke-width="1.0"/>
<circle cx="274.39" cy="331.22" r="0.9" fill="#4d92f5"/>
<circle cx="274.29" cy="332.84" r="0.9" fill="#4d92f5"/>
<circle cx="273.61" cy="313.83" r="0.9" fill="#4d92f5"/>
<circle cx="274.27" cy="316.94" r="0.9" fill="#4d92f5"/>
<circle cx="274.60" cy="315.38" r="0.9" fill="#4d92f5"/>
<circle cx="274.94" cy="330.74" r="0.9" fill="#4d92f5"/>
<circle cx="273.42" cy="324.77" r="0.9" fill="#4d92f5"/>
<line x1="274.25" y1="324.82" x2="274.25" y2="317.26" stroke="#4d92f5" stroke-width="0.7" />
<line x1="273.38" y1="317.26" x2="275.12" y2="317.26" stroke="#4d92f5" stroke-width="0.7" />
<rect x="279.05" y="301.30" width="2.90" height="54.60" fill="#fff" stroke="#e9a35c" stroke-width="1.0"/>
<circle cx="280.49" cy="307.55" r="0.9" fill="#e9a35c"/>
<circle cx="280.16" cy="301.73" r="0.9" fill="#e9a35c"/>
<circle cx="280.23" cy="305.77" r="0.9" fill="#e9a35c"/>
<circle cx="281.09" cy="303.48" r="0.9" fill="#e9a35c"/>
<circle cx="280.94" cy="307.58" r="0.9" fill="#e9a35c"/>
<circle cx="279.84" cy="296.67" r="0.9" fill="#e9a35c"/>
<circle cx="280.87" cy="295.54" r="0.9" fill="#e9a35c"/>
<line x1="280.50" y1="301.30" x2="280.50" y2="297.10" stroke="#e9a35c" stroke-width="0.7" />
<line x1="279.63" y1="297.10" x2="281.37" y2="297.10" stroke="#e9a35c" stroke-width="0.7" />
<rect x="285.30" y="302.14" width="2.90" height="53.76" fill="#fff" stroke="#b6b6fb" stroke-width="1.0"/>
<circle cx="286.38" cy="296.70" r="0.9" fill="#b6b6fb"/>
<circle cx="286.56" cy="303.59" r="0.9" fill="#b6b6fb"/>
<circle cx="286.91" cy="295.44" r="0.9" fill="#b6b6fb"/>
<circle cx="286.62" cy="303.74" r="0.9" fill="#b6b6fb"/>
<circle cx="285.96" cy="304.86" r="0.9" fill="#b6b6fb"/>
<circle cx="287.33" cy="307.12" r="0.9" fill="#b6b6fb"/>
<circle cx="287.51" cy="304.72" r="0.9" fill="#b6b6fb"/>
<line x1="286.75" y1="302.14" x2="286.75" y2="297.94" stroke="#b6b6fb" stroke-width="0.7" />
<line x1="285.88" y1="297.94" x2="287.62" y2="297.94" stroke="#b6b6fb" stroke-width="0.7" />
<rect x="291.55" y="297.52" width="2.90" height="58.38" fill="#fff" stroke="#f3d3aa" stroke-width="1.0"/>
<circle cx="292.59" cy="300.57" r="0.9" fill="#f3d3aa"/>
<circle cx="292.46" cy="297.17" r="0.9" fill="#f3d3aa"/>
<circle cx="293.79" cy="298.96" r="0.9" fill="#f3d3aa"/>
<circle cx="293.54" cy="292.31" r="0.9" fill="#f3d3aa"/>
<circle cx="293.72" cy="295.61" r="0.9" fill="#f3d3aa"/>
<circle cx="293.09" cy="291.57" r="0.9" fill="#f3d3aa"/>
<circle cx="292.22" cy="294.45" r="0.9" fill="#f3d3aa"/>
<line x1="293.00" y1="297.52" x2="293.00" y2="293.32" stroke="#f3d3aa" stroke-width="0.7" />
<line x1="292.13" y1="293.32" x2="293.87" y2="293.32" stroke="#f3d3aa" stroke-width="0.7" />
<path d="M255.50,283.10 V279.50 H261.50 V326.10" fill="none" stroke="#3a3a3a" stroke-width="0.9"/>
<text x="258.62" y="275.80" font-size="5.45" text-anchor="middle" font-weight="normal" fill="#111" letter-spacing="-0.12" stroke="#222" stroke-width="0.12">&lt;0.0001</text>
<path d="M255.50,268.90 V265.50 H267.50 V269.40" fill="none" stroke="#3a3a3a" stroke-width="0.9"/>
<text x="261.75" y="262.10" font-size="5.45" text-anchor="middle" font-weight="normal" fill="#111" letter-spacing="-0.12" stroke="#222" stroke-width="0.12">0.5189</text>
<path d="M255.50,254.90 V251.50 H274.50 V311.33" fill="none" stroke="#3a3a3a" stroke-width="0.9"/>
<text x="264.88" y="248.10" font-size="5.45" text-anchor="middle" font-weight="normal" fill="#111" letter-spacing="-0.12" stroke="#222" stroke-width="0.12">&lt;0.0001</text>
<path d="M255.50,240.90 V237.50 H280.50 V293.04" fill="none" stroke="#3a3a3a" stroke-width="0.9"/>
<text x="268.00" y="234.10" font-size="5.45" text-anchor="middle" font-weight="normal" fill="#111" letter-spacing="-0.12" stroke="#222" stroke-width="0.12">0.2749</text>
<path d="M255.50,233.30 V223.50 H286.50 V292.94" fill="none" stroke="#3a3a3a" stroke-width="0.9"/>
<text x="271.12" y="220.50" font-size="5.45" text-anchor="middle" font-weight="normal" fill="#111" letter-spacing="-0.12" stroke="#222" stroke-width="0.12">0.2422</text>
<path d="M255.50,219.80 V210.50 H292.50 V289.07" fill="none" stroke="#3a3a3a" stroke-width="0.9"/>
<text x="274.25" y="207.00" font-size="5.45" text-anchor="middle" font-weight="normal" fill="#111" letter-spacing="-0.12" stroke="#222" stroke-width="0.12">0.9998</text>
<line x1="274.25" y1="355.90" x2="274.25" y2="357.90" stroke="#222" stroke-width="0.8" />
<text x="274.25" y="364.00" font-size="5.0" text-anchor="middle" font-weight="bold" fill="#222" >Skin</text>
<rect x="302.25" y="315.16" width="2.90" height="40.74" fill="#fff" stroke="#3a3a3a" stroke-width="1.0"/>
<circle cx="303.61" cy="311.08" r="0.9" fill="#3a3a3a"/>
<circle cx="303.95" cy="310.75" r="0.9" fill="#3a3a3a"/>
<circle cx="302.92" cy="318.41" r="0.9" fill="#3a3a3a"/>
<circle cx="303.05" cy="307.89" r="0.9" fill="#3a3a3a"/>
<circle cx="303.43" cy="315.35" r="0.9" fill="#3a3a3a"/>
<circle cx="304.12" cy="318.22" r="0.9" fill="#3a3a3a"/>
<circle cx="303.28" cy="307.08" r="0.9" fill="#3a3a3a"/>
<line x1="303.70" y1="315.16" x2="303.70" y2="309.86" stroke="#3a3a3a" stroke-width="0.7" />
<line x1="302.83" y1="309.86" x2="304.57" y2="309.86" stroke="#3a3a3a" stroke-width="0.7" />
<rect x="308.50" y="332.38" width="2.90" height="23.52" fill="#fff" stroke="#4b3df2" stroke-width="1.0"/>
<circle cx="309.60" cy="330.50" r="0.9" fill="#4b3df2"/>
<circle cx="309.77" cy="331.58" r="0.9" fill="#4b3df2"/>
<circle cx="309.36" cy="335.84" r="0.9" fill="#4b3df2"/>
<circle cx="310.66" cy="335.40" r="0.9" fill="#4b3df2"/>
<circle cx="309.46" cy="332.24" r="0.9" fill="#4b3df2"/>
<circle cx="310.81" cy="327.76" r="0.9" fill="#4b3df2"/>
<circle cx="309.32" cy="332.75" r="0.9" fill="#4b3df2"/>
<line x1="309.95" y1="332.38" x2="309.95" y2="328.85" stroke="#4b3df2" stroke-width="0.7" />
<line x1="309.08" y1="328.85" x2="310.82" y2="328.85" stroke="#4b3df2" stroke-width="0.7" />
<rect x="314.75" y="327.76" width="2.90" height="28.14" fill="#fff" stroke="#f2541f" stroke-width="1.0"/>
<circle cx="315.49" cy="331.07" r="0.9" fill="#f2541f"/>
<circle cx="315.49" cy="329.37" r="0.9" fill="#f2541f"/>
<circle cx="315.78" cy="330.54" r="0.9" fill="#f2541f"/>
<circle cx="316.87" cy="326.79" r="0.9" fill="#f2541f"/>
<circle cx="316.05" cy="324.75" r="0.9" fill="#f2541f"/>
<circle cx="316.24" cy="328.55" r="0.9" fill="#f2541f"/>
<circle cx="315.92" cy="328.97" r="0.9" fill="#f2541f"/>
<line x1="316.20" y1="327.76" x2="316.20" y2="324.10" stroke="#f2541f" stroke-width="0.7" />
<line x1="315.33" y1="324.10" x2="317.07" y2="324.10" stroke="#f2541f" stroke-width="0.7" />
<rect x="321.00" y="329.02" width="2.90" height="26.88" fill="#fff" stroke="#4d92f5" stroke-width="1.0"/>
<circle cx="322.06" cy="333.63" r="0.9" fill="#4d92f5"/>
<circle cx="321.80" cy="323.73" r="0.9" fill="#4d92f5"/>
<circle cx="322.68" cy="328.81" r="0.9" fill="#4d92f5"/>
<circle cx="321.96" cy="324.88" r="0.9" fill="#4d92f5"/>
<circle cx="322.01" cy="331.35" r="0.9" fill="#4d92f5"/>
<circle cx="322.36" cy="329.94" r="0.9" fill="#4d92f5"/>
<circle cx="323.06" cy="323.88" r="0.9" fill="#4d92f5"/>
<line x1="322.45" y1="329.02" x2="322.45" y2="325.49" stroke="#4d92f5" stroke-width="0.7" />
<line x1="321.58" y1="325.49" x2="323.32" y2="325.49" stroke="#4d92f5" stroke-width="0.7" />
<rect x="327.25" y="326.08" width="2.90" height="29.82" fill="#fff" stroke="#e9a35c" stroke-width="1.0"/>
<circle cx="327.87" cy="321.40" r="0.9" fill="#e9a35c"/>
<circle cx="329.06" cy="331.51" r="0.9" fill="#e9a35c"/>
<circle cx="328.65" cy="321.13" r="0.9" fill="#e9a35c"/>
<circle cx="327.83" cy="324.84" r="0.9" fill="#e9a35c"/>
<circle cx="329.44" cy="327.19" r="0.9" fill="#e9a35c"/>
<circle cx="329.32" cy="321.97" r="0.9" fill="#e9a35c"/>
<circle cx="328.26" cy="320.21" r="0.9" fill="#e9a35c"/>
<line x1="328.70" y1="326.08" x2="328.70" y2="322.20" stroke="#e9a35c" stroke-width="0.7" />
<line x1="327.83" y1="322.20" x2="329.57" y2="322.20" stroke="#e9a35c" stroke-width="0.7" />
<rect x="333.50" y="324.82" width="2.90" height="31.08" fill="#fff" stroke="#b6b6fb" stroke-width="1.0"/>
<circle cx="334.35" cy="329.51" r="0.9" fill="#b6b6fb"/>
<circle cx="335.27" cy="324.34" r="0.9" fill="#b6b6fb"/>
<circle cx="335.34" cy="319.09" r="0.9" fill="#b6b6fb"/>
<circle cx="335.41" cy="322.77" r="0.9" fill="#b6b6fb"/>
<circle cx="335.04" cy="325.15" r="0.9" fill="#b6b6fb"/>
<circle cx="335.44" cy="330.39" r="0.9" fill="#b6b6fb"/>
<circle cx="335.68" cy="327.97" r="0.9" fill="#b6b6fb"/>
<line x1="334.95" y1="324.82" x2="334.95" y2="320.78" stroke="#b6b6fb" stroke-width="0.7" />
<line x1="334.08" y1="320.78" x2="335.82" y2="320.78" stroke="#b6b6fb" stroke-width="0.7" />
<rect x="339.75" y="324.82" width="2.90" height="31.08" fill="#fff" stroke="#f3d3aa" stroke-width="1.0"/>
<circle cx="340.86" cy="322.80" r="0.9" fill="#f3d3aa"/>
<circle cx="340.77" cy="329.28" r="0.9" fill="#f3d3aa"/>
<circle cx="341.55" cy="322.91" r="0.9" fill="#f3d3aa"/>
<circle cx="340.45" cy="329.48" r="0.9" fill="#f3d3aa"/>
<circle cx="341.34" cy="324.31" r="0.9" fill="#f3d3aa"/>
<circle cx="340.72" cy="326.02" r="0.9" fill="#f3d3aa"/>
<circle cx="340.35" cy="323.35" r="0.9" fill="#f3d3aa"/>
<line x1="341.20" y1="324.82" x2="341.20" y2="320.78" stroke="#f3d3aa" stroke-width="0.7" />
<line x1="340.33" y1="320.78" x2="342.07" y2="320.78" stroke="#f3d3aa" stroke-width="0.7" />
<path d="M303.50,283.10 V279.50 H309.50 V325.26" fill="none" stroke="#3a3a3a" stroke-width="0.9"/>
<text x="306.82" y="275.80" font-size="5.45" text-anchor="middle" font-weight="normal" fill="#111" letter-spacing="-0.12" stroke="#222" stroke-width="0.12">&lt;0.0001</text>
<path d="M303.50,268.90 V265.50 H316.50 V269.40" fill="none" stroke="#3a3a3a" stroke-width="0.9"/>
<text x="309.95" y="262.10" font-size="5.45" text-anchor="middle" font-weight="normal" fill="#111" letter-spacing="-0.12" stroke="#222" stroke-width="0.12">&lt;0.0001</text>
<path d="M303.50,254.90 V251.50 H322.50 V255.40" fill="none" stroke="#3a3a3a" stroke-width="0.9"/>
<text x="313.07" y="248.10" font-size="5.45" text-anchor="middle" font-weight="normal" fill="#111" letter-spacing="-0.12" stroke="#222" stroke-width="0.12">&lt;0.0001</text>
<path d="M303.50,240.90 V237.50 H328.50 V317.71" fill="none" stroke="#3a3a3a" stroke-width="0.9"/>
<text x="316.20" y="234.10" font-size="5.45" text-anchor="middle" font-weight="normal" fill="#111" letter-spacing="-0.12" stroke="#222" stroke-width="0.12">0.0001</text>
<path d="M303.50,233.30 V223.50 H334.50 V316.59" fill="none" stroke="#3a3a3a" stroke-width="0.9"/>
<text x="319.32" y="220.50" font-size="5.45" text-anchor="middle" font-weight="normal" fill="#111" letter-spacing="-0.12" stroke="#222" stroke-width="0.12">0.0118</text>
<path d="M303.50,219.80 V210.50 H341.50 V318.28" fill="none" stroke="#3a3a3a" stroke-width="0.9"/>
<text x="322.45" y="207.00" font-size="5.45" text-anchor="middle" font-weight="normal" fill="#111" letter-spacing="-0.12" stroke="#222" stroke-width="0.12">0.0409</text>
<line x1="322.45" y1="355.90" x2="322.45" y2="357.90" stroke="#222" stroke-width="0.8" />
<text x="322.45" y="364.00" font-size="5.0" text-anchor="middle" font-weight="bold" fill="#222" >Lung</text>
<rect x="350.45" y="328.18" width="2.90" height="27.72" fill="#fff" stroke="#3a3a3a" stroke-width="1.0"/>
<circle cx="351.83" cy="330.22" r="0.9" fill="#3a3a3a"/>
<circle cx="352.15" cy="322.87" r="0.9" fill="#3a3a3a"/>
<circle cx="351.86" cy="323.71" r="0.9" fill="#3a3a3a"/>
<circle cx="351.46" cy="330.96" r="0.9" fill="#3a3a3a"/>
<circle cx="352.26" cy="322.85" r="0.9" fill="#3a3a3a"/>
<circle cx="351.07" cy="330.15" r="0.9" fill="#3a3a3a"/>
<circle cx="352.20" cy="328.02" r="0.9" fill="#3a3a3a"/>
<line x1="351.90" y1="328.18" x2="351.90" y2="324.58" stroke="#3a3a3a" stroke-width="0.7" />
<line x1="351.03" y1="324.58" x2="352.77" y2="324.58" stroke="#3a3a3a" stroke-width="0.7" />
<rect x="356.70" y="337.42" width="2.90" height="18.48" fill="#fff" stroke="#4b3df2" stroke-width="1.0"/>
<circle cx="357.73" cy="338.12" r="0.9" fill="#4b3df2"/>
<circle cx="358.89" cy="335.41" r="0.9" fill="#4b3df2"/>
<circle cx="357.34" cy="340.23" r="0.9" fill="#4b3df2"/>
<circle cx="358.01" cy="339.01" r="0.9" fill="#4b3df2"/>
<circle cx="357.62" cy="335.25" r="0.9" fill="#4b3df2"/>
<circle cx="358.57" cy="333.99" r="0.9" fill="#4b3df2"/>
<circle cx="357.64" cy="337.19" r="0.9" fill="#4b3df2"/>
<line x1="358.15" y1="337.42" x2="358.15" y2="333.89" stroke="#4b3df2" stroke-width="0.7" />
<line x1="357.28" y1="333.89" x2="359.02" y2="333.89" stroke="#4b3df2" stroke-width="0.7" />
<rect x="362.95" y="339.52" width="2.90" height="16.38" fill="#fff" stroke="#f2541f" stroke-width="1.0"/>
<circle cx="364.07" cy="334.20" r="0.9" fill="#f2541f"/>
<circle cx="363.93" cy="335.84" r="0.9" fill="#f2541f"/>
<circle cx="364.85" cy="342.39" r="0.9" fill="#f2541f"/>
<circle cx="365.19" cy="341.59" r="0.9" fill="#f2541f"/>
<circle cx="363.86" cy="339.39" r="0.9" fill="#f2541f"/>
<circle cx="364.26" cy="342.37" r="0.9" fill="#f2541f"/>
<circle cx="365.18" cy="337.54" r="0.9" fill="#f2541f"/>
<line x1="364.40" y1="339.52" x2="364.40" y2="335.99" stroke="#f2541f" stroke-width="0.7" />
<line x1="363.53" y1="335.99" x2="365.27" y2="335.99" stroke="#f2541f" stroke-width="0.7" />
<rect x="369.20" y="338.26" width="2.90" height="17.64" fill="#fff" stroke="#4d92f5" stroke-width="1.0"/>
<circle cx="370.46" cy="341.95" r="0.9" fill="#4d92f5"/>
<circle cx="371.47" cy="341.22" r="0.9" fill="#4d92f5"/>
<circle cx="369.87" cy="342.00" r="0.9" fill="#4d92f5"/>
<circle cx="370.46" cy="342.89" r="0.9" fill="#4d92f5"/>
<circle cx="371.32" cy="333.73" r="0.9" fill="#4d92f5"/>
<circle cx="371.52" cy="335.54" r="0.9" fill="#4d92f5"/>
<circle cx="370.35" cy="333.36" r="0.9" fill="#4d92f5"/>
<line x1="370.65" y1="338.26" x2="370.65" y2="334.73" stroke="#4d92f5" stroke-width="0.7" />
<line x1="369.78" y1="334.73" x2="371.52" y2="334.73" stroke="#4d92f5" stroke-width="0.7" />
<rect x="375.45" y="338.26" width="2.90" height="17.64" fill="#fff" stroke="#e9a35c" stroke-width="1.0"/>
<circle cx="377.66" cy="341.52" r="0.9" fill="#e9a35c"/>
<circle cx="376.09" cy="335.39" r="0.9" fill="#e9a35c"/>
<circle cx="376.69" cy="336.29" r="0.9" fill="#e9a35c"/>
<circle cx="376.61" cy="339.46" r="0.9" fill="#e9a35c"/>
<circle cx="376.03" cy="341.70" r="0.9" fill="#e9a35c"/>
<circle cx="376.64" cy="340.49" r="0.9" fill="#e9a35c"/>
<circle cx="376.25" cy="333.10" r="0.9" fill="#e9a35c"/>
<line x1="376.90" y1="338.26" x2="376.90" y2="334.73" stroke="#e9a35c" stroke-width="0.7" />
<line x1="376.03" y1="334.73" x2="377.77" y2="334.73" stroke="#e9a35c" stroke-width="0.7" />
<rect x="381.70" y="336.16" width="2.90" height="19.74" fill="#fff" stroke="#b6b6fb" stroke-width="1.0"/>
<circle cx="382.64" cy="330.91" r="0.9" fill="#b6b6fb"/>
<circle cx="383.71" cy="337.55" r="0.9" fill="#b6b6fb"/>
<circle cx="383.03" cy="332.46" r="0.9" fill="#b6b6fb"/>
<circle cx="383.10" cy="340.91" r="0.9" fill="#b6b6fb"/>
<circle cx="383.88" cy="337.38" r="0.9" fill="#b6b6fb"/>
<circle cx="382.91" cy="339.34" r="0.9" fill="#b6b6fb"/>
<circle cx="382.33" cy="331.64" r="0.9" fill="#b6b6fb"/>
<line x1="383.15" y1="336.16" x2="383.15" y2="332.63" stroke="#b6b6fb" stroke-width="0.7" />
<line x1="382.28" y1="332.63" x2="384.02" y2="332.63" stroke="#b6b6fb" stroke-width="0.7" />
<rect x="387.95" y="338.26" width="2.90" height="17.64" fill="#fff" stroke="#f3d3aa" stroke-width="1.0"/>
<circle cx="389.94" cy="339.06" r="0.9" fill="#f3d3aa"/>
<circle cx="388.60" cy="335.17" r="0.9" fill="#f3d3aa"/>
<circle cx="388.64" cy="343.17" r="0.9" fill="#f3d3aa"/>
<circle cx="388.98" cy="333.49" r="0.9" fill="#f3d3aa"/>
<circle cx="390.09" cy="335.38" r="0.9" fill="#f3d3aa"/>
<circle cx="389.00" cy="339.84" r="0.9" fill="#f3d3aa"/>
<circle cx="389.60" cy="333.08" r="0.9" fill="#f3d3aa"/>
<line x1="389.40" y1="338.26" x2="389.40" y2="334.73" stroke="#f3d3aa" stroke-width="0.7" />
<line x1="388.53" y1="334.73" x2="390.27" y2="334.73" stroke="#f3d3aa" stroke-width="0.7" />
<path d="M351.50,283.10 V279.50 H358.50 V331.39" fill="none" stroke="#3a3a3a" stroke-width="0.9"/>
<text x="355.02" y="275.80" font-size="5.45" text-anchor="middle" font-weight="normal" fill="#111" letter-spacing="-0.12" stroke="#222" stroke-width="0.12">0.0087</text>
<path d="M351.50,268.90 V265.50 H364.50 V269.40" fill="none" stroke="#3a3a3a" stroke-width="0.9"/>
<text x="358.15" y="262.10" font-size="5.45" text-anchor="middle" font-weight="normal" fill="#111" letter-spacing="-0.12" stroke="#222" stroke-width="0.12">&lt;0.0001</text>
<path d="M351.50,254.90 V251.50 H370.50 V255.40" fill="none" stroke="#3a3a3a" stroke-width="0.9"/>
<text x="361.27" y="248.10" font-size="5.45" text-anchor="middle" font-weight="normal" fill="#111" letter-spacing="-0.12" stroke="#222" stroke-width="0.12">0.0002</text>
<path d="M351.50,240.90 V237.50 H376.50 V330.60" fill="none" stroke="#3a3a3a" stroke-width="0.9"/>
<text x="364.40" y="234.10" font-size="5.45" text-anchor="middle" font-weight="normal" fill="#111" letter-spacing="-0.12" stroke="#222" stroke-width="0.12">&lt;0.0001</text>
<path d="M351.50,233.30 V223.50 H383.50 V328.41" fill="none" stroke="#3a3a3a" stroke-width="0.9"/>
<text x="367.52" y="220.50" font-size="5.45" text-anchor="middle" font-weight="normal" fill="#111" letter-spacing="-0.12" stroke="#222" stroke-width="0.12">0.0143</text>
<path d="M351.50,219.80 V210.50 H389.50 V330.58" fill="none" stroke="#3a3a3a" stroke-width="0.9"/>
<text x="370.65" y="207.00" font-size="5.45" text-anchor="middle" font-weight="normal" fill="#111" letter-spacing="-0.12" stroke="#222" stroke-width="0.12">0.0004</text>
<line x1="370.65" y1="355.90" x2="370.65" y2="357.90" stroke="#222" stroke-width="0.8" />
<text x="370.65" y="364.00" font-size="5.0" text-anchor="middle" font-weight="bold" fill="#222" >Liver</text>
<rect x="398.65" y="329.86" width="2.90" height="26.04" fill="#fff" stroke="#3a3a3a" stroke-width="1.0"/>
<circle cx="400.48" cy="332.28" r="0.9" fill="#3a3a3a"/>
<circle cx="399.71" cy="331.69" r="0.9" fill="#3a3a3a"/>
<circle cx="400.54" cy="335.11" r="0.9" fill="#3a3a3a"/>
<circle cx="400.33" cy="325.13" r="0.9" fill="#3a3a3a"/>
<circle cx="399.27" cy="324.84" r="0.9" fill="#3a3a3a"/>
<circle cx="400.06" cy="332.59" r="0.9" fill="#3a3a3a"/>
<circle cx="400.89" cy="324.69" r="0.9" fill="#3a3a3a"/>
<line x1="400.10" y1="329.86" x2="400.10" y2="326.33" stroke="#3a3a3a" stroke-width="0.7" />
<line x1="399.23" y1="326.33" x2="400.97" y2="326.33" stroke="#3a3a3a" stroke-width="0.7" />
<rect x="404.90" y="342.46" width="2.90" height="13.44" fill="#fff" stroke="#4b3df2" stroke-width="1.0"/>
<circle cx="405.92" cy="343.52" r="0.9" fill="#4b3df2"/>
<circle cx="406.34" cy="343.05" r="0.9" fill="#4b3df2"/>
<circle cx="405.80" cy="337.60" r="0.9" fill="#4b3df2"/>
<circle cx="406.76" cy="338.97" r="0.9" fill="#4b3df2"/>
<circle cx="406.82" cy="338.75" r="0.9" fill="#4b3df2"/>
<circle cx="406.05" cy="341.11" r="0.9" fill="#4b3df2"/>
<circle cx="406.11" cy="344.26" r="0.9" fill="#4b3df2"/>
<line x1="406.35" y1="342.46" x2="406.35" y2="338.93" stroke="#4b3df2" stroke-width="0.7" />
<line x1="405.48" y1="338.93" x2="407.22" y2="338.93" stroke="#4b3df2" stroke-width="0.7" />
<rect x="411.15" y="343.30" width="2.90" height="12.60" fill="#fff" stroke="#f2541f" stroke-width="1.0"/>
<circle cx="411.87" cy="340.04" r="0.9" fill="#f2541f"/>
<circle cx="413.04" cy="346.43" r="0.9" fill="#f2541f"/>
<circle cx="411.84" cy="345.89" r="0.9" fill="#f2541f"/>
<circle cx="412.69" cy="348.22" r="0.9" fill="#f2541f"/>
<circle cx="413.44" cy="345.03" r="0.9" fill="#f2541f"/>
<circle cx="413.45" cy="338.93" r="0.9" fill="#f2541f"/>
<circle cx="411.88" cy="345.69" r="0.9" fill="#f2541f"/>
<line x1="412.60" y1="343.30" x2="412.60" y2="339.77" stroke="#f2541f" stroke-width="0.7" />
<line x1="411.73" y1="339.77" x2="413.47" y2="339.77" stroke="#f2541f" stroke-width="0.7" />
<rect x="417.40" y="342.46" width="2.90" height="13.44" fill="#fff" stroke="#4d92f5" stroke-width="1.0"/>
<circle cx="418.85" cy="346.70" r="0.9" fill="#4d92f5"/>
<circle cx="418.76" cy="339.99" r="0.9" fill="#4d92f5"/>
<circle cx="418.71" cy="345.19" r="0.9" fill="#4d92f5"/>
<circle cx="419.15" cy="340.97" r="0.9" fill="#4d92f5"/>
<circle cx="419.45" cy="339.57" r="0.9" fill="#4d92f5"/>
<circle cx="418.19" cy="340.49" r="0.9" fill="#4d92f5"/>
<circle cx="418.49" cy="338.56" r="0.9" fill="#4d92f5"/>
<line x1="418.85" y1="342.46" x2="418.85" y2="338.93" stroke="#4d92f5" stroke-width="0.7" />
<line x1="417.98" y1="338.93" x2="419.72" y2="338.93" stroke="#4d92f5" stroke-width="0.7" />
<rect x="423.65" y="341.62" width="2.90" height="14.28" fill="#fff" stroke="#e9a35c" stroke-width="1.0"/>
<circle cx="424.88" cy="340.71" r="0.9" fill="#e9a35c"/>
<circle cx="424.58" cy="338.84" r="0.9" fill="#e9a35c"/>
<circle cx="424.66" cy="344.21" r="0.9" fill="#e9a35c"/>
<circle cx="425.77" cy="345.24" r="0.9" fill="#e9a35c"/>
<circle cx="424.80" cy="340.59" r="0.9" fill="#e9a35c"/>
<circle cx="425.96" cy="342.58" r="0.9" fill="#e9a35c"/>
<circle cx="424.63" cy="341.36" r="0.9" fill="#e9a35c"/>
<line x1="425.10" y1="341.62" x2="425.10" y2="338.09" stroke="#e9a35c" stroke-width="0.7" />
<line x1="424.23" y1="338.09" x2="425.97" y2="338.09" stroke="#e9a35c" stroke-width="0.7" />
<rect x="429.90" y="338.68" width="2.90" height="17.22" fill="#fff" stroke="#b6b6fb" stroke-width="1.0"/>
<circle cx="431.62" cy="335.13" r="0.9" fill="#b6b6fb"/>
<circle cx="430.66" cy="333.13" r="0.9" fill="#b6b6fb"/>
<circle cx="431.91" cy="338.78" r="0.9" fill="#b6b6fb"/>
<circle cx="432.07" cy="334.78" r="0.9" fill="#b6b6fb"/>
<circle cx="430.99" cy="343.53" r="0.9" fill="#b6b6fb"/>
<circle cx="430.81" cy="342.67" r="0.9" fill="#b6b6fb"/>
<circle cx="431.49" cy="333.33" r="0.9" fill="#b6b6fb"/>
<line x1="431.35" y1="338.68" x2="431.35" y2="335.15" stroke="#b6b6fb" stroke-width="0.7" />
<line x1="430.48" y1="335.15" x2="432.22" y2="335.15" stroke="#b6b6fb" stroke-width="0.7" />
<rect x="436.15" y="339.94" width="2.90" height="15.96" fill="#fff" stroke="#f3d3aa" stroke-width="1.0"/>
<circle cx="437.38" cy="335.06" r="0.9" fill="#f3d3aa"/>
<circle cx="437.51" cy="335.76" r="0.9" fill="#f3d3aa"/>
<circle cx="438.08" cy="342.39" r="0.9" fill="#f3d3aa"/>
<circle cx="436.91" cy="334.89" r="0.9" fill="#f3d3aa"/>
<circle cx="437.81" cy="338.71" r="0.9" fill="#f3d3aa"/>
<circle cx="437.37" cy="342.85" r="0.9" fill="#f3d3aa"/>
<circle cx="437.08" cy="343.69" r="0.9" fill="#f3d3aa"/>
<line x1="437.60" y1="339.94" x2="437.60" y2="336.41" stroke="#f3d3aa" stroke-width="0.7" />
<line x1="436.73" y1="336.41" x2="438.47" y2="336.41" stroke="#f3d3aa" stroke-width="0.7" />
<path d="M400.50,283.10 V279.50 H406.50 V335.10" fill="none" stroke="#3a3a3a" stroke-width="0.9"/>
<text x="403.23" y="275.80" font-size="5.45" text-anchor="middle" font-weight="normal" fill="#111" letter-spacing="-0.12" stroke="#222" stroke-width="0.12">0.0004</text>
<path d="M400.50,268.90 V265.50 H412.50 V269.40" fill="none" stroke="#3a3a3a" stroke-width="0.9"/>
<text x="406.35" y="262.10" font-size="5.45" text-anchor="middle" font-weight="normal" fill="#111" letter-spacing="-0.12" stroke="#222" stroke-width="0.12">&lt;0.0001</text>
<path d="M400.50,254.90 V251.50 H418.50 V255.40" fill="none" stroke="#3a3a3a" stroke-width="0.9"/>
<text x="409.48" y="248.10" font-size="5.45" text-anchor="middle" font-weight="normal" fill="#111" letter-spacing="-0.12" stroke="#222" stroke-width="0.12">&lt;0.0001</text>
<path d="M400.50,240.90 V237.50 H425.50 V335.59" fill="none" stroke="#3a3a3a" stroke-width="0.9"/>
<text x="412.60" y="234.10" font-size="5.45" text-anchor="middle" font-weight="normal" fill="#111" letter-spacing="-0.12" stroke="#222" stroke-width="0.12">&lt;0.0001</text>
<path d="M400.50,233.30 V223.50 H431.50 V330.63" fill="none" stroke="#3a3a3a" stroke-width="0.9"/>
<text x="415.73" y="220.50" font-size="5.45" text-anchor="middle" font-weight="normal" fill="#111" letter-spacing="-0.12" stroke="#222" stroke-width="0.12">0.0471</text>
<path d="M400.50,219.80 V210.50 H437.50 V332.39" fill="none" stroke="#3a3a3a" stroke-width="0.9"/>
<text x="418.85" y="207.00" font-size="5.45" text-anchor="middle" font-weight="normal" fill="#111" letter-spacing="-0.12" stroke="#222" stroke-width="0.12">0.0154</text>
<line x1="418.85" y1="355.90" x2="418.85" y2="357.90" stroke="#222" stroke-width="0.8" />
<text x="418.85" y="364.00" font-size="5.0" text-anchor="middle" font-weight="bold" fill="#222" >Spleen</text>
<line x1="250.90" y1="280.00" x2="250.90" y2="356.40" stroke="#111" stroke-width="1.1" />
<line x1="250.40" y1="355.90" x2="441.60" y2="355.90" stroke="#111" stroke-width="1.1" />
<line x1="248.40" y1="355.90" x2="250.90" y2="355.90" stroke="#111" stroke-width="0.9" />
<text x="247.70" y="358.80" font-size="5" text-anchor="end" font-weight="bold" fill="#222" >0</text>
<line x1="248.40" y1="339.10" x2="250.90" y2="339.10" stroke="#111" stroke-width="0.9" />
<text x="247.70" y="342.00" font-size="5" text-anchor="end" font-weight="bold" fill="#222" >2</text>
<line x1="248.40" y1="322.30" x2="250.90" y2="322.30" stroke="#111" stroke-width="0.9" />
<text x="247.70" y="325.20" font-size="5" text-anchor="end" font-weight="bold" fill="#222" >4</text>
<line x1="248.40" y1="305.50" x2="250.90" y2="305.50" stroke="#111" stroke-width="0.9" />
<text x="247.70" y="308.40" font-size="5" text-anchor="end" font-weight="bold" fill="#222" >6</text>
<line x1="248.40" y1="288.70" x2="250.90" y2="288.70" stroke="#111" stroke-width="0.9" />
<text x="247.70" y="291.60" font-size="5" text-anchor="end" font-weight="bold" fill="#222" >8</text>
<text x="346.00" y="373.50" font-size="6.3" text-anchor="middle" font-weight="bold" fill="#111" >Intradermal</text>
<text transform="translate(239.50,318.00) rotate(-90)" font-size="5.3" text-anchor="middle" font-weight="bold" fill="#222">Copies/mL (Log<tspan font-size="3.6" dy="1">10</tspan><tspan dy="-1">)</tspan></text>
<text x="229.50" y="198.00" font-size="14" text-anchor="start" font-weight="bold" fill="#000" >c</text>
<line x1="249.00" y1="531.00" x2="441.60" y2="531.00" stroke="#222" stroke-width="0.8" stroke-dasharray="1.2,1.4"/>
<rect x="252.75" y="490.15" width="2.90" height="59.85" fill="#fff" stroke="#3a3a3a" stroke-width="1.0"/>
<circle cx="254.37" cy="496.22" r="0.9" fill="#3a3a3a"/>
<circle cx="253.68" cy="485.70" r="0.9" fill="#3a3a3a"/>
<circle cx="253.90" cy="502.67" r="0.9" fill="#3a3a3a"/>
<circle cx="253.65" cy="485.00" r="0.9" fill="#3a3a3a"/>
<circle cx="253.68" cy="494.70" r="0.9" fill="#3a3a3a"/>
<circle cx="254.28" cy="481.90" r="0.9" fill="#3a3a3a"/>
<circle cx="253.51" cy="501.30" r="0.9" fill="#3a3a3a"/>
<line x1="254.20" y1="490.15" x2="254.20" y2="481.60" stroke="#3a3a3a" stroke-width="0.7" />
<line x1="253.33" y1="481.60" x2="255.07" y2="481.60" stroke="#3a3a3a" stroke-width="0.7" />
<rect x="259.02" y="531.00" width="2.90" height="19.00" fill="#fff" stroke="#4b3df2" stroke-width="1.0"/>
<rect x="258.72" y="529.80" width="3.50" height="2.2" fill="#4b3df2"/>
<circle cx="260.47" cy="529.58" r="0.9" fill="#4b3df2"/>
<rect x="265.29" y="507.25" width="2.90" height="42.75" fill="#fff" stroke="#f2541f" stroke-width="1.0"/>
<circle cx="266.98" cy="505.49" r="0.9" fill="#f2541f"/>
<circle cx="266.15" cy="517.66" r="0.9" fill="#f2541f"/>
<circle cx="266.58" cy="501.64" r="0.9" fill="#f2541f"/>
<circle cx="266.41" cy="512.57" r="0.9" fill="#f2541f"/>
<circle cx="266.41" cy="494.81" r="0.9" fill="#f2541f"/>
<circle cx="266.49" cy="505.06" r="0.9" fill="#f2541f"/>
<circle cx="267.37" cy="509.04" r="0.9" fill="#f2541f"/>
<line x1="266.74" y1="507.25" x2="266.74" y2="498.70" stroke="#f2541f" stroke-width="0.7" />
<line x1="265.87" y1="498.70" x2="267.61" y2="498.70" stroke="#f2541f" stroke-width="0.7" />
<rect x="271.56" y="521.50" width="2.90" height="28.50" fill="#fff" stroke="#4d92f5" stroke-width="1.0"/>
<circle cx="272.77" cy="506.40" r="0.9" fill="#4d92f5"/>
<circle cx="273.41" cy="529.94" r="0.9" fill="#4d92f5"/>
<circle cx="272.15" cy="529.75" r="0.9" fill="#4d92f5"/>
<circle cx="272.88" cy="509.20" r="0.9" fill="#4d92f5"/>
<circle cx="272.85" cy="511.59" r="0.9" fill="#4d92f5"/>
<circle cx="272.94" cy="509.75" r="0.9" fill="#4d92f5"/>
<circle cx="272.17" cy="530.96" r="0.9" fill="#4d92f5"/>
<line x1="273.01" y1="521.50" x2="273.01" y2="512.00" stroke="#4d92f5" stroke-width="0.7" />
<line x1="272.14" y1="512.00" x2="273.88" y2="512.00" stroke="#4d92f5" stroke-width="0.7" />
<rect x="277.83" y="498.70" width="2.90" height="51.30" fill="#fff" stroke="#e9a35c" stroke-width="1.0"/>
<circle cx="279.52" cy="497.50" r="0.9" fill="#e9a35c"/>
<circle cx="278.56" cy="491.17" r="0.9" fill="#e9a35c"/>
<circle cx="279.06" cy="496.26" r="0.9" fill="#e9a35c"/>
<circle cx="278.66" cy="498.34" r="0.9" fill="#e9a35c"/>
<circle cx="279.32" cy="502.24" r="0.9" fill="#e9a35c"/>
<circle cx="278.60" cy="490.90" r="0.9" fill="#e9a35c"/>
<circle cx="279.81" cy="498.58" r="0.9" fill="#e9a35c"/>
<line x1="279.28" y1="498.70" x2="279.28" y2="493.00" stroke="#e9a35c" stroke-width="0.7" />
<line x1="278.41" y1="493.00" x2="280.15" y2="493.00" stroke="#e9a35c" stroke-width="0.7" />
<rect x="284.10" y="500.60" width="2.90" height="49.40" fill="#fff" stroke="#b6b6fb" stroke-width="1.0"/>
<circle cx="285.02" cy="492.07" r="0.9" fill="#b6b6fb"/>
<circle cx="286.32" cy="506.91" r="0.9" fill="#b6b6fb"/>
<circle cx="285.52" cy="491.91" r="0.9" fill="#b6b6fb"/>
<circle cx="286.29" cy="508.21" r="0.9" fill="#b6b6fb"/>
<circle cx="286.25" cy="502.30" r="0.9" fill="#b6b6fb"/>
<circle cx="286.11" cy="498.19" r="0.9" fill="#b6b6fb"/>
<circle cx="286.05" cy="506.32" r="0.9" fill="#b6b6fb"/>
<line x1="285.55" y1="500.60" x2="285.55" y2="494.90" stroke="#b6b6fb" stroke-width="0.7" />
<line x1="284.68" y1="494.90" x2="286.42" y2="494.90" stroke="#b6b6fb" stroke-width="0.7" />
<rect x="290.37" y="493.95" width="2.90" height="56.05" fill="#fff" stroke="#f3d3aa" stroke-width="1.0"/>
<circle cx="291.65" cy="498.58" r="0.9" fill="#f3d3aa"/>
<circle cx="292.39" cy="487.54" r="0.9" fill="#f3d3aa"/>
<circle cx="291.33" cy="499.27" r="0.9" fill="#f3d3aa"/>
<circle cx="291.85" cy="495.44" r="0.9" fill="#f3d3aa"/>
<circle cx="291.16" cy="495.72" r="0.9" fill="#f3d3aa"/>
<circle cx="292.21" cy="498.13" r="0.9" fill="#f3d3aa"/>
<circle cx="291.02" cy="486.64" r="0.9" fill="#f3d3aa"/>
<line x1="291.82" y1="493.95" x2="291.82" y2="488.25" stroke="#f3d3aa" stroke-width="0.7" />
<line x1="290.95" y1="488.25" x2="292.69" y2="488.25" stroke="#f3d3aa" stroke-width="0.7" />
<path d="M254.50,473.50 V469.50 H260.50 V527.08" fill="none" stroke="#3a3a3a" stroke-width="0.9"/>
<text x="257.33" y="466.20" font-size="5.45" text-anchor="middle" font-weight="normal" fill="#111" letter-spacing="-0.12" stroke="#222" stroke-width="0.12">&lt;0.0001</text>
<path d="M254.50,459.10 V455.50 H266.50 V459.60" fill="none" stroke="#3a3a3a" stroke-width="0.9"/>
<text x="260.47" y="452.30" font-size="5.45" text-anchor="middle" font-weight="normal" fill="#111" letter-spacing="-0.12" stroke="#222" stroke-width="0.12">&lt;0.0001</text>
<path d="M254.50,445.30 V441.50 H273.50 V445.80" fill="none" stroke="#3a3a3a" stroke-width="0.9"/>
<text x="263.61" y="438.50" font-size="5.45" text-anchor="middle" font-weight="normal" fill="#111" letter-spacing="-0.12" stroke="#222" stroke-width="0.12">&lt;0.0001</text>
<path d="M254.50,431.50 V427.50 H279.50 V488.40" fill="none" stroke="#3a3a3a" stroke-width="0.9"/>
<text x="266.74" y="424.70" font-size="5.45" text-anchor="middle" font-weight="normal" fill="#111" letter-spacing="-0.12" stroke="#222" stroke-width="0.12">0.0281</text>
<path d="M254.50,423.80 V414.50 H285.50 V489.41" fill="none" stroke="#3a3a3a" stroke-width="0.9"/>
<text x="269.88" y="411.00" font-size="5.45" text-anchor="middle" font-weight="normal" fill="#111" letter-spacing="-0.12" stroke="#222" stroke-width="0.12">0.0023</text>
<path d="M254.50,410.10 V400.50 H291.50 V484.14" fill="none" stroke="#3a3a3a" stroke-width="0.9"/>
<text x="273.01" y="397.30" font-size="5.45" text-anchor="middle" font-weight="normal" fill="#111" letter-spacing="-0.12" stroke="#222" stroke-width="0.12">0.6699</text>
<line x1="273.01" y1="550.00" x2="273.01" y2="552.00" stroke="#222" stroke-width="0.8" />
<text x="273.01" y="558.00" font-size="5.0" text-anchor="middle" font-weight="bold" fill="#222" >Skin</text>
<rect x="300.95" y="515.80" width="2.90" height="34.20" fill="#fff" stroke="#3a3a3a" stroke-width="1.0"/>
<circle cx="302.85" cy="514.80" r="0.9" fill="#3a3a3a"/>
<circle cx="302.99" cy="521.47" r="0.9" fill="#3a3a3a"/>
<circle cx="302.57" cy="520.46" r="0.9" fill="#3a3a3a"/>
<circle cx="302.62" cy="514.96" r="0.9" fill="#3a3a3a"/>
<circle cx="302.26" cy="518.06" r="0.9" fill="#3a3a3a"/>
<circle cx="302.27" cy="514.54" r="0.9" fill="#3a3a3a"/>
<circle cx="302.31" cy="513.57" r="0.9" fill="#3a3a3a"/>
<line x1="302.40" y1="515.80" x2="302.40" y2="511.70" stroke="#3a3a3a" stroke-width="0.7" />
<line x1="301.53" y1="511.70" x2="303.27" y2="511.70" stroke="#3a3a3a" stroke-width="0.7" />
<rect x="307.22" y="531.00" width="2.90" height="19.00" fill="#fff" stroke="#4b3df2" stroke-width="1.0"/>
<rect x="306.92" y="529.80" width="3.50" height="2.2" fill="#4b3df2"/>
<circle cx="308.67" cy="529.58" r="0.9" fill="#4b3df2"/>
<rect x="313.49" y="531.00" width="2.90" height="19.00" fill="#fff" stroke="#f2541f" stroke-width="1.0"/>
<rect x="313.19" y="529.80" width="3.50" height="2.2" fill="#f2541f"/>
<circle cx="314.94" cy="529.58" r="0.9" fill="#f2541f"/>
<rect x="319.76" y="531.00" width="2.90" height="19.00" fill="#fff" stroke="#4d92f5" stroke-width="1.0"/>
<rect x="319.46" y="529.80" width="3.50" height="2.2" fill="#4d92f5"/>
<rect x="326.03" y="529.58" width="2.90" height="20.43" fill="#fff" stroke="#e9a35c" stroke-width="1.0"/>
<circle cx="327.02" cy="529.54" r="0.9" fill="#e9a35c"/>
<circle cx="327.97" cy="527.97" r="0.9" fill="#e9a35c"/>
<circle cx="326.92" cy="529.72" r="0.9" fill="#e9a35c"/>
<circle cx="326.80" cy="529.64" r="0.9" fill="#e9a35c"/>
<circle cx="327.36" cy="531.00" r="0.9" fill="#e9a35c"/>
<circle cx="327.38" cy="531.00" r="0.9" fill="#e9a35c"/>
<circle cx="326.68" cy="529.42" r="0.9" fill="#e9a35c"/>
<line x1="327.48" y1="529.58" x2="327.48" y2="527.72" stroke="#e9a35c" stroke-width="0.7" />
<line x1="326.61" y1="527.72" x2="328.35" y2="527.72" stroke="#e9a35c" stroke-width="0.7" />
<rect x="332.30" y="521.50" width="2.90" height="28.50" fill="#fff" stroke="#b6b6fb" stroke-width="1.0"/>
<circle cx="333.02" cy="519.88" r="0.9" fill="#b6b6fb"/>
<circle cx="334.23" cy="518.85" r="0.9" fill="#b6b6fb"/>
<circle cx="332.97" cy="521.21" r="0.9" fill="#b6b6fb"/>
<circle cx="333.54" cy="521.29" r="0.9" fill="#b6b6fb"/>
<circle cx="333.12" cy="516.55" r="0.9" fill="#b6b6fb"/>
<circle cx="334.61" cy="517.54" r="0.9" fill="#b6b6fb"/>
<circle cx="334.30" cy="518.87" r="0.9" fill="#b6b6fb"/>
<line x1="333.75" y1="521.50" x2="333.75" y2="518.08" stroke="#b6b6fb" stroke-width="0.7" />
<line x1="332.88" y1="518.08" x2="334.62" y2="518.08" stroke="#b6b6fb" stroke-width="0.7" />
<rect x="338.57" y="521.50" width="2.90" height="28.50" fill="#fff" stroke="#f3d3aa" stroke-width="1.0"/>
<circle cx="340.86" cy="524.58" r="0.9" fill="#f3d3aa"/>
<circle cx="340.81" cy="521.42" r="0.9" fill="#f3d3aa"/>
<circle cx="339.44" cy="516.92" r="0.9" fill="#f3d3aa"/>
<circle cx="340.77" cy="518.27" r="0.9" fill="#f3d3aa"/>
<circle cx="339.76" cy="525.94" r="0.9" fill="#f3d3aa"/>
<circle cx="339.43" cy="518.61" r="0.9" fill="#f3d3aa"/>
<circle cx="339.63" cy="517.12" r="0.9" fill="#f3d3aa"/>
<line x1="340.02" y1="521.50" x2="340.02" y2="518.08" stroke="#f3d3aa" stroke-width="0.7" />
<line x1="339.15" y1="518.08" x2="340.89" y2="518.08" stroke="#f3d3aa" stroke-width="0.7" />
<path d="M302.50,473.50 V469.50 H308.50 V527.08" fill="none" stroke="#3a3a3a" stroke-width="0.9"/>
<text x="305.53" y="466.20" font-size="5.45" text-anchor="middle" font-weight="normal" fill="#111" letter-spacing="-0.12" stroke="#222" stroke-width="0.12">&lt;0.0001</text>
<path d="M302.50,459.10 V455.50 H314.50 V459.60" fill="none" stroke="#3a3a3a" stroke-width="0.9"/>
<text x="308.67" y="452.30" font-size="5.45" text-anchor="middle" font-weight="normal" fill="#111" letter-spacing="-0.12" stroke="#222" stroke-width="0.12">&lt;0.0001</text>
<path d="M302.50,445.30 V441.50 H321.50 V445.80" fill="none" stroke="#3a3a3a" stroke-width="0.9"/>
<text x="311.80" y="438.50" font-size="5.45" text-anchor="middle" font-weight="normal" fill="#111" letter-spacing="-0.12" stroke="#222" stroke-width="0.12">&lt;0.0001</text>
<path d="M302.50,431.50 V427.50 H327.50 V525.22" fill="none" stroke="#3a3a3a" stroke-width="0.9"/>
<text x="314.94" y="424.70" font-size="5.45" text-anchor="middle" font-weight="normal" fill="#111" letter-spacing="-0.12" stroke="#222" stroke-width="0.12">&lt;0.0001</text>
<path d="M302.50,423.80 V414.50 H333.50 V514.05" fill="none" stroke="#3a3a3a" stroke-width="0.9"/>
<text x="318.07" y="411.00" font-size="5.45" text-anchor="middle" font-weight="normal" fill="#111" letter-spacing="-0.12" stroke="#222" stroke-width="0.12">0.0860</text>
<path d="M302.50,410.10 V400.50 H340.50 V514.42" fill="none" stroke="#3a3a3a" stroke-width="0.9"/>
<text x="321.21" y="397.30" font-size="5.45" text-anchor="middle" font-weight="normal" fill="#111" letter-spacing="-0.12" stroke="#222" stroke-width="0.12">0.2588</text>
<line x1="321.21" y1="550.00" x2="321.21" y2="552.00" stroke="#222" stroke-width="0.8" />
<text x="321.21" y="558.00" font-size="5.0" text-anchor="middle" font-weight="bold" fill="#222" >Lung</text>
<rect x="349.15" y="526.25" width="2.90" height="23.75" fill="#fff" stroke="#3a3a3a" stroke-width="1.0"/>
<circle cx="349.98" cy="523.32" r="0.9" fill="#3a3a3a"/>
<circle cx="351.33" cy="526.09" r="0.9" fill="#3a3a3a"/>
<circle cx="350.19" cy="528.68" r="0.9" fill="#3a3a3a"/>
<circle cx="350.29" cy="526.05" r="0.9" fill="#3a3a3a"/>
<circle cx="350.05" cy="530.20" r="0.9" fill="#3a3a3a"/>
<circle cx="351.36" cy="529.10" r="0.9" fill="#3a3a3a"/>
<circle cx="351.29" cy="524.52" r="0.9" fill="#3a3a3a"/>
<line x1="350.60" y1="526.25" x2="350.60" y2="523.40" stroke="#3a3a3a" stroke-width="0.7" />
<line x1="349.73" y1="523.40" x2="351.47" y2="523.40" stroke="#3a3a3a" stroke-width="0.7" />
<rect x="355.42" y="531.00" width="2.90" height="19.00" fill="#fff" stroke="#4b3df2" stroke-width="1.0"/>
<rect x="355.12" y="529.80" width="3.50" height="2.2" fill="#4b3df2"/>
<circle cx="356.87" cy="529.58" r="0.9" fill="#4b3df2"/>
<rect x="361.69" y="531.00" width="2.90" height="19.00" fill="#fff" stroke="#f2541f" stroke-width="1.0"/>
<rect x="361.39" y="529.80" width="3.50" height="2.2" fill="#f2541f"/>
<rect x="367.96" y="531.00" width="2.90" height="19.00" fill="#fff" stroke="#4d92f5" stroke-width="1.0"/>
<rect x="367.66" y="529.80" width="3.50" height="2.2" fill="#4d92f5"/>
<circle cx="369.41" cy="529.58" r="0.9" fill="#4d92f5"/>
<rect x="374.23" y="531.00" width="2.90" height="19.00" fill="#fff" stroke="#e9a35c" stroke-width="1.0"/>
<rect x="373.93" y="529.80" width="3.50" height="2.2" fill="#e9a35c"/>
<circle cx="375.68" cy="529.58" r="0.9" fill="#e9a35c"/>
<rect x="380.50" y="530.52" width="2.90" height="19.47" fill="#fff" stroke="#b6b6fb" stroke-width="1.0"/>
<rect x="380.20" y="529.32" width="3.50" height="2.2" fill="#b6b6fb"/>
<rect x="386.77" y="530.52" width="2.90" height="19.47" fill="#fff" stroke="#f3d3aa" stroke-width="1.0"/>
<rect x="386.47" y="529.32" width="3.50" height="2.2" fill="#f3d3aa"/>
<circle cx="388.22" cy="529.10" r="0.9" fill="#f3d3aa"/>
<path d="M350.50,473.50 V469.50 H356.50 V527.08" fill="none" stroke="#3a3a3a" stroke-width="0.9"/>
<text x="353.74" y="466.20" font-size="5.45" text-anchor="middle" font-weight="normal" fill="#111" letter-spacing="-0.12" stroke="#222" stroke-width="0.12">0.6159</text>
<path d="M350.50,459.10 V455.50 H363.50 V459.60" fill="none" stroke="#3a3a3a" stroke-width="0.9"/>
<text x="356.87" y="452.30" font-size="5.45" text-anchor="middle" font-weight="normal" fill="#111" letter-spacing="-0.12" stroke="#222" stroke-width="0.12">0.3265</text>
<path d="M350.50,445.30 V441.50 H369.50 V527.08" fill="none" stroke="#3a3a3a" stroke-width="0.9"/>
<text x="360.00" y="438.50" font-size="5.45" text-anchor="middle" font-weight="normal" fill="#111" letter-spacing="-0.12" stroke="#222" stroke-width="0.12">0.3265</text>
<path d="M350.50,431.50 V427.50 H375.50 V527.08" fill="none" stroke="#3a3a3a" stroke-width="0.9"/>
<text x="363.14" y="424.70" font-size="5.45" text-anchor="middle" font-weight="normal" fill="#111" letter-spacing="-0.12" stroke="#222" stroke-width="0.12">0.3265</text>
<path d="M350.50,423.80 V414.50 H381.50 V527.26" fill="none" stroke="#3a3a3a" stroke-width="0.9"/>
<text x="366.28" y="411.00" font-size="5.45" text-anchor="middle" font-weight="normal" fill="#111" letter-spacing="-0.12" stroke="#222" stroke-width="0.12">0.6159</text>
<path d="M350.50,410.10 V400.50 H388.50 V526.60" fill="none" stroke="#3a3a3a" stroke-width="0.9"/>
<text x="369.41" y="397.30" font-size="5.45" text-anchor="middle" font-weight="normal" fill="#111" letter-spacing="-0.12" stroke="#222" stroke-width="0.12">0.6159</text>
<line x1="369.41" y1="550.00" x2="369.41" y2="552.00" stroke="#222" stroke-width="0.8" />
<text x="369.41" y="558.00" font-size="5.0" text-anchor="middle" font-weight="bold" fill="#222" >Liver</text>
<rect x="397.35" y="527.20" width="2.90" height="22.80" fill="#fff" stroke="#3a3a3a" stroke-width="1.0"/>
<circle cx="398.90" cy="523.90" r="0.9" fill="#3a3a3a"/>
<circle cx="399.47" cy="526.38" r="0.9" fill="#3a3a3a"/>
<circle cx="399.66" cy="530.42" r="0.9" fill="#3a3a3a"/>
<circle cx="398.62" cy="525.96" r="0.9" fill="#3a3a3a"/>
<circle cx="398.39" cy="524.54" r="0.9" fill="#3a3a3a"/>
<circle cx="398.93" cy="522.90" r="0.9" fill="#3a3a3a"/>
<circle cx="399.26" cy="528.25" r="0.9" fill="#3a3a3a"/>
<line x1="398.80" y1="527.20" x2="398.80" y2="524.46" stroke="#3a3a3a" stroke-width="0.7" />
<line x1="397.93" y1="524.46" x2="399.67" y2="524.46" stroke="#3a3a3a" stroke-width="0.7" />
<rect x="403.62" y="531.00" width="2.90" height="19.00" fill="#fff" stroke="#4b3df2" stroke-width="1.0"/>
<rect x="403.32" y="529.80" width="3.50" height="2.2" fill="#4b3df2"/>
<circle cx="405.07" cy="529.58" r="0.9" fill="#4b3df2"/>
<rect x="409.89" y="531.00" width="2.90" height="19.00" fill="#fff" stroke="#f2541f" stroke-width="1.0"/>
<rect x="409.59" y="529.80" width="3.50" height="2.2" fill="#f2541f"/>
<circle cx="411.34" cy="529.58" r="0.9" fill="#f2541f"/>
<rect x="416.16" y="531.00" width="2.90" height="19.00" fill="#fff" stroke="#4d92f5" stroke-width="1.0"/>
<rect x="415.86" y="529.80" width="3.50" height="2.2" fill="#4d92f5"/>
<rect x="422.43" y="531.00" width="2.90" height="19.00" fill="#fff" stroke="#e9a35c" stroke-width="1.0"/>
<rect x="422.13" y="529.80" width="3.50" height="2.2" fill="#e9a35c"/>
<circle cx="423.88" cy="529.58" r="0.9" fill="#e9a35c"/>
<rect x="428.70" y="529.10" width="2.90" height="20.90" fill="#fff" stroke="#b6b6fb" stroke-width="1.0"/>
<circle cx="429.72" cy="526.53" r="0.9" fill="#b6b6fb"/>
<circle cx="430.99" cy="527.91" r="0.9" fill="#b6b6fb"/>
<circle cx="430.43" cy="528.32" r="0.9" fill="#b6b6fb"/>
<circle cx="429.28" cy="530.41" r="0.9" fill="#b6b6fb"/>
<circle cx="429.54" cy="531.00" r="0.9" fill="#b6b6fb"/>
<circle cx="430.03" cy="528.09" r="0.9" fill="#b6b6fb"/>
<circle cx="430.84" cy="528.88" r="0.9" fill="#b6b6fb"/>
<line x1="430.15" y1="529.10" x2="430.15" y2="526.63" stroke="#b6b6fb" stroke-width="0.7" />
<line x1="429.28" y1="526.63" x2="431.02" y2="526.63" stroke="#b6b6fb" stroke-width="0.7" />
<rect x="434.97" y="529.10" width="2.90" height="20.90" fill="#fff" stroke="#f3d3aa" stroke-width="1.0"/>
<circle cx="435.95" cy="531.00" r="0.9" fill="#f3d3aa"/>
<circle cx="435.59" cy="527.80" r="0.9" fill="#f3d3aa"/>
<circle cx="436.17" cy="531.00" r="0.9" fill="#f3d3aa"/>
<circle cx="436.17" cy="531.00" r="0.9" fill="#f3d3aa"/>
<circle cx="436.57" cy="531.00" r="0.9" fill="#f3d3aa"/>
<circle cx="435.91" cy="528.29" r="0.9" fill="#f3d3aa"/>
<circle cx="436.38" cy="528.03" r="0.9" fill="#f3d3aa"/>
<line x1="436.42" y1="529.10" x2="436.42" y2="526.63" stroke="#f3d3aa" stroke-width="0.7" />
<line x1="435.55" y1="526.63" x2="437.29" y2="526.63" stroke="#f3d3aa" stroke-width="0.7" />
<path d="M398.50,473.50 V469.50 H405.50 V527.08" fill="none" stroke="#3a3a3a" stroke-width="0.9"/>
<text x="401.94" y="466.20" font-size="5.45" text-anchor="middle" font-weight="normal" fill="#111" letter-spacing="-0.12" stroke="#222" stroke-width="0.12">0.6159</text>
<path d="M398.50,459.10 V455.50 H411.50 V459.60" fill="none" stroke="#3a3a3a" stroke-width="0.9"/>
<text x="405.07" y="452.30" font-size="5.45" text-anchor="middle" font-weight="normal" fill="#111" letter-spacing="-0.12" stroke="#222" stroke-width="0.12">0.6159</text>
<path d="M398.50,445.30 V441.50 H417.50 V527.74" fill="none" stroke="#3a3a3a" stroke-width="0.9"/>
<text x="408.21" y="438.50" font-size="5.45" text-anchor="middle" font-weight="normal" fill="#111" letter-spacing="-0.12" stroke="#222" stroke-width="0.12">0.6159</text>
<path d="M398.50,431.50 V427.50 H423.50 V527.08" fill="none" stroke="#3a3a3a" stroke-width="0.9"/>
<text x="411.34" y="424.70" font-size="5.45" text-anchor="middle" font-weight="normal" fill="#111" letter-spacing="-0.12" stroke="#222" stroke-width="0.12">0.6159</text>
<path d="M398.50,423.80 V414.50 H430.50 V524.03" fill="none" stroke="#3a3a3a" stroke-width="0.9"/>
<text x="414.48" y="411.00" font-size="5.45" text-anchor="middle" font-weight="normal" fill="#111" letter-spacing="-0.12" stroke="#222" stroke-width="0.12">0.8966</text>
<path d="M398.50,410.10 V400.50 H436.50 V524.13" fill="none" stroke="#3a3a3a" stroke-width="0.9"/>
<text x="417.61" y="397.30" font-size="5.45" text-anchor="middle" font-weight="normal" fill="#111" letter-spacing="-0.12" stroke="#222" stroke-width="0.12">0.7994</text>
<line x1="417.61" y1="550.00" x2="417.61" y2="552.00" stroke="#222" stroke-width="0.8" />
<text x="417.61" y="558.00" font-size="5.0" text-anchor="middle" font-weight="bold" fill="#222" >Spleen</text>
<line x1="249.00" y1="474.00" x2="249.00" y2="550.50" stroke="#111" stroke-width="1.1" />
<line x1="248.50" y1="550.00" x2="441.60" y2="550.00" stroke="#111" stroke-width="1.1" />
<line x1="246.50" y1="550.00" x2="249.00" y2="550.00" stroke="#111" stroke-width="0.9" />
<text x="245.80" y="552.90" font-size="5" text-anchor="end" font-weight="bold" fill="#222" >0</text>
<line x1="246.50" y1="531.00" x2="249.00" y2="531.00" stroke="#111" stroke-width="0.9" />
<text x="245.80" y="533.90" font-size="5" text-anchor="end" font-weight="bold" fill="#222" >2</text>
<line x1="246.50" y1="512.00" x2="249.00" y2="512.00" stroke="#111" stroke-width="0.9" />
<text x="245.80" y="514.90" font-size="5" text-anchor="end" font-weight="bold" fill="#222" >4</text>
<line x1="246.50" y1="493.00" x2="249.00" y2="493.00" stroke="#111" stroke-width="0.9" />
<text x="245.80" y="495.90" font-size="5" text-anchor="end" font-weight="bold" fill="#222" >6</text>
<line x1="246.50" y1="474.00" x2="249.00" y2="474.00" stroke="#111" stroke-width="0.9" />
<text x="245.80" y="476.90" font-size="5" text-anchor="end" font-weight="bold" fill="#222" >8</text>
<text x="346.00" y="567.50" font-size="6.3" text-anchor="middle" font-weight="bold" fill="#111" >Intradermal</text>
<text transform="translate(238.00,513.70) rotate(-90)" font-size="5.3" text-anchor="middle" font-weight="bold" fill="#222">TCID<tspan font-size="4" dy="1">50</tspan><tspan dy="-1">/mL  (Log</tspan><tspan font-size="4" dy="1">10</tspan><tspan dy="-1">)</tspan></text>
<line x1="486.30" y1="342.38" x2="678.00" y2="342.38" stroke="#222" stroke-width="0.8" stroke-dasharray="1.2,1.4"/>
<line x1="486.30" y1="339.54" x2="678.00" y2="339.54" stroke="#aaa" stroke-width="0.8" stroke-dasharray="1.2,1.4"/>
<rect x="488.50" y="296.64" width="1.80" height="59.66" fill="#fff" stroke="#3a3a3a" stroke-width="0.85"/>
<circle cx="489.87" cy="305.03" r="0.9" fill="#3a3a3a"/>
<circle cx="489.02" cy="302.42" r="0.9" fill="#3a3a3a"/>
<circle cx="489.55" cy="305.97" r="0.9" fill="#3a3a3a"/>
<circle cx="489.70" cy="287.32" r="0.9" fill="#3a3a3a"/>
<circle cx="489.15" cy="298.61" r="0.9" fill="#3a3a3a"/>
<circle cx="489.56" cy="308.00" r="0.9" fill="#3a3a3a"/>
<circle cx="489.24" cy="294.75" r="0.9" fill="#3a3a3a"/>
<line x1="489.40" y1="296.64" x2="489.40" y2="288.88" stroke="#3a3a3a" stroke-width="0.7" />
<line x1="488.86" y1="288.88" x2="489.94" y2="288.88" stroke="#3a3a3a" stroke-width="0.7" />
<rect x="493.55" y="323.16" width="1.80" height="33.15" fill="#fff" stroke="#4b3df2" stroke-width="0.85"/>
<circle cx="494.39" cy="320.99" r="0.9" fill="#4b3df2"/>
<circle cx="494.70" cy="317.10" r="0.9" fill="#4b3df2"/>
<circle cx="494.89" cy="326.30" r="0.9" fill="#4b3df2"/>
<circle cx="494.48" cy="329.03" r="0.9" fill="#4b3df2"/>
<circle cx="494.17" cy="324.20" r="0.9" fill="#4b3df2"/>
<circle cx="494.75" cy="328.84" r="0.9" fill="#4b3df2"/>
<circle cx="494.50" cy="329.45" r="0.9" fill="#4b3df2"/>
<line x1="494.45" y1="323.16" x2="494.45" y2="318.85" stroke="#4b3df2" stroke-width="0.7" />
<line x1="493.91" y1="318.85" x2="494.99" y2="318.85" stroke="#4b3df2" stroke-width="0.7" />
<rect x="498.60" y="313.69" width="1.80" height="42.62" fill="#fff" stroke="#f2541f" stroke-width="0.85"/>
<circle cx="499.11" cy="305.84" r="0.9" fill="#f2541f"/>
<circle cx="499.62" cy="318.57" r="0.9" fill="#f2541f"/>
<circle cx="499.65" cy="313.29" r="0.9" fill="#f2541f"/>
<circle cx="499.15" cy="308.03" r="0.9" fill="#f2541f"/>
<circle cx="499.28" cy="316.68" r="0.9" fill="#f2541f"/>
<circle cx="499.92" cy="321.16" r="0.9" fill="#f2541f"/>
<circle cx="499.73" cy="308.55" r="0.9" fill="#f2541f"/>
<line x1="499.50" y1="313.69" x2="499.50" y2="308.15" stroke="#f2541f" stroke-width="0.7" />
<line x1="498.96" y1="308.15" x2="500.04" y2="308.15" stroke="#f2541f" stroke-width="0.7" />
<rect x="503.65" y="314.63" width="1.80" height="41.67" fill="#fff" stroke="#4d92f5" stroke-width="0.85"/>
<circle cx="504.92" cy="322.65" r="0.9" fill="#4d92f5"/>
<circle cx="504.51" cy="310.24" r="0.9" fill="#4d92f5"/>
<circle cx="504.50" cy="310.30" r="0.9" fill="#4d92f5"/>
<circle cx="504.12" cy="318.96" r="0.9" fill="#4d92f5"/>
<circle cx="504.05" cy="318.86" r="0.9" fill="#4d92f5"/>
<circle cx="504.82" cy="317.12" r="0.9" fill="#4d92f5"/>
<circle cx="504.92" cy="311.08" r="0.9" fill="#4d92f5"/>
<line x1="504.55" y1="314.63" x2="504.55" y2="309.22" stroke="#4d92f5" stroke-width="0.7" />
<line x1="504.01" y1="309.22" x2="505.09" y2="309.22" stroke="#4d92f5" stroke-width="0.7" />
<rect x="508.70" y="307.06" width="1.80" height="49.24" fill="#fff" stroke="#e9a35c" stroke-width="0.85"/>
<circle cx="509.35" cy="302.53" r="0.9" fill="#e9a35c"/>
<circle cx="509.53" cy="305.67" r="0.9" fill="#e9a35c"/>
<circle cx="509.63" cy="301.01" r="0.9" fill="#e9a35c"/>
<circle cx="509.75" cy="311.39" r="0.9" fill="#e9a35c"/>
<circle cx="509.29" cy="297.51" r="0.9" fill="#e9a35c"/>
<circle cx="509.08" cy="299.19" r="0.9" fill="#e9a35c"/>
<circle cx="509.31" cy="311.49" r="0.9" fill="#e9a35c"/>
<line x1="509.60" y1="307.06" x2="509.60" y2="300.65" stroke="#e9a35c" stroke-width="0.7" />
<line x1="509.06" y1="300.65" x2="510.14" y2="300.65" stroke="#e9a35c" stroke-width="0.7" />
<rect x="513.75" y="304.22" width="1.80" height="52.09" fill="#fff" stroke="#b6b6fb" stroke-width="0.85"/>
<circle cx="515.13" cy="298.76" r="0.9" fill="#b6b6fb"/>
<circle cx="514.46" cy="298.71" r="0.9" fill="#b6b6fb"/>
<circle cx="514.46" cy="295.90" r="0.9" fill="#b6b6fb"/>
<circle cx="515.09" cy="309.35" r="0.9" fill="#b6b6fb"/>
<circle cx="514.86" cy="301.13" r="0.9" fill="#b6b6fb"/>
<circle cx="515.17" cy="300.41" r="0.9" fill="#b6b6fb"/>
<circle cx="515.02" cy="304.52" r="0.9" fill="#b6b6fb"/>
<line x1="514.65" y1="304.22" x2="514.65" y2="297.44" stroke="#b6b6fb" stroke-width="0.7" />
<line x1="514.11" y1="297.44" x2="515.19" y2="297.44" stroke="#b6b6fb" stroke-width="0.7" />
<rect x="518.80" y="301.37" width="1.80" height="54.93" fill="#fff" stroke="#f3d3aa" stroke-width="0.85"/>
<circle cx="520.09" cy="296.64" r="0.9" fill="#f3d3aa"/>
<circle cx="519.94" cy="302.41" r="0.9" fill="#f3d3aa"/>
<circle cx="519.49" cy="299.46" r="0.9" fill="#f3d3aa"/>
<circle cx="519.83" cy="307.39" r="0.9" fill="#f3d3aa"/>
<circle cx="520.14" cy="310.36" r="0.9" fill="#f3d3aa"/>
<circle cx="519.19" cy="308.88" r="0.9" fill="#f3d3aa"/>
<circle cx="520.16" cy="309.72" r="0.9" fill="#f3d3aa"/>
<line x1="519.70" y1="301.37" x2="519.70" y2="294.23" stroke="#f3d3aa" stroke-width="0.7" />
<line x1="519.16" y1="294.23" x2="520.24" y2="294.23" stroke="#f3d3aa" stroke-width="0.7" />
<path d="M489.50,287.20 V283.50 H494.50 V314.60" fill="none" stroke="#3a3a3a" stroke-width="0.9"/>
<text x="491.92" y="279.90" font-size="5.45" text-anchor="middle" font-weight="normal" fill="#111" letter-spacing="-0.12" stroke="#222" stroke-width="0.12">&lt;0.0001</text>
<path d="M489.50,273.30 V269.50 H499.50 V273.80" fill="none" stroke="#3a3a3a" stroke-width="0.9"/>
<text x="494.45" y="266.50" font-size="5.45" text-anchor="middle" font-weight="normal" fill="#111" letter-spacing="-0.12" stroke="#222" stroke-width="0.12">&lt;0.0001</text>
<path d="M489.50,259.60 V256.50 H504.50 V260.10" fill="none" stroke="#3a3a3a" stroke-width="0.9"/>
<text x="496.97" y="252.80" font-size="5.45" text-anchor="middle" font-weight="normal" fill="#111" letter-spacing="-0.12" stroke="#222" stroke-width="0.12">&lt;0.0001</text>
<path d="M489.50,245.60 V242.50 H509.50 V246.10" fill="none" stroke="#3a3a3a" stroke-width="0.9"/>
<text x="499.50" y="238.80" font-size="5.45" text-anchor="middle" font-weight="normal" fill="#111" letter-spacing="-0.12" stroke="#222" stroke-width="0.12">0.0001</text>
<path d="M489.50,237.60 V228.50 H514.50 V293.40" fill="none" stroke="#3a3a3a" stroke-width="0.9"/>
<text x="502.02" y="224.80" font-size="5.45" text-anchor="middle" font-weight="normal" fill="#111" letter-spacing="-0.12" stroke="#222" stroke-width="0.12">0.0121</text>
<path d="M489.50,223.60 V214.50 H519.50 V259.00" fill="none" stroke="#3a3a3a" stroke-width="0.9"/>
<text x="504.55" y="210.80" font-size="5.45" text-anchor="middle" font-weight="normal" fill="#111" letter-spacing="-0.12" stroke="#222" stroke-width="0.12">0.8570</text>
<line x1="504.55" y1="356.30" x2="504.55" y2="358.30" stroke="#222" stroke-width="0.8" />
<text x="504.55" y="364.00" font-size="4.9" text-anchor="middle" font-weight="bold" fill="#222" >Footpad</text>
<rect x="527.20" y="323.63" width="1.80" height="32.67" fill="#fff" stroke="#3a3a3a" stroke-width="0.85"/>
<circle cx="527.71" cy="325.46" r="0.9" fill="#3a3a3a"/>
<circle cx="527.60" cy="329.62" r="0.9" fill="#3a3a3a"/>
<circle cx="528.24" cy="320.88" r="0.9" fill="#3a3a3a"/>
<circle cx="528.36" cy="320.82" r="0.9" fill="#3a3a3a"/>
<circle cx="528.20" cy="329.13" r="0.9" fill="#3a3a3a"/>
<circle cx="528.44" cy="325.21" r="0.9" fill="#3a3a3a"/>
<circle cx="528.52" cy="319.21" r="0.9" fill="#3a3a3a"/>
<line x1="528.10" y1="323.63" x2="528.10" y2="319.38" stroke="#3a3a3a" stroke-width="0.7" />
<line x1="527.56" y1="319.38" x2="528.64" y2="319.38" stroke="#3a3a3a" stroke-width="0.7" />
<rect x="532.25" y="339.25" width="1.80" height="17.05" fill="#fff" stroke="#4b3df2" stroke-width="0.85"/>
<circle cx="533.55" cy="344.41" r="0.9" fill="#4b3df2"/>
<circle cx="533.63" cy="333.95" r="0.9" fill="#4b3df2"/>
<circle cx="532.83" cy="343.90" r="0.9" fill="#4b3df2"/>
<circle cx="532.65" cy="343.84" r="0.9" fill="#4b3df2"/>
<circle cx="533.49" cy="334.77" r="0.9" fill="#4b3df2"/>
<circle cx="533.50" cy="337.40" r="0.9" fill="#4b3df2"/>
<circle cx="532.92" cy="337.43" r="0.9" fill="#4b3df2"/>
<line x1="533.15" y1="339.25" x2="533.15" y2="335.28" stroke="#4b3df2" stroke-width="0.7" />
<line x1="532.61" y1="335.28" x2="533.69" y2="335.28" stroke="#4b3df2" stroke-width="0.7" />
<rect x="537.30" y="334.52" width="1.80" height="21.78" fill="#fff" stroke="#f2541f" stroke-width="0.85"/>
<circle cx="537.77" cy="339.25" r="0.9" fill="#f2541f"/>
<circle cx="537.88" cy="331.15" r="0.9" fill="#f2541f"/>
<circle cx="538.12" cy="336.55" r="0.9" fill="#f2541f"/>
<circle cx="537.94" cy="340.23" r="0.9" fill="#f2541f"/>
<circle cx="538.43" cy="337.00" r="0.9" fill="#f2541f"/>
<circle cx="538.01" cy="335.95" r="0.9" fill="#f2541f"/>
<circle cx="538.20" cy="328.60" r="0.9" fill="#f2541f"/>
<line x1="538.20" y1="334.52" x2="538.20" y2="330.54" stroke="#f2541f" stroke-width="0.7" />
<line x1="537.66" y1="330.54" x2="538.74" y2="330.54" stroke="#f2541f" stroke-width="0.7" />
<rect x="542.35" y="338.31" width="1.80" height="17.99" fill="#fff" stroke="#4d92f5" stroke-width="0.85"/>
<circle cx="543.38" cy="333.78" r="0.9" fill="#4d92f5"/>
<circle cx="543.16" cy="343.89" r="0.9" fill="#4d92f5"/>
<circle cx="543.54" cy="338.89" r="0.9" fill="#4d92f5"/>
<circle cx="543.47" cy="340.00" r="0.9" fill="#4d92f5"/>
<circle cx="542.94" cy="337.64" r="0.9" fill="#4d92f5"/>
<circle cx="542.81" cy="333.64" r="0.9" fill="#4d92f5"/>
<circle cx="542.89" cy="334.16" r="0.9" fill="#4d92f5"/>
<line x1="543.25" y1="338.31" x2="543.25" y2="334.33" stroke="#4d92f5" stroke-width="0.7" />
<line x1="542.71" y1="334.33" x2="543.79" y2="334.33" stroke="#4d92f5" stroke-width="0.7" />
<rect x="547.40" y="332.62" width="1.80" height="23.68" fill="#fff" stroke="#e9a35c" stroke-width="0.85"/>
<circle cx="547.98" cy="338.58" r="0.9" fill="#e9a35c"/>
<circle cx="548.82" cy="329.19" r="0.9" fill="#e9a35c"/>
<circle cx="548.29" cy="338.54" r="0.9" fill="#e9a35c"/>
<circle cx="548.62" cy="332.53" r="0.9" fill="#e9a35c"/>
<circle cx="548.29" cy="336.32" r="0.9" fill="#e9a35c"/>
<circle cx="548.66" cy="334.31" r="0.9" fill="#e9a35c"/>
<circle cx="548.78" cy="335.38" r="0.9" fill="#e9a35c"/>
<line x1="548.30" y1="332.62" x2="548.30" y2="328.65" stroke="#e9a35c" stroke-width="0.7" />
<line x1="547.76" y1="328.65" x2="548.84" y2="328.65" stroke="#e9a35c" stroke-width="0.7" />
<rect x="552.45" y="331.68" width="1.80" height="24.62" fill="#fff" stroke="#b6b6fb" stroke-width="0.85"/>
<circle cx="553.04" cy="334.15" r="0.9" fill="#b6b6fb"/>
<circle cx="553.35" cy="329.02" r="0.9" fill="#b6b6fb"/>
<circle cx="553.50" cy="336.29" r="0.9" fill="#b6b6fb"/>
<circle cx="553.66" cy="336.65" r="0.9" fill="#b6b6fb"/>
<circle cx="553.66" cy="329.05" r="0.9" fill="#b6b6fb"/>
<circle cx="553.19" cy="329.90" r="0.9" fill="#b6b6fb"/>
<circle cx="553.24" cy="332.70" r="0.9" fill="#b6b6fb"/>
<line x1="553.35" y1="331.68" x2="553.35" y2="327.70" stroke="#b6b6fb" stroke-width="0.7" />
<line x1="552.81" y1="327.70" x2="553.89" y2="327.70" stroke="#b6b6fb" stroke-width="0.7" />
<rect x="557.50" y="328.36" width="1.80" height="27.94" fill="#fff" stroke="#f3d3aa" stroke-width="0.85"/>
<circle cx="557.95" cy="323.35" r="0.9" fill="#f3d3aa"/>
<circle cx="557.89" cy="323.38" r="0.9" fill="#f3d3aa"/>
<circle cx="558.14" cy="331.79" r="0.9" fill="#f3d3aa"/>
<circle cx="558.40" cy="323.22" r="0.9" fill="#f3d3aa"/>
<circle cx="558.81" cy="329.65" r="0.9" fill="#f3d3aa"/>
<circle cx="558.36" cy="331.45" r="0.9" fill="#f3d3aa"/>
<circle cx="558.67" cy="327.78" r="0.9" fill="#f3d3aa"/>
<line x1="558.40" y1="328.36" x2="558.40" y2="324.39" stroke="#f3d3aa" stroke-width="0.7" />
<line x1="557.86" y1="324.39" x2="558.94" y2="324.39" stroke="#f3d3aa" stroke-width="0.7" />
<path d="M528.50,287.20 V283.50 H533.50 V331.45" fill="none" stroke="#3a3a3a" stroke-width="0.9"/>
<text x="530.62" y="279.90" font-size="5.45" text-anchor="middle" font-weight="normal" fill="#111" letter-spacing="-0.12" stroke="#222" stroke-width="0.12">&lt;0.0001</text>
<path d="M528.50,273.30 V269.50 H538.50 V273.80" fill="none" stroke="#3a3a3a" stroke-width="0.9"/>
<text x="533.15" y="266.50" font-size="5.45" text-anchor="middle" font-weight="normal" fill="#111" letter-spacing="-0.12" stroke="#222" stroke-width="0.12">&lt;0.0001</text>
<path d="M528.50,259.60 V256.50 H543.50 V260.10" fill="none" stroke="#3a3a3a" stroke-width="0.9"/>
<text x="535.67" y="252.80" font-size="5.45" text-anchor="middle" font-weight="normal" fill="#111" letter-spacing="-0.12" stroke="#222" stroke-width="0.12">&lt;0.0001</text>
<path d="M528.50,245.60 V242.50 H548.50 V246.10" fill="none" stroke="#3a3a3a" stroke-width="0.9"/>
<text x="538.20" y="238.80" font-size="5.45" text-anchor="middle" font-weight="normal" fill="#111" letter-spacing="-0.12" stroke="#222" stroke-width="0.12">0.0003</text>
<path d="M528.50,237.60 V228.50 H553.50 V325.20" fill="none" stroke="#3a3a3a" stroke-width="0.9"/>
<text x="540.73" y="224.80" font-size="5.45" text-anchor="middle" font-weight="normal" fill="#111" letter-spacing="-0.12" stroke="#222" stroke-width="0.12">0.0042</text>
<path d="M528.50,223.60 V214.50 H558.50 V259.00" fill="none" stroke="#3a3a3a" stroke-width="0.9"/>
<text x="543.25" y="210.80" font-size="5.45" text-anchor="middle" font-weight="normal" fill="#111" letter-spacing="-0.12" stroke="#222" stroke-width="0.12">0.3601</text>
<line x1="543.25" y1="356.30" x2="543.25" y2="358.30" stroke="#222" stroke-width="0.8" />
<text x="543.25" y="364.00" font-size="4.9" text-anchor="middle" font-weight="bold" fill="#222" >Lung</text>
<rect x="565.90" y="323.16" width="1.80" height="33.15" fill="#fff" stroke="#3a3a3a" stroke-width="0.85"/>
<circle cx="566.96" cy="319.56" r="0.9" fill="#3a3a3a"/>
<circle cx="566.61" cy="324.96" r="0.9" fill="#3a3a3a"/>
<circle cx="567.17" cy="327.54" r="0.9" fill="#3a3a3a"/>
<circle cx="567.06" cy="320.77" r="0.9" fill="#3a3a3a"/>
<circle cx="566.73" cy="327.35" r="0.9" fill="#3a3a3a"/>
<circle cx="566.89" cy="319.29" r="0.9" fill="#3a3a3a"/>
<circle cx="566.76" cy="327.93" r="0.9" fill="#3a3a3a"/>
<line x1="566.80" y1="323.16" x2="566.80" y2="318.85" stroke="#3a3a3a" stroke-width="0.7" />
<line x1="566.26" y1="318.85" x2="567.34" y2="318.85" stroke="#3a3a3a" stroke-width="0.7" />
<rect x="570.95" y="337.36" width="1.80" height="18.94" fill="#fff" stroke="#4b3df2" stroke-width="0.85"/>
<circle cx="571.57" cy="332.41" r="0.9" fill="#4b3df2"/>
<circle cx="571.64" cy="340.96" r="0.9" fill="#4b3df2"/>
<circle cx="572.22" cy="334.66" r="0.9" fill="#4b3df2"/>
<circle cx="571.48" cy="341.42" r="0.9" fill="#4b3df2"/>
<circle cx="571.66" cy="340.27" r="0.9" fill="#4b3df2"/>
<circle cx="571.48" cy="336.89" r="0.9" fill="#4b3df2"/>
<circle cx="571.51" cy="339.28" r="0.9" fill="#4b3df2"/>
<line x1="571.85" y1="337.36" x2="571.85" y2="333.38" stroke="#4b3df2" stroke-width="0.7" />
<line x1="571.31" y1="333.38" x2="572.39" y2="333.38" stroke="#4b3df2" stroke-width="0.7" />
<rect x="576.00" y="337.83" width="1.80" height="18.47" fill="#fff" stroke="#f2541f" stroke-width="0.85"/>
<circle cx="577.15" cy="331.78" r="0.9" fill="#f2541f"/>
<circle cx="577.40" cy="342.54" r="0.9" fill="#f2541f"/>
<circle cx="576.77" cy="342.55" r="0.9" fill="#f2541f"/>
<circle cx="577.22" cy="331.67" r="0.9" fill="#f2541f"/>
<circle cx="576.83" cy="334.76" r="0.9" fill="#f2541f"/>
<circle cx="577.05" cy="341.38" r="0.9" fill="#f2541f"/>
<circle cx="576.58" cy="342.48" r="0.9" fill="#f2541f"/>
<line x1="576.90" y1="337.83" x2="576.90" y2="333.86" stroke="#f2541f" stroke-width="0.7" />
<line x1="576.36" y1="333.86" x2="577.44" y2="333.86" stroke="#f2541f" stroke-width="0.7" />
<rect x="581.05" y="336.41" width="1.80" height="19.89" fill="#fff" stroke="#4d92f5" stroke-width="0.85"/>
<circle cx="581.45" cy="337.59" r="0.9" fill="#4d92f5"/>
<circle cx="582.26" cy="337.46" r="0.9" fill="#4d92f5"/>
<circle cx="581.95" cy="333.83" r="0.9" fill="#4d92f5"/>
<circle cx="581.91" cy="334.58" r="0.9" fill="#4d92f5"/>
<circle cx="582.06" cy="340.63" r="0.9" fill="#4d92f5"/>
<circle cx="582.21" cy="337.39" r="0.9" fill="#4d92f5"/>
<circle cx="581.87" cy="331.18" r="0.9" fill="#4d92f5"/>
<line x1="581.95" y1="336.41" x2="581.95" y2="332.44" stroke="#4d92f5" stroke-width="0.7" />
<line x1="581.41" y1="332.44" x2="582.49" y2="332.44" stroke="#4d92f5" stroke-width="0.7" />
<rect x="586.10" y="336.41" width="1.80" height="19.89" fill="#fff" stroke="#e9a35c" stroke-width="0.85"/>
<circle cx="587.27" cy="335.30" r="0.9" fill="#e9a35c"/>
<circle cx="586.71" cy="337.19" r="0.9" fill="#e9a35c"/>
<circle cx="587.41" cy="333.47" r="0.9" fill="#e9a35c"/>
<circle cx="587.22" cy="332.84" r="0.9" fill="#e9a35c"/>
<circle cx="587.19" cy="331.87" r="0.9" fill="#e9a35c"/>
<circle cx="586.95" cy="334.47" r="0.9" fill="#e9a35c"/>
<circle cx="587.14" cy="338.52" r="0.9" fill="#e9a35c"/>
<line x1="587.00" y1="336.41" x2="587.00" y2="332.44" stroke="#e9a35c" stroke-width="0.7" />
<line x1="586.46" y1="332.44" x2="587.54" y2="332.44" stroke="#e9a35c" stroke-width="0.7" />
<rect x="591.15" y="333.57" width="1.80" height="22.73" fill="#fff" stroke="#b6b6fb" stroke-width="0.85"/>
<circle cx="591.96" cy="338.33" r="0.9" fill="#b6b6fb"/>
<circle cx="592.28" cy="329.89" r="0.9" fill="#b6b6fb"/>
<circle cx="591.78" cy="331.77" r="0.9" fill="#b6b6fb"/>
<circle cx="592.00" cy="334.32" r="0.9" fill="#b6b6fb"/>
<circle cx="591.95" cy="331.87" r="0.9" fill="#b6b6fb"/>
<circle cx="592.51" cy="331.21" r="0.9" fill="#b6b6fb"/>
<circle cx="592.22" cy="337.28" r="0.9" fill="#b6b6fb"/>
<line x1="592.05" y1="333.57" x2="592.05" y2="329.59" stroke="#b6b6fb" stroke-width="0.7" />
<line x1="591.51" y1="329.59" x2="592.59" y2="329.59" stroke="#b6b6fb" stroke-width="0.7" />
<rect x="596.20" y="334.99" width="1.80" height="21.31" fill="#fff" stroke="#f3d3aa" stroke-width="0.85"/>
<circle cx="596.98" cy="331.36" r="0.9" fill="#f3d3aa"/>
<circle cx="597.61" cy="334.92" r="0.9" fill="#f3d3aa"/>
<circle cx="597.15" cy="340.49" r="0.9" fill="#f3d3aa"/>
<circle cx="597.40" cy="338.98" r="0.9" fill="#f3d3aa"/>
<circle cx="597.12" cy="329.36" r="0.9" fill="#f3d3aa"/>
<circle cx="597.18" cy="339.71" r="0.9" fill="#f3d3aa"/>
<circle cx="597.33" cy="334.29" r="0.9" fill="#f3d3aa"/>
<line x1="597.10" y1="334.99" x2="597.10" y2="331.02" stroke="#f3d3aa" stroke-width="0.7" />
<line x1="596.56" y1="331.02" x2="597.64" y2="331.02" stroke="#f3d3aa" stroke-width="0.7" />
<path d="M566.50,287.20 V283.50 H571.50 V329.91" fill="none" stroke="#3a3a3a" stroke-width="0.9"/>
<text x="569.32" y="279.90" font-size="5.45" text-anchor="middle" font-weight="normal" fill="#111" letter-spacing="-0.12" stroke="#222" stroke-width="0.12">&lt;0.0001</text>
<path d="M566.50,273.30 V269.50 H576.50 V273.80" fill="none" stroke="#3a3a3a" stroke-width="0.9"/>
<text x="571.85" y="266.50" font-size="5.45" text-anchor="middle" font-weight="normal" fill="#111" letter-spacing="-0.12" stroke="#222" stroke-width="0.12">&lt;0.0001</text>
<path d="M566.50,259.60 V256.50 H581.50 V260.10" fill="none" stroke="#3a3a3a" stroke-width="0.9"/>
<text x="574.38" y="252.80" font-size="5.45" text-anchor="middle" font-weight="normal" fill="#111" letter-spacing="-0.12" stroke="#222" stroke-width="0.12">0.0003</text>
<path d="M566.50,245.60 V242.50 H586.50 V329.37" fill="none" stroke="#3a3a3a" stroke-width="0.9"/>
<text x="576.90" y="238.80" font-size="5.45" text-anchor="middle" font-weight="normal" fill="#111" letter-spacing="-0.12" stroke="#222" stroke-width="0.12">&lt;0.0001</text>
<path d="M566.50,231.60 V228.50 H592.50 V327.09" fill="none" stroke="#3a3a3a" stroke-width="0.9"/>
<text x="579.42" y="224.80" font-size="5.45" text-anchor="middle" font-weight="normal" fill="#111" letter-spacing="-0.12" stroke="#222" stroke-width="0.12">0.0098</text>
<path d="M566.50,223.60 V214.50 H597.50 V272.70" fill="none" stroke="#3a3a3a" stroke-width="0.9"/>
<text x="581.95" y="210.80" font-size="5.45" text-anchor="middle" font-weight="normal" fill="#111" letter-spacing="-0.12" stroke="#222" stroke-width="0.12">0.0052</text>
<line x1="581.95" y1="356.30" x2="581.95" y2="358.30" stroke="#222" stroke-width="0.8" />
<text x="581.95" y="364.00" font-size="4.9" text-anchor="middle" font-weight="bold" fill="#222" >Liver</text>
<rect x="604.60" y="330.26" width="1.80" height="26.04" fill="#fff" stroke="#3a3a3a" stroke-width="0.85"/>
<circle cx="605.65" cy="329.91" r="0.9" fill="#3a3a3a"/>
<circle cx="605.52" cy="326.00" r="0.9" fill="#3a3a3a"/>
<circle cx="605.98" cy="331.16" r="0.9" fill="#3a3a3a"/>
<circle cx="605.70" cy="333.63" r="0.9" fill="#3a3a3a"/>
<circle cx="605.78" cy="331.38" r="0.9" fill="#3a3a3a"/>
<circle cx="606.02" cy="334.71" r="0.9" fill="#3a3a3a"/>
<circle cx="605.02" cy="331.84" r="0.9" fill="#3a3a3a"/>
<line x1="605.50" y1="330.26" x2="605.50" y2="326.28" stroke="#3a3a3a" stroke-width="0.7" />
<line x1="604.96" y1="326.28" x2="606.04" y2="326.28" stroke="#3a3a3a" stroke-width="0.7" />
<rect x="609.65" y="335.94" width="1.80" height="20.36" fill="#fff" stroke="#4b3df2" stroke-width="0.85"/>
<circle cx="610.44" cy="338.52" r="0.9" fill="#4b3df2"/>
<circle cx="610.46" cy="341.74" r="0.9" fill="#4b3df2"/>
<circle cx="610.76" cy="336.72" r="0.9" fill="#4b3df2"/>
<circle cx="610.30" cy="337.56" r="0.9" fill="#4b3df2"/>
<circle cx="610.81" cy="339.14" r="0.9" fill="#4b3df2"/>
<circle cx="610.58" cy="330.32" r="0.9" fill="#4b3df2"/>
<circle cx="610.88" cy="339.21" r="0.9" fill="#4b3df2"/>
<line x1="610.55" y1="335.94" x2="610.55" y2="331.96" stroke="#4b3df2" stroke-width="0.7" />
<line x1="610.01" y1="331.96" x2="611.09" y2="331.96" stroke="#4b3df2" stroke-width="0.7" />
<rect x="614.70" y="339.25" width="1.80" height="17.05" fill="#fff" stroke="#f2541f" stroke-width="0.85"/>
<circle cx="615.29" cy="340.39" r="0.9" fill="#f2541f"/>
<circle cx="615.90" cy="343.63" r="0.9" fill="#f2541f"/>
<circle cx="615.75" cy="335.24" r="0.9" fill="#f2541f"/>
<circle cx="615.67" cy="339.44" r="0.9" fill="#f2541f"/>
<circle cx="616.10" cy="342.43" r="0.9" fill="#f2541f"/>
<circle cx="615.75" cy="340.87" r="0.9" fill="#f2541f"/>
<circle cx="615.94" cy="335.13" r="0.9" fill="#f2541f"/>
<line x1="615.60" y1="339.25" x2="615.60" y2="335.28" stroke="#f2541f" stroke-width="0.7" />
<line x1="615.06" y1="335.28" x2="616.14" y2="335.28" stroke="#f2541f" stroke-width="0.7" />
<rect x="619.75" y="336.41" width="1.80" height="19.89" fill="#fff" stroke="#4d92f5" stroke-width="0.85"/>
<circle cx="620.43" cy="336.61" r="0.9" fill="#4d92f5"/>
<circle cx="620.25" cy="335.62" r="0.9" fill="#4d92f5"/>
<circle cx="620.49" cy="332.10" r="0.9" fill="#4d92f5"/>
<circle cx="620.40" cy="331.89" r="0.9" fill="#4d92f5"/>
<circle cx="620.38" cy="337.74" r="0.9" fill="#4d92f5"/>
<circle cx="620.31" cy="337.13" r="0.9" fill="#4d92f5"/>
<circle cx="620.89" cy="342.35" r="0.9" fill="#4d92f5"/>
<line x1="620.65" y1="336.41" x2="620.65" y2="332.44" stroke="#4d92f5" stroke-width="0.7" />
<line x1="620.11" y1="332.44" x2="621.19" y2="332.44" stroke="#4d92f5" stroke-width="0.7" />
<rect x="624.80" y="338.31" width="1.80" height="17.99" fill="#fff" stroke="#e9a35c" stroke-width="0.85"/>
<circle cx="625.42" cy="340.81" r="0.9" fill="#e9a35c"/>
<circle cx="625.68" cy="340.55" r="0.9" fill="#e9a35c"/>
<circle cx="625.85" cy="338.99" r="0.9" fill="#e9a35c"/>
<circle cx="625.55" cy="336.14" r="0.9" fill="#e9a35c"/>
<circle cx="626.08" cy="332.82" r="0.9" fill="#e9a35c"/>
<circle cx="626.05" cy="343.57" r="0.9" fill="#e9a35c"/>
<circle cx="626.01" cy="333.10" r="0.9" fill="#e9a35c"/>
<line x1="625.70" y1="338.31" x2="625.70" y2="334.33" stroke="#e9a35c" stroke-width="0.7" />
<line x1="625.16" y1="334.33" x2="626.24" y2="334.33" stroke="#e9a35c" stroke-width="0.7" />
<rect x="629.85" y="335.47" width="1.80" height="20.83" fill="#fff" stroke="#b6b6fb" stroke-width="0.85"/>
<circle cx="631.11" cy="339.70" r="0.9" fill="#b6b6fb"/>
<circle cx="630.23" cy="333.63" r="0.9" fill="#b6b6fb"/>
<circle cx="631.24" cy="341.29" r="0.9" fill="#b6b6fb"/>
<circle cx="630.48" cy="333.34" r="0.9" fill="#b6b6fb"/>
<circle cx="630.36" cy="340.18" r="0.9" fill="#b6b6fb"/>
<circle cx="631.05" cy="338.55" r="0.9" fill="#b6b6fb"/>
<circle cx="630.37" cy="337.16" r="0.9" fill="#b6b6fb"/>
<line x1="630.75" y1="335.47" x2="630.75" y2="331.49" stroke="#b6b6fb" stroke-width="0.7" />
<line x1="630.21" y1="331.49" x2="631.29" y2="331.49" stroke="#b6b6fb" stroke-width="0.7" />
<rect x="634.90" y="337.36" width="1.80" height="18.94" fill="#fff" stroke="#f3d3aa" stroke-width="0.85"/>
<circle cx="636.12" cy="332.18" r="0.9" fill="#f3d3aa"/>
<circle cx="636.22" cy="341.26" r="0.9" fill="#f3d3aa"/>
<circle cx="636.10" cy="335.82" r="0.9" fill="#f3d3aa"/>
<circle cx="636.23" cy="335.08" r="0.9" fill="#f3d3aa"/>
<circle cx="636.17" cy="333.61" r="0.9" fill="#f3d3aa"/>
<circle cx="636.01" cy="340.89" r="0.9" fill="#f3d3aa"/>
<circle cx="636.06" cy="336.78" r="0.9" fill="#f3d3aa"/>
<line x1="635.80" y1="337.36" x2="635.80" y2="333.38" stroke="#f3d3aa" stroke-width="0.7" />
<line x1="635.26" y1="333.38" x2="636.34" y2="333.38" stroke="#f3d3aa" stroke-width="0.7" />
<path d="M605.50,287.20 V283.50 H610.50 V327.82" fill="none" stroke="#3a3a3a" stroke-width="0.9"/>
<text x="608.02" y="279.90" font-size="5.45" text-anchor="middle" font-weight="normal" fill="#111" letter-spacing="-0.12" stroke="#222" stroke-width="0.12">0.0030</text>
<path d="M605.50,273.30 V269.50 H615.50 V273.80" fill="none" stroke="#3a3a3a" stroke-width="0.9"/>
<text x="610.55" y="266.50" font-size="5.45" text-anchor="middle" font-weight="normal" fill="#111" letter-spacing="-0.12" stroke="#222" stroke-width="0.12">0.0005</text>
<path d="M605.50,259.60 V256.50 H620.50 V260.10" fill="none" stroke="#3a3a3a" stroke-width="0.9"/>
<text x="613.08" y="252.80" font-size="5.45" text-anchor="middle" font-weight="normal" fill="#111" letter-spacing="-0.12" stroke="#222" stroke-width="0.12">0.0063</text>
<path d="M605.50,245.60 V242.50 H625.50 V330.32" fill="none" stroke="#3a3a3a" stroke-width="0.9"/>
<text x="615.60" y="238.80" font-size="5.45" text-anchor="middle" font-weight="normal" fill="#111" letter-spacing="-0.12" stroke="#222" stroke-width="0.12">0.0013</text>
<path d="M605.50,237.60 V228.50 H630.50 V328.99" fill="none" stroke="#3a3a3a" stroke-width="0.9"/>
<text x="618.12" y="224.80" font-size="5.45" text-anchor="middle" font-weight="normal" fill="#111" letter-spacing="-0.12" stroke="#222" stroke-width="0.12">0.0915</text>
<path d="M605.50,223.60 V214.50 H635.50 V259.00" fill="none" stroke="#3a3a3a" stroke-width="0.9"/>
<text x="620.65" y="210.80" font-size="5.45" text-anchor="middle" font-weight="normal" fill="#111" letter-spacing="-0.12" stroke="#222" stroke-width="0.12">0.0084</text>
<line x1="620.65" y1="356.30" x2="620.65" y2="358.30" stroke="#222" stroke-width="0.8" />
<text x="620.65" y="364.00" font-size="4.9" text-anchor="middle" font-weight="bold" fill="#222" >Spleen</text>
<rect x="643.30" y="329.78" width="1.80" height="26.52" fill="#fff" stroke="#3a3a3a" stroke-width="0.85"/>
<circle cx="644.61" cy="330.34" r="0.9" fill="#3a3a3a"/>
<circle cx="643.95" cy="328.91" r="0.9" fill="#3a3a3a"/>
<circle cx="643.81" cy="332.86" r="0.9" fill="#3a3a3a"/>
<circle cx="643.72" cy="329.67" r="0.9" fill="#3a3a3a"/>
<circle cx="643.82" cy="329.99" r="0.9" fill="#3a3a3a"/>
<circle cx="644.20" cy="329.69" r="0.9" fill="#3a3a3a"/>
<circle cx="644.59" cy="329.10" r="0.9" fill="#3a3a3a"/>
<line x1="644.20" y1="329.78" x2="644.20" y2="325.81" stroke="#3a3a3a" stroke-width="0.7" />
<line x1="643.66" y1="325.81" x2="644.74" y2="325.81" stroke="#3a3a3a" stroke-width="0.7" />
<rect x="648.35" y="337.83" width="1.80" height="18.47" fill="#fff" stroke="#4b3df2" stroke-width="0.85"/>
<circle cx="649.62" cy="343.72" r="0.9" fill="#4b3df2"/>
<circle cx="649.32" cy="338.03" r="0.9" fill="#4b3df2"/>
<circle cx="649.62" cy="335.60" r="0.9" fill="#4b3df2"/>
<circle cx="649.16" cy="339.18" r="0.9" fill="#4b3df2"/>
<circle cx="648.79" cy="331.96" r="0.9" fill="#4b3df2"/>
<circle cx="649.40" cy="335.94" r="0.9" fill="#4b3df2"/>
<circle cx="649.37" cy="343.45" r="0.9" fill="#4b3df2"/>
<line x1="649.25" y1="337.83" x2="649.25" y2="333.86" stroke="#4b3df2" stroke-width="0.7" />
<line x1="648.71" y1="333.86" x2="649.79" y2="333.86" stroke="#4b3df2" stroke-width="0.7" />
<rect x="653.40" y="341.15" width="1.80" height="15.15" fill="#fff" stroke="#f2541f" stroke-width="0.85"/>
<circle cx="654.77" cy="338.70" r="0.9" fill="#f2541f"/>
<circle cx="654.82" cy="343.04" r="0.9" fill="#f2541f"/>
<circle cx="654.28" cy="340.82" r="0.9" fill="#f2541f"/>
<circle cx="653.80" cy="336.05" r="0.9" fill="#f2541f"/>
<circle cx="654.44" cy="338.26" r="0.9" fill="#f2541f"/>
<circle cx="654.69" cy="342.94" r="0.9" fill="#f2541f"/>
<circle cx="654.27" cy="342.60" r="0.9" fill="#f2541f"/>
<line x1="654.30" y1="341.15" x2="654.30" y2="337.17" stroke="#f2541f" stroke-width="0.7" />
<line x1="653.76" y1="337.17" x2="654.84" y2="337.17" stroke="#f2541f" stroke-width="0.7" />
<rect x="658.45" y="337.36" width="1.80" height="18.94" fill="#fff" stroke="#4d92f5" stroke-width="0.85"/>
<circle cx="659.64" cy="336.85" r="0.9" fill="#4d92f5"/>
<circle cx="659.28" cy="340.73" r="0.9" fill="#4d92f5"/>
<circle cx="659.41" cy="338.12" r="0.9" fill="#4d92f5"/>
<circle cx="659.13" cy="333.13" r="0.9" fill="#4d92f5"/>
<circle cx="659.25" cy="333.12" r="0.9" fill="#4d92f5"/>
<circle cx="659.10" cy="337.11" r="0.9" fill="#4d92f5"/>
<circle cx="659.86" cy="337.08" r="0.9" fill="#4d92f5"/>
<line x1="659.35" y1="337.36" x2="659.35" y2="333.38" stroke="#4d92f5" stroke-width="0.7" />
<line x1="658.81" y1="333.38" x2="659.89" y2="333.38" stroke="#4d92f5" stroke-width="0.7" />
<rect x="663.50" y="336.41" width="1.80" height="19.89" fill="#fff" stroke="#e9a35c" stroke-width="0.85"/>
<circle cx="664.72" cy="334.31" r="0.9" fill="#e9a35c"/>
<circle cx="664.20" cy="338.30" r="0.9" fill="#e9a35c"/>
<circle cx="664.49" cy="338.69" r="0.9" fill="#e9a35c"/>
<circle cx="664.71" cy="334.55" r="0.9" fill="#e9a35c"/>
<circle cx="664.64" cy="341.89" r="0.9" fill="#e9a35c"/>
<circle cx="664.45" cy="331.46" r="0.9" fill="#e9a35c"/>
<circle cx="664.18" cy="341.77" r="0.9" fill="#e9a35c"/>
<line x1="664.40" y1="336.41" x2="664.40" y2="332.44" stroke="#e9a35c" stroke-width="0.7" />
<line x1="663.86" y1="332.44" x2="664.94" y2="332.44" stroke="#e9a35c" stroke-width="0.7" />
<rect x="668.55" y="335.94" width="1.80" height="20.36" fill="#fff" stroke="#b6b6fb" stroke-width="0.85"/>
<circle cx="669.12" cy="341.83" r="0.9" fill="#b6b6fb"/>
<circle cx="669.57" cy="330.54" r="0.9" fill="#b6b6fb"/>
<circle cx="669.76" cy="333.79" r="0.9" fill="#b6b6fb"/>
<circle cx="669.57" cy="330.69" r="0.9" fill="#b6b6fb"/>
<circle cx="669.59" cy="334.30" r="0.9" fill="#b6b6fb"/>
<circle cx="669.55" cy="333.32" r="0.9" fill="#b6b6fb"/>
<circle cx="669.14" cy="333.51" r="0.9" fill="#b6b6fb"/>
<line x1="669.45" y1="335.94" x2="669.45" y2="331.96" stroke="#b6b6fb" stroke-width="0.7" />
<line x1="668.91" y1="331.96" x2="669.99" y2="331.96" stroke="#b6b6fb" stroke-width="0.7" />
<rect x="673.60" y="337.83" width="1.80" height="18.47" fill="#fff" stroke="#f3d3aa" stroke-width="0.85"/>
<circle cx="674.45" cy="335.58" r="0.9" fill="#f3d3aa"/>
<circle cx="674.07" cy="334.40" r="0.9" fill="#f3d3aa"/>
<circle cx="674.00" cy="341.56" r="0.9" fill="#f3d3aa"/>
<circle cx="674.95" cy="334.25" r="0.9" fill="#f3d3aa"/>
<circle cx="674.36" cy="335.71" r="0.9" fill="#f3d3aa"/>
<circle cx="674.81" cy="333.66" r="0.9" fill="#f3d3aa"/>
<circle cx="674.24" cy="336.87" r="0.9" fill="#f3d3aa"/>
<line x1="674.50" y1="337.83" x2="674.50" y2="333.86" stroke="#f3d3aa" stroke-width="0.7" />
<line x1="673.96" y1="333.86" x2="675.04" y2="333.86" stroke="#f3d3aa" stroke-width="0.7" />
<path d="M644.50,287.20 V283.50 H649.50 V329.46" fill="none" stroke="#3a3a3a" stroke-width="0.9"/>
<text x="646.73" y="279.90" font-size="5.45" text-anchor="middle" font-weight="normal" fill="#111" letter-spacing="-0.12" stroke="#222" stroke-width="0.12">0.0007</text>
<path d="M644.50,273.30 V269.50 H654.50 V273.80" fill="none" stroke="#3a3a3a" stroke-width="0.9"/>
<text x="649.25" y="266.50" font-size="5.45" text-anchor="middle" font-weight="normal" fill="#111" letter-spacing="-0.12" stroke="#222" stroke-width="0.12">&lt;0.0001</text>
<path d="M644.50,259.60 V256.50 H659.50 V260.10" fill="none" stroke="#3a3a3a" stroke-width="0.9"/>
<text x="651.78" y="252.80" font-size="5.45" text-anchor="middle" font-weight="normal" fill="#111" letter-spacing="-0.12" stroke="#222" stroke-width="0.12">0.0015</text>
<path d="M644.50,245.60 V242.50 H664.50 V328.96" fill="none" stroke="#3a3a3a" stroke-width="0.9"/>
<text x="654.30" y="238.80" font-size="5.45" text-anchor="middle" font-weight="normal" fill="#111" letter-spacing="-0.12" stroke="#222" stroke-width="0.12">0.0027</text>
<path d="M644.50,237.60 V228.50 H669.50 V328.04" fill="none" stroke="#3a3a3a" stroke-width="0.9"/>
<text x="656.83" y="224.80" font-size="5.45" text-anchor="middle" font-weight="normal" fill="#111" letter-spacing="-0.12" stroke="#222" stroke-width="0.12">0.0849</text>
<path d="M644.50,223.60 V214.50 H674.50 V331.16" fill="none" stroke="#3a3a3a" stroke-width="0.9"/>
<text x="659.35" y="210.80" font-size="5.45" text-anchor="middle" font-weight="normal" fill="#111" letter-spacing="-0.12" stroke="#222" stroke-width="0.12">0.0370</text>
<line x1="659.35" y1="356.30" x2="659.35" y2="358.30" stroke="#222" stroke-width="0.8" />
<text x="659.35" y="364.00" font-size="4.9" text-anchor="middle" font-weight="bold" fill="#222" >Popliteal lymph node</text>
<line x1="486.30" y1="280.00" x2="486.30" y2="356.80" stroke="#111" stroke-width="1.1" />
<line x1="485.80" y1="356.30" x2="678.00" y2="356.30" stroke="#111" stroke-width="1.1" />
<line x1="483.80" y1="356.30" x2="486.30" y2="356.30" stroke="#111" stroke-width="0.9" />
<text x="483.10" y="359.20" font-size="5" text-anchor="end" font-weight="bold" fill="#222" >0</text>
<line x1="483.80" y1="337.36" x2="486.30" y2="337.36" stroke="#111" stroke-width="0.9" />
<text x="483.10" y="340.26" font-size="5" text-anchor="end" font-weight="bold" fill="#222" >2</text>
<line x1="483.80" y1="318.42" x2="486.30" y2="318.42" stroke="#111" stroke-width="0.9" />
<text x="483.10" y="321.32" font-size="5" text-anchor="end" font-weight="bold" fill="#222" >4</text>
<line x1="483.80" y1="299.48" x2="486.30" y2="299.48" stroke="#111" stroke-width="0.9" />
<text x="483.10" y="302.38" font-size="5" text-anchor="end" font-weight="bold" fill="#222" >6</text>
<line x1="483.80" y1="280.54" x2="486.30" y2="280.54" stroke="#111" stroke-width="0.9" />
<text x="483.10" y="283.44" font-size="5" text-anchor="end" font-weight="bold" fill="#222" >8</text>
<text x="581.00" y="373.50" font-size="6.3" text-anchor="middle" font-weight="bold" fill="#111" >Subcutaneous</text>
<text transform="translate(475.50,318.00) rotate(-90)" font-size="5.3" text-anchor="middle" font-weight="bold" fill="#222">Copies/mL (Log<tspan font-size="3.6" dy="1">10</tspan><tspan dy="-1">)</tspan></text>
<text x="459.50" y="198.00" font-size="14" text-anchor="start" font-weight="bold" fill="#000" >d</text>
<line x1="486.30" y1="524.60" x2="678.00" y2="524.60" stroke="#222" stroke-width="0.8" stroke-dasharray="1.2,1.4"/>
<rect x="488.50" y="485.08" width="1.80" height="65.02" fill="#fff" stroke="#3a3a3a" stroke-width="0.85"/>
<circle cx="489.32" cy="488.67" r="0.9" fill="#3a3a3a"/>
<circle cx="489.33" cy="488.34" r="0.9" fill="#3a3a3a"/>
<circle cx="489.87" cy="481.95" r="0.9" fill="#3a3a3a"/>
<circle cx="489.47" cy="493.56" r="0.9" fill="#3a3a3a"/>
<circle cx="488.99" cy="493.86" r="0.9" fill="#3a3a3a"/>
<circle cx="489.48" cy="478.62" r="0.9" fill="#3a3a3a"/>
<circle cx="489.34" cy="476.48" r="0.9" fill="#3a3a3a"/>
<line x1="489.40" y1="485.08" x2="489.40" y2="478.70" stroke="#3a3a3a" stroke-width="0.7" />
<line x1="488.86" y1="478.70" x2="489.94" y2="478.70" stroke="#3a3a3a" stroke-width="0.7" />
<rect x="493.55" y="517.84" width="1.80" height="32.26" fill="#fff" stroke="#4b3df2" stroke-width="0.85"/>
<circle cx="494.33" cy="524.60" r="0.9" fill="#4b3df2"/>
<circle cx="494.92" cy="516.13" r="0.9" fill="#4b3df2"/>
<circle cx="494.42" cy="509.99" r="0.9" fill="#4b3df2"/>
<circle cx="494.02" cy="518.97" r="0.9" fill="#4b3df2"/>
<circle cx="494.14" cy="515.30" r="0.9" fill="#4b3df2"/>
<circle cx="493.93" cy="523.09" r="0.9" fill="#4b3df2"/>
<circle cx="494.65" cy="524.60" r="0.9" fill="#4b3df2"/>
<line x1="494.45" y1="517.84" x2="494.45" y2="512.74" stroke="#4b3df2" stroke-width="0.7" />
<line x1="493.91" y1="512.74" x2="494.99" y2="512.74" stroke="#4b3df2" stroke-width="0.7" />
<rect x="498.60" y="514.40" width="1.80" height="35.70" fill="#fff" stroke="#f2541f" stroke-width="0.85"/>
<circle cx="500.00" cy="522.99" r="0.9" fill="#f2541f"/>
<circle cx="499.90" cy="523.78" r="0.9" fill="#f2541f"/>
<circle cx="498.98" cy="522.82" r="0.9" fill="#f2541f"/>
<circle cx="499.22" cy="508.82" r="0.9" fill="#f2541f"/>
<circle cx="499.16" cy="508.48" r="0.9" fill="#f2541f"/>
<circle cx="499.80" cy="524.60" r="0.9" fill="#f2541f"/>
<circle cx="499.88" cy="508.95" r="0.9" fill="#f2541f"/>
<line x1="499.50" y1="514.40" x2="499.50" y2="506.75" stroke="#f2541f" stroke-width="0.7" />
<line x1="498.96" y1="506.75" x2="500.04" y2="506.75" stroke="#f2541f" stroke-width="0.7" />
<rect x="503.65" y="511.09" width="1.80" height="39.02" fill="#fff" stroke="#4d92f5" stroke-width="0.85"/>
<circle cx="504.10" cy="502.34" r="0.9" fill="#4d92f5"/>
<circle cx="504.78" cy="505.94" r="0.9" fill="#4d92f5"/>
<circle cx="505.02" cy="511.91" r="0.9" fill="#4d92f5"/>
<circle cx="505.05" cy="519.26" r="0.9" fill="#4d92f5"/>
<circle cx="504.02" cy="502.78" r="0.9" fill="#4d92f5"/>
<circle cx="504.71" cy="524.60" r="0.9" fill="#4d92f5"/>
<circle cx="504.10" cy="499.22" r="0.9" fill="#4d92f5"/>
<line x1="504.55" y1="511.09" x2="504.55" y2="499.61" stroke="#4d92f5" stroke-width="0.7" />
<line x1="504.01" y1="499.61" x2="505.09" y2="499.61" stroke="#4d92f5" stroke-width="0.7" />
<rect x="508.70" y="498.46" width="1.80" height="51.64" fill="#fff" stroke="#e9a35c" stroke-width="0.85"/>
<circle cx="509.85" cy="502.56" r="0.9" fill="#e9a35c"/>
<circle cx="509.99" cy="506.00" r="0.9" fill="#e9a35c"/>
<circle cx="509.12" cy="498.40" r="0.9" fill="#e9a35c"/>
<circle cx="509.68" cy="501.22" r="0.9" fill="#e9a35c"/>
<circle cx="509.79" cy="499.53" r="0.9" fill="#e9a35c"/>
<circle cx="509.92" cy="506.50" r="0.9" fill="#e9a35c"/>
<circle cx="509.76" cy="501.32" r="0.9" fill="#e9a35c"/>
<line x1="509.60" y1="498.46" x2="509.60" y2="490.81" stroke="#e9a35c" stroke-width="0.7" />
<line x1="509.06" y1="490.81" x2="510.14" y2="490.81" stroke="#e9a35c" stroke-width="0.7" />
<rect x="513.75" y="490.56" width="1.80" height="59.54" fill="#fff" stroke="#b6b6fb" stroke-width="0.85"/>
<circle cx="514.56" cy="488.54" r="0.9" fill="#b6b6fb"/>
<circle cx="514.96" cy="491.92" r="0.9" fill="#b6b6fb"/>
<circle cx="514.96" cy="484.18" r="0.9" fill="#b6b6fb"/>
<circle cx="514.43" cy="489.41" r="0.9" fill="#b6b6fb"/>
<circle cx="515.16" cy="496.41" r="0.9" fill="#b6b6fb"/>
<circle cx="515.00" cy="487.52" r="0.9" fill="#b6b6fb"/>
<circle cx="514.76" cy="492.66" r="0.9" fill="#b6b6fb"/>
<line x1="514.65" y1="490.56" x2="514.65" y2="486.10" stroke="#b6b6fb" stroke-width="0.7" />
<line x1="514.11" y1="486.10" x2="515.19" y2="486.10" stroke="#b6b6fb" stroke-width="0.7" />
<rect x="518.80" y="494.25" width="1.80" height="55.84" fill="#fff" stroke="#f3d3aa" stroke-width="0.85"/>
<circle cx="520.06" cy="484.50" r="0.9" fill="#f3d3aa"/>
<circle cx="519.49" cy="491.94" r="0.9" fill="#f3d3aa"/>
<circle cx="520.12" cy="495.35" r="0.9" fill="#f3d3aa"/>
<circle cx="519.90" cy="496.37" r="0.9" fill="#f3d3aa"/>
<circle cx="520.13" cy="491.92" r="0.9" fill="#f3d3aa"/>
<circle cx="519.47" cy="487.86" r="0.9" fill="#f3d3aa"/>
<circle cx="519.44" cy="503.78" r="0.9" fill="#f3d3aa"/>
<line x1="519.70" y1="494.25" x2="519.70" y2="487.88" stroke="#f3d3aa" stroke-width="0.7" />
<line x1="519.16" y1="487.88" x2="520.24" y2="487.88" stroke="#f3d3aa" stroke-width="0.7" />
<path d="M489.50,470.70 V466.50 H494.50 V507.49" fill="none" stroke="#3a3a3a" stroke-width="0.9"/>
<text x="491.92" y="463.40" font-size="5.45" text-anchor="middle" font-weight="normal" fill="#111" letter-spacing="-0.12" stroke="#222" stroke-width="0.12">&lt;0.0001</text>
<path d="M489.50,456.60 V453.50 H499.50 V457.10" fill="none" stroke="#3a3a3a" stroke-width="0.9"/>
<text x="494.45" y="449.80" font-size="5.45" text-anchor="middle" font-weight="normal" fill="#111" letter-spacing="-0.12" stroke="#222" stroke-width="0.12">&lt;0.0001</text>
<path d="M489.50,442.90 V439.50 H504.50 V443.40" fill="none" stroke="#3a3a3a" stroke-width="0.9"/>
<text x="496.97" y="436.10" font-size="5.45" text-anchor="middle" font-weight="normal" fill="#111" letter-spacing="-0.12" stroke="#222" stroke-width="0.12">&lt;0.0001</text>
<path d="M489.50,429.10 V425.50 H509.50 V429.60" fill="none" stroke="#3a3a3a" stroke-width="0.9"/>
<text x="499.50" y="422.30" font-size="5.45" text-anchor="middle" font-weight="normal" fill="#111" letter-spacing="-0.12" stroke="#222" stroke-width="0.12">&lt;0.0001</text>
<path d="M489.50,415.10 V411.50 H514.50 V481.68" fill="none" stroke="#3a3a3a" stroke-width="0.9"/>
<text x="502.02" y="408.30" font-size="5.45" text-anchor="middle" font-weight="normal" fill="#111" letter-spacing="-0.12" stroke="#222" stroke-width="0.12">0.0036</text>
<path d="M489.50,407.10 V397.50 H519.50 V455.20" fill="none" stroke="#3a3a3a" stroke-width="0.9"/>
<text x="504.55" y="394.30" font-size="5.45" text-anchor="middle" font-weight="normal" fill="#111" letter-spacing="-0.12" stroke="#222" stroke-width="0.12">&lt;0.0001</text>
<line x1="504.55" y1="550.10" x2="504.55" y2="552.10" stroke="#222" stroke-width="0.8" />
<text x="504.55" y="558.00" font-size="4.9" text-anchor="middle" font-weight="bold" fill="#222" >Footpad</text>
<rect x="527.20" y="515.68" width="1.80" height="34.43" fill="#fff" stroke="#3a3a3a" stroke-width="0.85"/>
<circle cx="528.19" cy="516.46" r="0.9" fill="#3a3a3a"/>
<circle cx="528.52" cy="511.42" r="0.9" fill="#3a3a3a"/>
<circle cx="528.46" cy="521.33" r="0.9" fill="#3a3a3a"/>
<circle cx="528.50" cy="511.48" r="0.9" fill="#3a3a3a"/>
<circle cx="527.86" cy="514.55" r="0.9" fill="#3a3a3a"/>
<circle cx="528.43" cy="510.97" r="0.9" fill="#3a3a3a"/>
<circle cx="528.55" cy="513.10" r="0.9" fill="#3a3a3a"/>
<line x1="528.10" y1="515.68" x2="528.10" y2="511.54" stroke="#3a3a3a" stroke-width="0.7" />
<line x1="527.56" y1="511.54" x2="528.64" y2="511.54" stroke="#3a3a3a" stroke-width="0.7" />
<rect x="532.25" y="521.16" width="1.80" height="28.94" fill="#fff" stroke="#4b3df2" stroke-width="0.85"/>
<circle cx="532.70" cy="522.63" r="0.9" fill="#4b3df2"/>
<circle cx="533.47" cy="520.41" r="0.9" fill="#4b3df2"/>
<circle cx="533.42" cy="524.21" r="0.9" fill="#4b3df2"/>
<circle cx="532.86" cy="516.34" r="0.9" fill="#4b3df2"/>
<circle cx="533.34" cy="519.83" r="0.9" fill="#4b3df2"/>
<circle cx="532.83" cy="521.36" r="0.9" fill="#4b3df2"/>
<circle cx="533.42" cy="523.62" r="0.9" fill="#4b3df2"/>
<line x1="533.15" y1="521.16" x2="533.15" y2="517.68" stroke="#4b3df2" stroke-width="0.7" />
<line x1="532.61" y1="517.68" x2="533.69" y2="517.68" stroke="#4b3df2" stroke-width="0.7" />
<rect x="537.30" y="523.33" width="1.80" height="26.78" fill="#fff" stroke="#f2541f" stroke-width="0.85"/>
<circle cx="538.16" cy="521.50" r="0.9" fill="#f2541f"/>
<circle cx="538.53" cy="524.60" r="0.9" fill="#f2541f"/>
<circle cx="537.91" cy="521.62" r="0.9" fill="#f2541f"/>
<circle cx="538.63" cy="522.76" r="0.9" fill="#f2541f"/>
<circle cx="538.22" cy="520.95" r="0.9" fill="#f2541f"/>
<circle cx="538.30" cy="523.37" r="0.9" fill="#f2541f"/>
<circle cx="537.87" cy="524.60" r="0.9" fill="#f2541f"/>
<line x1="538.20" y1="523.33" x2="538.20" y2="521.41" stroke="#f2541f" stroke-width="0.7" />
<line x1="537.66" y1="521.41" x2="538.74" y2="521.41" stroke="#f2541f" stroke-width="0.7" />
<rect x="542.35" y="522.05" width="1.80" height="28.05" fill="#fff" stroke="#4d92f5" stroke-width="0.85"/>
<circle cx="543.47" cy="524.60" r="0.9" fill="#4d92f5"/>
<circle cx="543.32" cy="523.29" r="0.9" fill="#4d92f5"/>
<circle cx="543.27" cy="522.89" r="0.9" fill="#4d92f5"/>
<circle cx="542.76" cy="524.60" r="0.9" fill="#4d92f5"/>
<circle cx="543.11" cy="516.78" r="0.9" fill="#4d92f5"/>
<circle cx="543.39" cy="524.60" r="0.9" fill="#4d92f5"/>
<circle cx="542.88" cy="518.93" r="0.9" fill="#4d92f5"/>
<line x1="543.25" y1="522.05" x2="543.25" y2="518.74" stroke="#4d92f5" stroke-width="0.7" />
<line x1="542.71" y1="518.74" x2="543.79" y2="518.74" stroke="#4d92f5" stroke-width="0.7" />
<rect x="547.40" y="522.69" width="1.80" height="27.41" fill="#fff" stroke="#e9a35c" stroke-width="0.85"/>
<circle cx="548.13" cy="521.81" r="0.9" fill="#e9a35c"/>
<circle cx="547.78" cy="522.41" r="0.9" fill="#e9a35c"/>
<circle cx="548.83" cy="524.60" r="0.9" fill="#e9a35c"/>
<circle cx="548.29" cy="519.74" r="0.9" fill="#e9a35c"/>
<circle cx="548.04" cy="522.05" r="0.9" fill="#e9a35c"/>
<circle cx="548.22" cy="520.41" r="0.9" fill="#e9a35c"/>
<circle cx="548.59" cy="519.12" r="0.9" fill="#e9a35c"/>
<line x1="548.30" y1="522.69" x2="548.30" y2="520.20" stroke="#e9a35c" stroke-width="0.7" />
<line x1="547.76" y1="520.20" x2="548.84" y2="520.20" stroke="#e9a35c" stroke-width="0.7" />
<rect x="552.45" y="522.05" width="1.80" height="28.05" fill="#fff" stroke="#b6b6fb" stroke-width="0.85"/>
<circle cx="553.85" cy="518.61" r="0.9" fill="#b6b6fb"/>
<circle cx="552.85" cy="524.41" r="0.9" fill="#b6b6fb"/>
<circle cx="553.01" cy="524.60" r="0.9" fill="#b6b6fb"/>
<circle cx="552.87" cy="524.60" r="0.9" fill="#b6b6fb"/>
<circle cx="553.75" cy="521.29" r="0.9" fill="#b6b6fb"/>
<circle cx="553.83" cy="522.31" r="0.9" fill="#b6b6fb"/>
<circle cx="552.88" cy="517.67" r="0.9" fill="#b6b6fb"/>
<line x1="553.35" y1="522.05" x2="553.35" y2="518.74" stroke="#b6b6fb" stroke-width="0.7" />
<line x1="552.81" y1="518.74" x2="553.89" y2="518.74" stroke="#b6b6fb" stroke-width="0.7" />
<rect x="557.50" y="522.69" width="1.80" height="27.41" fill="#fff" stroke="#f3d3aa" stroke-width="0.85"/>
<circle cx="558.29" cy="521.81" r="0.9" fill="#f3d3aa"/>
<circle cx="558.90" cy="524.60" r="0.9" fill="#f3d3aa"/>
<circle cx="558.47" cy="524.43" r="0.9" fill="#f3d3aa"/>
<circle cx="558.89" cy="521.48" r="0.9" fill="#f3d3aa"/>
<circle cx="558.28" cy="521.26" r="0.9" fill="#f3d3aa"/>
<circle cx="558.03" cy="522.96" r="0.9" fill="#f3d3aa"/>
<circle cx="558.93" cy="518.97" r="0.9" fill="#f3d3aa"/>
<line x1="558.40" y1="522.69" x2="558.40" y2="520.20" stroke="#f3d3aa" stroke-width="0.7" />
<line x1="557.86" y1="520.20" x2="558.94" y2="520.20" stroke="#f3d3aa" stroke-width="0.7" />
<path d="M528.50,470.70 V466.50 H533.50 V513.84" fill="none" stroke="#3a3a3a" stroke-width="0.9"/>
<text x="530.62" y="463.40" font-size="5.45" text-anchor="middle" font-weight="normal" fill="#111" letter-spacing="-0.12" stroke="#222" stroke-width="0.12">0.0186</text>
<path d="M528.50,456.60 V453.50 H538.50 V457.10" fill="none" stroke="#3a3a3a" stroke-width="0.9"/>
<text x="533.15" y="449.80" font-size="5.45" text-anchor="middle" font-weight="normal" fill="#111" letter-spacing="-0.12" stroke="#222" stroke-width="0.12">0.0010</text>
<path d="M528.50,442.90 V439.50 H543.50 V443.40" fill="none" stroke="#3a3a3a" stroke-width="0.9"/>
<text x="535.67" y="436.10" font-size="5.45" text-anchor="middle" font-weight="normal" fill="#111" letter-spacing="-0.12" stroke="#222" stroke-width="0.12">0.0019</text>
<path d="M528.50,429.10 V425.50 H548.50 V516.62" fill="none" stroke="#3a3a3a" stroke-width="0.9"/>
<text x="538.20" y="422.30" font-size="5.45" text-anchor="middle" font-weight="normal" fill="#111" letter-spacing="-0.12" stroke="#222" stroke-width="0.12">0.0046</text>
<path d="M528.50,421.10 V411.50 H553.50 V515.17" fill="none" stroke="#3a3a3a" stroke-width="0.9"/>
<text x="540.73" y="408.30" font-size="5.45" text-anchor="middle" font-weight="normal" fill="#111" letter-spacing="-0.12" stroke="#222" stroke-width="0.12">0.0019</text>
<path d="M528.50,407.10 V397.50 H558.50 V456.60" fill="none" stroke="#3a3a3a" stroke-width="0.9"/>
<text x="543.25" y="394.30" font-size="5.45" text-anchor="middle" font-weight="normal" fill="#111" letter-spacing="-0.12" stroke="#222" stroke-width="0.12">0.0034</text>
<line x1="543.25" y1="550.10" x2="543.25" y2="552.10" stroke="#222" stroke-width="0.8" />
<text x="543.25" y="558.00" font-size="4.9" text-anchor="middle" font-weight="bold" fill="#222" >Lung</text>
<rect x="565.90" y="517.33" width="1.80" height="32.77" fill="#fff" stroke="#3a3a3a" stroke-width="0.85"/>
<circle cx="566.30" cy="520.53" r="0.9" fill="#3a3a3a"/>
<circle cx="566.64" cy="520.11" r="0.9" fill="#3a3a3a"/>
<circle cx="567.24" cy="512.23" r="0.9" fill="#3a3a3a"/>
<circle cx="566.31" cy="513.03" r="0.9" fill="#3a3a3a"/>
<circle cx="567.03" cy="513.65" r="0.9" fill="#3a3a3a"/>
<circle cx="567.32" cy="515.35" r="0.9" fill="#3a3a3a"/>
<circle cx="566.42" cy="522.55" r="0.9" fill="#3a3a3a"/>
<line x1="566.80" y1="517.33" x2="566.80" y2="513.40" stroke="#3a3a3a" stroke-width="0.7" />
<line x1="566.26" y1="513.40" x2="567.34" y2="513.40" stroke="#3a3a3a" stroke-width="0.7" />
<rect x="570.95" y="524.60" width="1.80" height="25.50" fill="#fff" stroke="#4b3df2" stroke-width="0.85"/>
<rect x="570.65" y="523.40" width="2.40" height="2.2" fill="#4b3df2"/>
<rect x="576.00" y="524.60" width="1.80" height="25.50" fill="#fff" stroke="#f2541f" stroke-width="0.85"/>
<rect x="575.70" y="523.40" width="2.40" height="2.2" fill="#f2541f"/>
<rect x="581.05" y="524.60" width="1.80" height="25.50" fill="#fff" stroke="#4d92f5" stroke-width="0.85"/>
<rect x="580.75" y="523.40" width="2.40" height="2.2" fill="#4d92f5"/>
<rect x="586.10" y="524.60" width="1.80" height="25.50" fill="#fff" stroke="#e9a35c" stroke-width="0.85"/>
<rect x="585.80" y="523.40" width="2.40" height="2.2" fill="#e9a35c"/>
<circle cx="587.00" cy="522.69" r="0.9" fill="#e9a35c"/>
<rect x="591.15" y="522.05" width="1.80" height="28.05" fill="#fff" stroke="#b6b6fb" stroke-width="0.85"/>
<circle cx="592.33" cy="520.94" r="0.9" fill="#b6b6fb"/>
<circle cx="591.86" cy="524.60" r="0.9" fill="#b6b6fb"/>
<circle cx="591.64" cy="524.38" r="0.9" fill="#b6b6fb"/>
<circle cx="591.69" cy="522.08" r="0.9" fill="#b6b6fb"/>
<circle cx="591.66" cy="524.57" r="0.9" fill="#b6b6fb"/>
<circle cx="591.52" cy="520.06" r="0.9" fill="#b6b6fb"/>
<circle cx="591.72" cy="519.65" r="0.9" fill="#b6b6fb"/>
<line x1="592.05" y1="522.05" x2="592.05" y2="518.74" stroke="#b6b6fb" stroke-width="0.7" />
<line x1="591.51" y1="518.74" x2="592.59" y2="518.74" stroke="#b6b6fb" stroke-width="0.7" />
<rect x="596.20" y="523.33" width="1.80" height="26.78" fill="#fff" stroke="#f3d3aa" stroke-width="0.85"/>
<circle cx="597.56" cy="524.60" r="0.9" fill="#f3d3aa"/>
<circle cx="597.57" cy="524.60" r="0.9" fill="#f3d3aa"/>
<circle cx="597.52" cy="521.05" r="0.9" fill="#f3d3aa"/>
<circle cx="597.04" cy="524.60" r="0.9" fill="#f3d3aa"/>
<circle cx="597.56" cy="524.60" r="0.9" fill="#f3d3aa"/>
<circle cx="597.24" cy="521.20" r="0.9" fill="#f3d3aa"/>
<circle cx="596.93" cy="523.51" r="0.9" fill="#f3d3aa"/>
<line x1="597.10" y1="523.33" x2="597.10" y2="521.41" stroke="#f3d3aa" stroke-width="0.7" />
<line x1="596.56" y1="521.41" x2="597.64" y2="521.41" stroke="#f3d3aa" stroke-width="0.7" />
<path d="M566.50,470.70 V466.50 H571.50 V521.08" fill="none" stroke="#3a3a3a" stroke-width="0.9"/>
<text x="569.32" y="463.40" font-size="5.45" text-anchor="middle" font-weight="normal" fill="#111" letter-spacing="-0.12" stroke="#222" stroke-width="0.12">0.0003</text>
<path d="M566.50,456.60 V453.50 H576.50 V457.10" fill="none" stroke="#3a3a3a" stroke-width="0.9"/>
<text x="571.85" y="449.80" font-size="5.45" text-anchor="middle" font-weight="normal" fill="#111" letter-spacing="-0.12" stroke="#222" stroke-width="0.12">0.0003</text>
<path d="M566.50,442.90 V439.50 H581.50 V443.40" fill="none" stroke="#3a3a3a" stroke-width="0.9"/>
<text x="574.38" y="436.10" font-size="5.45" text-anchor="middle" font-weight="normal" fill="#111" letter-spacing="-0.12" stroke="#222" stroke-width="0.12">0.0003</text>
<path d="M566.50,429.10 V425.50 H586.50 V520.19" fill="none" stroke="#3a3a3a" stroke-width="0.9"/>
<text x="576.90" y="422.30" font-size="5.45" text-anchor="middle" font-weight="normal" fill="#111" letter-spacing="-0.12" stroke="#222" stroke-width="0.12">0.0003</text>
<path d="M566.50,421.10 V411.50 H592.50 V516.24" fill="none" stroke="#3a3a3a" stroke-width="0.9"/>
<text x="579.42" y="408.30" font-size="5.45" text-anchor="middle" font-weight="normal" fill="#111" letter-spacing="-0.12" stroke="#222" stroke-width="0.12">0.0681</text>
<path d="M566.50,407.10 V397.50 H597.50 V456.60" fill="none" stroke="#3a3a3a" stroke-width="0.9"/>
<text x="581.95" y="394.30" font-size="5.45" text-anchor="middle" font-weight="normal" fill="#111" letter-spacing="-0.12" stroke="#222" stroke-width="0.12">0.0122</text>
<line x1="581.95" y1="550.10" x2="581.95" y2="552.10" stroke="#222" stroke-width="0.8" />
<text x="581.95" y="558.00" font-size="4.9" text-anchor="middle" font-weight="bold" fill="#222" >Liver</text>
<rect x="604.60" y="520.77" width="1.80" height="29.32" fill="#fff" stroke="#3a3a3a" stroke-width="0.85"/>
<circle cx="605.48" cy="517.07" r="0.9" fill="#3a3a3a"/>
<circle cx="605.11" cy="519.20" r="0.9" fill="#3a3a3a"/>
<circle cx="605.02" cy="523.64" r="0.9" fill="#3a3a3a"/>
<circle cx="605.56" cy="518.27" r="0.9" fill="#3a3a3a"/>
<circle cx="605.90" cy="524.47" r="0.9" fill="#3a3a3a"/>
<circle cx="605.40" cy="523.15" r="0.9" fill="#3a3a3a"/>
<circle cx="605.25" cy="524.36" r="0.9" fill="#3a3a3a"/>
<line x1="605.50" y1="520.77" x2="605.50" y2="517.26" stroke="#3a3a3a" stroke-width="0.7" />
<line x1="604.96" y1="517.26" x2="606.04" y2="517.26" stroke="#3a3a3a" stroke-width="0.7" />
<rect x="609.65" y="524.60" width="1.80" height="25.50" fill="#fff" stroke="#4b3df2" stroke-width="0.85"/>
<rect x="609.35" y="523.40" width="2.40" height="2.2" fill="#4b3df2"/>
<rect x="614.70" y="524.60" width="1.80" height="25.50" fill="#fff" stroke="#f2541f" stroke-width="0.85"/>
<rect x="614.40" y="523.40" width="2.40" height="2.2" fill="#f2541f"/>
<circle cx="615.60" cy="522.69" r="0.9" fill="#f2541f"/>
<rect x="619.75" y="524.60" width="1.80" height="25.50" fill="#fff" stroke="#4d92f5" stroke-width="0.85"/>
<rect x="619.45" y="523.40" width="2.40" height="2.2" fill="#4d92f5"/>
<circle cx="620.65" cy="522.69" r="0.9" fill="#4d92f5"/>
<rect x="624.80" y="524.60" width="1.80" height="25.50" fill="#fff" stroke="#e9a35c" stroke-width="0.85"/>
<rect x="624.50" y="523.40" width="2.40" height="2.2" fill="#e9a35c"/>
<circle cx="625.70" cy="522.69" r="0.9" fill="#e9a35c"/>
<rect x="629.85" y="522.05" width="1.80" height="28.05" fill="#fff" stroke="#b6b6fb" stroke-width="0.85"/>
<circle cx="631.19" cy="523.75" r="0.9" fill="#b6b6fb"/>
<circle cx="631.27" cy="524.60" r="0.9" fill="#b6b6fb"/>
<circle cx="631.18" cy="524.60" r="0.9" fill="#b6b6fb"/>
<circle cx="630.44" cy="520.15" r="0.9" fill="#b6b6fb"/>
<circle cx="630.52" cy="522.12" r="0.9" fill="#b6b6fb"/>
<circle cx="630.43" cy="524.37" r="0.9" fill="#b6b6fb"/>
<circle cx="631.28" cy="523.28" r="0.9" fill="#b6b6fb"/>
<line x1="630.75" y1="522.05" x2="630.75" y2="518.74" stroke="#b6b6fb" stroke-width="0.7" />
<line x1="630.21" y1="518.74" x2="631.29" y2="518.74" stroke="#b6b6fb" stroke-width="0.7" />
<rect x="634.90" y="523.33" width="1.80" height="26.78" fill="#fff" stroke="#f3d3aa" stroke-width="0.85"/>
<circle cx="636.26" cy="520.28" r="0.9" fill="#f3d3aa"/>
<circle cx="635.57" cy="524.60" r="0.9" fill="#f3d3aa"/>
<circle cx="635.32" cy="520.88" r="0.9" fill="#f3d3aa"/>
<circle cx="635.58" cy="521.89" r="0.9" fill="#f3d3aa"/>
<circle cx="635.28" cy="520.39" r="0.9" fill="#f3d3aa"/>
<circle cx="635.63" cy="521.41" r="0.9" fill="#f3d3aa"/>
<circle cx="635.26" cy="524.60" r="0.9" fill="#f3d3aa"/>
<line x1="635.80" y1="523.33" x2="635.80" y2="521.41" stroke="#f3d3aa" stroke-width="0.7" />
<line x1="635.26" y1="521.41" x2="636.34" y2="521.41" stroke="#f3d3aa" stroke-width="0.7" />
<path d="M605.50,470.70 V466.50 H610.50 V521.08" fill="none" stroke="#3a3a3a" stroke-width="0.9"/>
<text x="608.02" y="463.40" font-size="5.45" text-anchor="middle" font-weight="normal" fill="#111" letter-spacing="-0.12" stroke="#222" stroke-width="0.12">0.1850</text>
<path d="M605.50,456.60 V453.50 H615.50 V457.10" fill="none" stroke="#3a3a3a" stroke-width="0.9"/>
<text x="610.55" y="449.80" font-size="5.45" text-anchor="middle" font-weight="normal" fill="#111" letter-spacing="-0.12" stroke="#222" stroke-width="0.12">0.1850</text>
<path d="M605.50,442.90 V439.50 H620.50 V443.40" fill="none" stroke="#3a3a3a" stroke-width="0.9"/>
<text x="613.08" y="436.10" font-size="5.45" text-anchor="middle" font-weight="normal" fill="#111" letter-spacing="-0.12" stroke="#222" stroke-width="0.12">0.1850</text>
<path d="M605.50,429.10 V425.50 H625.50 V520.19" fill="none" stroke="#3a3a3a" stroke-width="0.9"/>
<text x="615.60" y="422.30" font-size="5.45" text-anchor="middle" font-weight="normal" fill="#111" letter-spacing="-0.12" stroke="#222" stroke-width="0.12">0.1850</text>
<path d="M605.50,421.10 V411.50 H630.50 V516.24" fill="none" stroke="#3a3a3a" stroke-width="0.9"/>
<text x="618.12" y="408.30" font-size="5.45" text-anchor="middle" font-weight="normal" fill="#111" letter-spacing="-0.12" stroke="#222" stroke-width="0.12">0.6611</text>
<path d="M605.50,407.10 V397.50 H635.50 V456.60" fill="none" stroke="#3a3a3a" stroke-width="0.9"/>
<text x="620.65" y="394.30" font-size="5.45" text-anchor="middle" font-weight="normal" fill="#111" letter-spacing="-0.12" stroke="#222" stroke-width="0.12">0.7856</text>
<line x1="620.65" y1="550.10" x2="620.65" y2="552.10" stroke="#222" stroke-width="0.8" />
<text x="620.65" y="558.00" font-size="4.9" text-anchor="middle" font-weight="bold" fill="#222" >Spleen</text>
<rect x="643.30" y="520.77" width="1.80" height="29.32" fill="#fff" stroke="#3a3a3a" stroke-width="0.85"/>
<circle cx="644.23" cy="516.97" r="0.9" fill="#3a3a3a"/>
<circle cx="644.13" cy="524.03" r="0.9" fill="#3a3a3a"/>
<circle cx="643.90" cy="516.10" r="0.9" fill="#3a3a3a"/>
<circle cx="643.81" cy="519.82" r="0.9" fill="#3a3a3a"/>
<circle cx="644.49" cy="524.09" r="0.9" fill="#3a3a3a"/>
<circle cx="643.87" cy="518.29" r="0.9" fill="#3a3a3a"/>
<circle cx="643.75" cy="524.60" r="0.9" fill="#3a3a3a"/>
<line x1="644.20" y1="520.77" x2="644.20" y2="517.26" stroke="#3a3a3a" stroke-width="0.7" />
<line x1="643.66" y1="517.26" x2="644.74" y2="517.26" stroke="#3a3a3a" stroke-width="0.7" />
<rect x="648.35" y="524.60" width="1.80" height="25.50" fill="#fff" stroke="#4b3df2" stroke-width="0.85"/>
<rect x="648.05" y="523.40" width="2.40" height="2.2" fill="#4b3df2"/>
<rect x="653.40" y="524.60" width="1.80" height="25.50" fill="#fff" stroke="#f2541f" stroke-width="0.85"/>
<rect x="653.10" y="523.40" width="2.40" height="2.2" fill="#f2541f"/>
<circle cx="654.30" cy="522.69" r="0.9" fill="#f2541f"/>
<rect x="658.45" y="524.60" width="1.80" height="25.50" fill="#fff" stroke="#4d92f5" stroke-width="0.85"/>
<rect x="658.15" y="523.40" width="2.40" height="2.2" fill="#4d92f5"/>
<circle cx="659.35" cy="522.69" r="0.9" fill="#4d92f5"/>
<rect x="663.50" y="524.60" width="1.80" height="25.50" fill="#fff" stroke="#e9a35c" stroke-width="0.85"/>
<rect x="663.20" y="523.40" width="2.40" height="2.2" fill="#e9a35c"/>
<circle cx="664.40" cy="522.69" r="0.9" fill="#e9a35c"/>
<rect x="668.55" y="523.33" width="1.80" height="26.78" fill="#fff" stroke="#b6b6fb" stroke-width="0.85"/>
<circle cx="669.67" cy="522.56" r="0.9" fill="#b6b6fb"/>
<circle cx="669.54" cy="521.38" r="0.9" fill="#b6b6fb"/>
<circle cx="668.98" cy="524.60" r="0.9" fill="#b6b6fb"/>
<circle cx="669.35" cy="521.85" r="0.9" fill="#b6b6fb"/>
<circle cx="668.97" cy="521.92" r="0.9" fill="#b6b6fb"/>
<circle cx="669.27" cy="521.39" r="0.9" fill="#b6b6fb"/>
<circle cx="669.84" cy="521.20" r="0.9" fill="#b6b6fb"/>
<line x1="669.45" y1="523.33" x2="669.45" y2="521.41" stroke="#b6b6fb" stroke-width="0.7" />
<line x1="668.91" y1="521.41" x2="669.99" y2="521.41" stroke="#b6b6fb" stroke-width="0.7" />
<rect x="673.60" y="523.33" width="1.80" height="26.78" fill="#fff" stroke="#f3d3aa" stroke-width="0.85"/>
<circle cx="673.98" cy="523.27" r="0.9" fill="#f3d3aa"/>
<circle cx="674.47" cy="520.80" r="0.9" fill="#f3d3aa"/>
<circle cx="674.25" cy="521.02" r="0.9" fill="#f3d3aa"/>
<circle cx="674.86" cy="524.60" r="0.9" fill="#f3d3aa"/>
<circle cx="674.14" cy="524.02" r="0.9" fill="#f3d3aa"/>
<circle cx="674.60" cy="523.99" r="0.9" fill="#f3d3aa"/>
<circle cx="674.52" cy="524.60" r="0.9" fill="#f3d3aa"/>
<line x1="674.50" y1="523.33" x2="674.50" y2="521.41" stroke="#f3d3aa" stroke-width="0.7" />
<line x1="673.96" y1="521.41" x2="675.04" y2="521.41" stroke="#f3d3aa" stroke-width="0.7" />
<path d="M644.50,470.70 V466.50 H649.50 V521.08" fill="none" stroke="#3a3a3a" stroke-width="0.9"/>
<text x="646.73" y="463.40" font-size="5.45" text-anchor="middle" font-weight="normal" fill="#111" letter-spacing="-0.12" stroke="#222" stroke-width="0.12">0.1850</text>
<path d="M644.50,456.60 V453.50 H654.50 V457.10" fill="none" stroke="#3a3a3a" stroke-width="0.9"/>
<text x="649.25" y="449.80" font-size="5.45" text-anchor="middle" font-weight="normal" fill="#111" letter-spacing="-0.12" stroke="#222" stroke-width="0.12">0.1850</text>
<path d="M644.50,442.90 V439.50 H659.50 V443.40" fill="none" stroke="#3a3a3a" stroke-width="0.9"/>
<text x="651.78" y="436.10" font-size="5.45" text-anchor="middle" font-weight="normal" fill="#111" letter-spacing="-0.12" stroke="#222" stroke-width="0.12">0.1850</text>
<path d="M644.50,429.10 V425.50 H664.50 V520.19" fill="none" stroke="#3a3a3a" stroke-width="0.9"/>
<text x="654.30" y="422.30" font-size="5.45" text-anchor="middle" font-weight="normal" fill="#111" letter-spacing="-0.12" stroke="#222" stroke-width="0.12">0.1850</text>
<path d="M644.50,421.10 V411.50 H669.50 V518.70" fill="none" stroke="#3a3a3a" stroke-width="0.9"/>
<text x="656.83" y="408.30" font-size="5.45" text-anchor="middle" font-weight="normal" fill="#111" letter-spacing="-0.12" stroke="#222" stroke-width="0.12">0.3562</text>
<path d="M644.50,407.10 V397.50 H674.50 V518.30" fill="none" stroke="#3a3a3a" stroke-width="0.9"/>
<text x="659.35" y="394.30" font-size="5.45" text-anchor="middle" font-weight="normal" fill="#111" letter-spacing="-0.12" stroke="#222" stroke-width="0.12">0.4697</text>
<line x1="659.35" y1="550.10" x2="659.35" y2="552.10" stroke="#222" stroke-width="0.8" />
<text x="659.35" y="558.00" font-size="4.9" text-anchor="middle" font-weight="bold" fill="#222" >Popliteal lymph node</text>
<line x1="486.30" y1="473.60" x2="486.30" y2="550.60" stroke="#111" stroke-width="1.1" />
<line x1="485.80" y1="550.10" x2="678.00" y2="550.10" stroke="#111" stroke-width="1.1" />
<line x1="483.80" y1="550.10" x2="486.30" y2="550.10" stroke="#111" stroke-width="0.9" />
<text x="483.10" y="553.00" font-size="5" text-anchor="end" font-weight="bold" fill="#222" >0</text>
<line x1="483.80" y1="524.60" x2="486.30" y2="524.60" stroke="#111" stroke-width="0.9" />
<text x="483.10" y="527.50" font-size="5" text-anchor="end" font-weight="bold" fill="#222" >2</text>
<line x1="483.80" y1="499.10" x2="486.30" y2="499.10" stroke="#111" stroke-width="0.9" />
<text x="483.10" y="502.00" font-size="5" text-anchor="end" font-weight="bold" fill="#222" >4</text>
<line x1="483.80" y1="473.60" x2="486.30" y2="473.60" stroke="#111" stroke-width="0.9" />
<text x="483.10" y="476.50" font-size="5" text-anchor="end" font-weight="bold" fill="#222" >6</text>
<text x="581.00" y="567.50" font-size="6.3" text-anchor="middle" font-weight="bold" fill="#111" >Subcutaneous</text>
<text transform="translate(475.50,512.50) rotate(-90)" font-size="5.3" text-anchor="middle" font-weight="bold" fill="#222">TCID<tspan font-size="4" dy="1">50</tspan><tspan dy="-1">/mL  (Log</tspan><tspan font-size="4" dy="1">10</tspan><tspan dy="-1">)</tspan></text>
<line x1="22.50" y1="728.29" x2="211.50" y2="728.29" stroke="#999" stroke-width="0.8" stroke-dasharray="1.2,1.4"/>
<rect x="25.90" y="706.43" width="4.20" height="22.77" fill="#fff" stroke="#3a3a3a" stroke-width="1.2"/>
<circle cx="28.04" cy="707.24" r="1.12" fill="#3a3a3a"/>
<circle cx="28.54" cy="714.12" r="1.12" fill="#3a3a3a"/>
<circle cx="28.92" cy="699.39" r="1.12" fill="#3a3a3a"/>
<circle cx="28.53" cy="709.88" r="1.12" fill="#3a3a3a"/>
<circle cx="28.63" cy="708.60" r="1.12" fill="#3a3a3a"/>
<circle cx="28.94" cy="715.38" r="1.12" fill="#3a3a3a"/>
<circle cx="27.99" cy="696.47" r="1.12" fill="#3a3a3a"/>
<line x1="28.00" y1="706.43" x2="28.00" y2="699.60" stroke="#3a3a3a" stroke-width="0.7" />
<line x1="26.74" y1="699.60" x2="29.26" y2="699.60" stroke="#3a3a3a" stroke-width="0.7" />
<rect x="34.35" y="717.06" width="4.20" height="12.14" fill="#fff" stroke="#4b3df2" stroke-width="1.2"/>
<circle cx="36.53" cy="716.72" r="1.12" fill="#4b3df2"/>
<circle cx="35.24" cy="716.45" r="1.12" fill="#4b3df2"/>
<circle cx="35.75" cy="711.59" r="1.12" fill="#4b3df2"/>
<circle cx="35.45" cy="720.46" r="1.12" fill="#4b3df2"/>
<circle cx="37.25" cy="719.69" r="1.12" fill="#4b3df2"/>
<circle cx="35.43" cy="722.18" r="1.12" fill="#4b3df2"/>
<circle cx="35.68" cy="714.63" r="1.12" fill="#4b3df2"/>
<line x1="36.45" y1="717.06" x2="36.45" y2="713.41" stroke="#4b3df2" stroke-width="0.7" />
<line x1="35.19" y1="713.41" x2="37.71" y2="713.41" stroke="#4b3df2" stroke-width="0.7" />
<rect x="42.80" y="720.85" width="4.20" height="8.35" fill="#fff" stroke="#f2541f" stroke-width="1.2"/>
<circle cx="45.15" cy="724.47" r="1.12" fill="#f2541f"/>
<circle cx="44.96" cy="720.13" r="1.12" fill="#f2541f"/>
<circle cx="43.90" cy="719.15" r="1.12" fill="#f2541f"/>
<circle cx="45.45" cy="717.86" r="1.12" fill="#f2541f"/>
<circle cx="43.95" cy="724.26" r="1.12" fill="#f2541f"/>
<circle cx="44.90" cy="720.78" r="1.12" fill="#f2541f"/>
<circle cx="43.95" cy="722.44" r="1.12" fill="#f2541f"/>
<line x1="44.90" y1="720.85" x2="44.90" y2="718.35" stroke="#f2541f" stroke-width="0.7" />
<line x1="43.64" y1="718.35" x2="46.16" y2="718.35" stroke="#f2541f" stroke-width="0.7" />
<rect x="51.25" y="713.26" width="4.20" height="15.94" fill="#fff" stroke="#4d92f5" stroke-width="1.2"/>
<circle cx="52.44" cy="714.42" r="1.12" fill="#4d92f5"/>
<circle cx="54.26" cy="711.66" r="1.12" fill="#4d92f5"/>
<circle cx="53.53" cy="718.25" r="1.12" fill="#4d92f5"/>
<circle cx="52.50" cy="709.37" r="1.12" fill="#4d92f5"/>
<circle cx="54.45" cy="708.19" r="1.12" fill="#4d92f5"/>
<circle cx="53.15" cy="714.67" r="1.12" fill="#4d92f5"/>
<circle cx="53.41" cy="707.99" r="1.12" fill="#4d92f5"/>
<line x1="53.35" y1="713.26" x2="53.35" y2="708.48" stroke="#4d92f5" stroke-width="0.7" />
<line x1="52.09" y1="708.48" x2="54.61" y2="708.48" stroke="#4d92f5" stroke-width="0.7" />
<rect x="59.70" y="716.30" width="4.20" height="12.90" fill="#fff" stroke="#e9a35c" stroke-width="1.2"/>
<circle cx="62.91" cy="717.36" r="1.12" fill="#e9a35c"/>
<circle cx="61.39" cy="712.78" r="1.12" fill="#e9a35c"/>
<circle cx="61.38" cy="719.22" r="1.12" fill="#e9a35c"/>
<circle cx="63.01" cy="716.88" r="1.12" fill="#e9a35c"/>
<circle cx="62.84" cy="712.45" r="1.12" fill="#e9a35c"/>
<circle cx="62.68" cy="712.32" r="1.12" fill="#e9a35c"/>
<circle cx="61.84" cy="721.46" r="1.12" fill="#e9a35c"/>
<line x1="61.80" y1="716.30" x2="61.80" y2="712.43" stroke="#e9a35c" stroke-width="0.7" />
<line x1="60.54" y1="712.43" x2="63.06" y2="712.43" stroke="#e9a35c" stroke-width="0.7" />
<rect x="68.15" y="707.19" width="4.20" height="22.01" fill="#fff" stroke="#b6b6fb" stroke-width="1.2"/>
<circle cx="71.34" cy="697.49" r="1.12" fill="#b6b6fb"/>
<circle cx="70.05" cy="711.99" r="1.12" fill="#b6b6fb"/>
<circle cx="69.91" cy="704.14" r="1.12" fill="#b6b6fb"/>
<circle cx="69.16" cy="706.23" r="1.12" fill="#b6b6fb"/>
<circle cx="70.26" cy="708.23" r="1.12" fill="#b6b6fb"/>
<circle cx="69.34" cy="716.67" r="1.12" fill="#b6b6fb"/>
<circle cx="70.95" cy="697.24" r="1.12" fill="#b6b6fb"/>
<line x1="70.25" y1="707.19" x2="70.25" y2="700.59" stroke="#b6b6fb" stroke-width="0.7" />
<line x1="68.99" y1="700.59" x2="71.51" y2="700.59" stroke="#b6b6fb" stroke-width="0.7" />
<rect x="76.60" y="703.39" width="4.20" height="25.81" fill="#fff" stroke="#f3d3aa" stroke-width="1.2"/>
<circle cx="79.04" cy="692.52" r="1.12" fill="#f3d3aa"/>
<circle cx="79.67" cy="695.58" r="1.12" fill="#f3d3aa"/>
<circle cx="77.53" cy="693.78" r="1.12" fill="#f3d3aa"/>
<circle cx="78.11" cy="699.61" r="1.12" fill="#f3d3aa"/>
<circle cx="78.13" cy="698.72" r="1.12" fill="#f3d3aa"/>
<circle cx="79.77" cy="701.99" r="1.12" fill="#f3d3aa"/>
<circle cx="78.07" cy="700.10" r="1.12" fill="#f3d3aa"/>
<line x1="78.70" y1="703.39" x2="78.70" y2="695.65" stroke="#f3d3aa" stroke-width="0.7" />
<line x1="77.44" y1="695.65" x2="79.96" y2="695.65" stroke="#f3d3aa" stroke-width="0.7" />
<path d="M27.50,666.10 V662.50 H36.50 V709.09" fill="none" stroke="#3a3a3a" stroke-width="0.9"/>
<text x="32.23" y="658.80" font-size="5.45" text-anchor="middle" font-weight="normal" fill="#111" letter-spacing="-0.12" stroke="#222" stroke-width="0.12">0.0109</text>
<path d="M27.50,651.80 V648.50 H44.50 V715.36" fill="none" stroke="#3a3a3a" stroke-width="0.9"/>
<text x="36.45" y="645.00" font-size="5.45" text-anchor="middle" font-weight="normal" fill="#111" letter-spacing="-0.12" stroke="#222" stroke-width="0.12">0.0002</text>
<path d="M27.50,637.90 V634.50 H53.50 V705.49" fill="none" stroke="#3a3a3a" stroke-width="0.9"/>
<text x="40.67" y="631.10" font-size="5.45" text-anchor="middle" font-weight="normal" fill="#111" letter-spacing="-0.12" stroke="#222" stroke-width="0.12">0.1629</text>
<path d="M27.50,630.20 V620.50 H61.50 V709.82" fill="none" stroke="#3a3a3a" stroke-width="0.9"/>
<text x="44.90" y="617.40" font-size="5.45" text-anchor="middle" font-weight="normal" fill="#111" letter-spacing="-0.12" stroke="#222" stroke-width="0.12">0.0223</text>
<path d="M27.50,616.10 V606.50 H70.50 V694.74" fill="none" stroke="#3a3a3a" stroke-width="0.9"/>
<text x="49.12" y="603.30" font-size="5.45" text-anchor="middle" font-weight="normal" fill="#111" letter-spacing="-0.12" stroke="#222" stroke-width="0.12">0.9982</text>
<path d="M27.50,602.10 V592.50 H78.50 V690.02" fill="none" stroke="#3a3a3a" stroke-width="0.9"/>
<text x="53.35" y="589.30" font-size="5.45" text-anchor="middle" font-weight="normal" fill="#111" letter-spacing="-0.12" stroke="#222" stroke-width="0.12">0.9744</text>
<line x1="53.35" y1="729.20" x2="53.35" y2="731.20" stroke="#222" stroke-width="0.8" />
<text x="53.35" y="737.80" font-size="5.0" text-anchor="middle" font-weight="bold" fill="#222" >Lung</text>
<text x="53.35" y="743.80" font-size="5.45" text-anchor="middle" font-weight="bold" fill="#222" >Intranasal</text>
<rect x="90.70" y="698.08" width="4.20" height="31.12" fill="#fff" stroke="#3a3a3a" stroke-width="1.2"/>
<circle cx="92.63" cy="697.03" r="1.12" fill="#3a3a3a"/>
<circle cx="92.26" cy="684.57" r="1.12" fill="#3a3a3a"/>
<circle cx="93.17" cy="703.25" r="1.12" fill="#3a3a3a"/>
<circle cx="93.04" cy="708.60" r="1.12" fill="#3a3a3a"/>
<circle cx="92.83" cy="684.41" r="1.12" fill="#3a3a3a"/>
<circle cx="92.72" cy="704.32" r="1.12" fill="#3a3a3a"/>
<circle cx="91.91" cy="696.64" r="1.12" fill="#3a3a3a"/>
<line x1="92.80" y1="698.08" x2="92.80" y2="688.75" stroke="#3a3a3a" stroke-width="0.7" />
<line x1="91.54" y1="688.75" x2="94.06" y2="688.75" stroke="#3a3a3a" stroke-width="0.7" />
<rect x="99.15" y="714.78" width="4.20" height="14.42" fill="#fff" stroke="#4b3df2" stroke-width="1.2"/>
<circle cx="100.32" cy="719.61" r="1.12" fill="#4b3df2"/>
<circle cx="101.01" cy="717.33" r="1.12" fill="#4b3df2"/>
<circle cx="100.60" cy="717.40" r="1.12" fill="#4b3df2"/>
<circle cx="101.37" cy="720.09" r="1.12" fill="#4b3df2"/>
<circle cx="101.53" cy="710.01" r="1.12" fill="#4b3df2"/>
<circle cx="101.63" cy="713.62" r="1.12" fill="#4b3df2"/>
<circle cx="101.78" cy="718.57" r="1.12" fill="#4b3df2"/>
<line x1="101.25" y1="714.78" x2="101.25" y2="710.45" stroke="#4b3df2" stroke-width="0.7" />
<line x1="99.99" y1="710.45" x2="102.51" y2="710.45" stroke="#4b3df2" stroke-width="0.7" />
<rect x="107.60" y="714.02" width="4.20" height="15.18" fill="#fff" stroke="#f2541f" stroke-width="1.2"/>
<circle cx="109.82" cy="714.34" r="1.12" fill="#f2541f"/>
<circle cx="109.62" cy="712.20" r="1.12" fill="#f2541f"/>
<circle cx="109.05" cy="716.47" r="1.12" fill="#f2541f"/>
<circle cx="109.73" cy="717.72" r="1.12" fill="#f2541f"/>
<circle cx="109.92" cy="715.44" r="1.12" fill="#f2541f"/>
<circle cx="109.33" cy="720.68" r="1.12" fill="#f2541f"/>
<circle cx="109.04" cy="708.68" r="1.12" fill="#f2541f"/>
<line x1="109.70" y1="714.02" x2="109.70" y2="709.47" stroke="#f2541f" stroke-width="0.7" />
<line x1="108.44" y1="709.47" x2="110.96" y2="709.47" stroke="#f2541f" stroke-width="0.7" />
<rect x="116.05" y="710.98" width="4.20" height="18.22" fill="#fff" stroke="#4d92f5" stroke-width="1.2"/>
<circle cx="118.13" cy="709.75" r="1.12" fill="#4d92f5"/>
<circle cx="119.38" cy="714.36" r="1.12" fill="#4d92f5"/>
<circle cx="118.84" cy="714.18" r="1.12" fill="#4d92f5"/>
<circle cx="117.06" cy="716.49" r="1.12" fill="#4d92f5"/>
<circle cx="118.00" cy="704.42" r="1.12" fill="#4d92f5"/>
<circle cx="117.87" cy="718.13" r="1.12" fill="#4d92f5"/>
<circle cx="118.74" cy="711.73" r="1.12" fill="#4d92f5"/>
<line x1="118.15" y1="710.98" x2="118.15" y2="705.52" stroke="#4d92f5" stroke-width="0.7" />
<line x1="116.89" y1="705.52" x2="119.41" y2="705.52" stroke="#4d92f5" stroke-width="0.7" />
<rect x="124.50" y="710.98" width="4.20" height="18.22" fill="#fff" stroke="#e9a35c" stroke-width="1.2"/>
<circle cx="125.91" cy="717.33" r="1.12" fill="#e9a35c"/>
<circle cx="127.20" cy="702.93" r="1.12" fill="#e9a35c"/>
<circle cx="126.19" cy="716.56" r="1.12" fill="#e9a35c"/>
<circle cx="127.04" cy="713.21" r="1.12" fill="#e9a35c"/>
<circle cx="127.48" cy="708.74" r="1.12" fill="#e9a35c"/>
<circle cx="126.64" cy="705.27" r="1.12" fill="#e9a35c"/>
<circle cx="127.21" cy="706.67" r="1.12" fill="#e9a35c"/>
<line x1="126.60" y1="710.98" x2="126.60" y2="705.52" stroke="#e9a35c" stroke-width="0.7" />
<line x1="125.34" y1="705.52" x2="127.86" y2="705.52" stroke="#e9a35c" stroke-width="0.7" />
<rect x="132.95" y="701.12" width="4.20" height="28.08" fill="#fff" stroke="#b6b6fb" stroke-width="1.2"/>
<circle cx="134.99" cy="693.91" r="1.12" fill="#b6b6fb"/>
<circle cx="135.58" cy="693.25" r="1.12" fill="#b6b6fb"/>
<circle cx="134.11" cy="689.86" r="1.12" fill="#b6b6fb"/>
<circle cx="133.80" cy="691.01" r="1.12" fill="#b6b6fb"/>
<circle cx="135.27" cy="693.76" r="1.12" fill="#b6b6fb"/>
<circle cx="136.22" cy="700.75" r="1.12" fill="#b6b6fb"/>
<circle cx="134.84" cy="698.82" r="1.12" fill="#b6b6fb"/>
<line x1="135.05" y1="701.12" x2="135.05" y2="692.69" stroke="#b6b6fb" stroke-width="0.7" />
<line x1="133.79" y1="692.69" x2="136.31" y2="692.69" stroke="#b6b6fb" stroke-width="0.7" />
<rect x="141.40" y="701.12" width="4.20" height="28.08" fill="#fff" stroke="#f3d3aa" stroke-width="1.2"/>
<circle cx="144.44" cy="693.29" r="1.12" fill="#f3d3aa"/>
<circle cx="143.20" cy="697.89" r="1.12" fill="#f3d3aa"/>
<circle cx="143.39" cy="701.94" r="1.12" fill="#f3d3aa"/>
<circle cx="142.98" cy="694.87" r="1.12" fill="#f3d3aa"/>
<circle cx="143.64" cy="703.55" r="1.12" fill="#f3d3aa"/>
<circle cx="143.05" cy="703.71" r="1.12" fill="#f3d3aa"/>
<circle cx="144.38" cy="693.20" r="1.12" fill="#f3d3aa"/>
<line x1="143.50" y1="701.12" x2="143.50" y2="692.69" stroke="#f3d3aa" stroke-width="0.7" />
<line x1="142.24" y1="692.69" x2="144.76" y2="692.69" stroke="#f3d3aa" stroke-width="0.7" />
<path d="M92.50,666.10 V662.50 H101.50 V707.51" fill="none" stroke="#3a3a3a" stroke-width="0.9"/>
<text x="97.03" y="658.80" font-size="5.45" text-anchor="middle" font-weight="normal" fill="#111" letter-spacing="-0.12" stroke="#222" stroke-width="0.12">&lt;0.0001</text>
<path d="M92.50,651.80 V648.50 H109.50 V652.30" fill="none" stroke="#3a3a3a" stroke-width="0.9"/>
<text x="101.25" y="645.00" font-size="5.45" text-anchor="middle" font-weight="normal" fill="#111" letter-spacing="-0.12" stroke="#222" stroke-width="0.12">&lt;0.0001</text>
<path d="M92.50,637.90 V634.50 H118.50 V701.92" fill="none" stroke="#3a3a3a" stroke-width="0.9"/>
<text x="105.47" y="631.10" font-size="5.45" text-anchor="middle" font-weight="normal" fill="#111" letter-spacing="-0.12" stroke="#222" stroke-width="0.12">0.0012</text>
<path d="M92.50,630.20 V620.50 H126.50 V700.43" fill="none" stroke="#3a3a3a" stroke-width="0.9"/>
<text x="109.70" y="617.40" font-size="5.45" text-anchor="middle" font-weight="normal" fill="#111" letter-spacing="-0.12" stroke="#222" stroke-width="0.12">0.0033</text>
<path d="M92.50,616.10 V606.50 H135.50 V687.36" fill="none" stroke="#3a3a3a" stroke-width="0.9"/>
<text x="113.93" y="603.30" font-size="5.45" text-anchor="middle" font-weight="normal" fill="#111" letter-spacing="-0.12" stroke="#222" stroke-width="0.12">0.6932</text>
<path d="M92.50,602.10 V592.50 H143.50 V690.19" fill="none" stroke="#3a3a3a" stroke-width="0.9"/>
<text x="118.15" y="589.30" font-size="5.45" text-anchor="middle" font-weight="normal" fill="#111" letter-spacing="-0.12" stroke="#222" stroke-width="0.12">0.6294</text>
<line x1="118.15" y1="729.20" x2="118.15" y2="731.20" stroke="#222" stroke-width="0.8" />
<text x="118.15" y="737.80" font-size="5.0" text-anchor="middle" font-weight="bold" fill="#222" >Skin</text>
<text x="118.15" y="743.80" font-size="5.45" text-anchor="middle" font-weight="bold" fill="#222" >Intradermal</text>
<rect x="155.50" y="682.90" width="4.20" height="46.30" fill="#fff" stroke="#3a3a3a" stroke-width="1.2"/>
<circle cx="157.46" cy="682.23" r="1.12" fill="#3a3a3a"/>
<circle cx="157.11" cy="695.80" r="1.12" fill="#3a3a3a"/>
<circle cx="157.79" cy="697.49" r="1.12" fill="#3a3a3a"/>
<circle cx="156.56" cy="678.69" r="1.12" fill="#3a3a3a"/>
<circle cx="157.16" cy="664.12" r="1.12" fill="#3a3a3a"/>
<circle cx="158.45" cy="667.42" r="1.12" fill="#3a3a3a"/>
<circle cx="156.85" cy="662.45" r="1.12" fill="#3a3a3a"/>
<line x1="157.60" y1="682.90" x2="157.60" y2="669.01" stroke="#3a3a3a" stroke-width="0.7" />
<line x1="156.34" y1="669.01" x2="158.86" y2="669.01" stroke="#3a3a3a" stroke-width="0.7" />
<rect x="163.95" y="712.50" width="4.20" height="16.70" fill="#fff" stroke="#4b3df2" stroke-width="1.2"/>
<circle cx="167.08" cy="713.39" r="1.12" fill="#4b3df2"/>
<circle cx="164.91" cy="719.85" r="1.12" fill="#4b3df2"/>
<circle cx="166.04" cy="711.24" r="1.12" fill="#4b3df2"/>
<circle cx="166.74" cy="705.72" r="1.12" fill="#4b3df2"/>
<circle cx="167.31" cy="711.65" r="1.12" fill="#4b3df2"/>
<circle cx="166.09" cy="711.98" r="1.12" fill="#4b3df2"/>
<circle cx="165.77" cy="709.38" r="1.12" fill="#4b3df2"/>
<line x1="166.05" y1="712.50" x2="166.05" y2="707.49" stroke="#4b3df2" stroke-width="0.7" />
<line x1="164.79" y1="707.49" x2="167.31" y2="707.49" stroke="#4b3df2" stroke-width="0.7" />
<rect x="172.40" y="707.95" width="4.20" height="21.25" fill="#fff" stroke="#f2541f" stroke-width="1.2"/>
<circle cx="174.74" cy="710.44" r="1.12" fill="#f2541f"/>
<circle cx="175.63" cy="710.57" r="1.12" fill="#f2541f"/>
<circle cx="174.56" cy="704.14" r="1.12" fill="#f2541f"/>
<circle cx="174.18" cy="715.56" r="1.12" fill="#f2541f"/>
<circle cx="174.65" cy="709.59" r="1.12" fill="#f2541f"/>
<circle cx="175.46" cy="706.17" r="1.12" fill="#f2541f"/>
<circle cx="174.47" cy="698.45" r="1.12" fill="#f2541f"/>
<line x1="174.50" y1="707.95" x2="174.50" y2="701.57" stroke="#f2541f" stroke-width="0.7" />
<line x1="173.24" y1="701.57" x2="175.76" y2="701.57" stroke="#f2541f" stroke-width="0.7" />
<rect x="180.85" y="707.19" width="4.20" height="22.01" fill="#fff" stroke="#4d92f5" stroke-width="1.2"/>
<circle cx="183.26" cy="708.08" r="1.12" fill="#4d92f5"/>
<circle cx="182.56" cy="696.70" r="1.12" fill="#4d92f5"/>
<circle cx="183.75" cy="706.24" r="1.12" fill="#4d92f5"/>
<circle cx="182.49" cy="713.60" r="1.12" fill="#4d92f5"/>
<circle cx="183.77" cy="697.07" r="1.12" fill="#4d92f5"/>
<circle cx="181.97" cy="706.60" r="1.12" fill="#4d92f5"/>
<circle cx="183.43" cy="698.78" r="1.12" fill="#4d92f5"/>
<line x1="182.95" y1="707.19" x2="182.95" y2="700.59" stroke="#4d92f5" stroke-width="0.7" />
<line x1="181.69" y1="700.59" x2="184.21" y2="700.59" stroke="#4d92f5" stroke-width="0.7" />
<rect x="189.30" y="709.47" width="4.20" height="19.73" fill="#fff" stroke="#e9a35c" stroke-width="1.2"/>
<circle cx="192.64" cy="703.29" r="1.12" fill="#e9a35c"/>
<circle cx="191.20" cy="702.05" r="1.12" fill="#e9a35c"/>
<circle cx="190.87" cy="715.48" r="1.12" fill="#e9a35c"/>
<circle cx="191.41" cy="708.96" r="1.12" fill="#e9a35c"/>
<circle cx="190.60" cy="714.89" r="1.12" fill="#e9a35c"/>
<circle cx="191.66" cy="706.78" r="1.12" fill="#e9a35c"/>
<circle cx="192.64" cy="711.86" r="1.12" fill="#e9a35c"/>
<line x1="191.40" y1="709.47" x2="191.40" y2="703.55" stroke="#e9a35c" stroke-width="0.7" />
<line x1="190.14" y1="703.55" x2="192.66" y2="703.55" stroke="#e9a35c" stroke-width="0.7" />
<rect x="197.75" y="693.53" width="4.20" height="35.67" fill="#fff" stroke="#b6b6fb" stroke-width="1.2"/>
<circle cx="198.70" cy="688.46" r="1.12" fill="#b6b6fb"/>
<circle cx="200.57" cy="695.93" r="1.12" fill="#b6b6fb"/>
<circle cx="200.33" cy="699.40" r="1.12" fill="#b6b6fb"/>
<circle cx="199.36" cy="709.45" r="1.12" fill="#b6b6fb"/>
<circle cx="200.07" cy="681.64" r="1.12" fill="#b6b6fb"/>
<circle cx="199.09" cy="687.41" r="1.12" fill="#b6b6fb"/>
<circle cx="199.98" cy="693.06" r="1.12" fill="#b6b6fb"/>
<line x1="199.85" y1="693.53" x2="199.85" y2="682.83" stroke="#b6b6fb" stroke-width="0.7" />
<line x1="198.59" y1="682.83" x2="201.11" y2="682.83" stroke="#b6b6fb" stroke-width="0.7" />
<rect x="206.20" y="690.49" width="4.20" height="38.71" fill="#fff" stroke="#f3d3aa" stroke-width="1.2"/>
<circle cx="208.67" cy="698.33" r="1.12" fill="#f3d3aa"/>
<circle cx="209.55" cy="688.78" r="1.12" fill="#f3d3aa"/>
<circle cx="208.08" cy="687.23" r="1.12" fill="#f3d3aa"/>
<circle cx="207.44" cy="703.54" r="1.12" fill="#f3d3aa"/>
<circle cx="207.31" cy="680.57" r="1.12" fill="#f3d3aa"/>
<circle cx="207.47" cy="704.31" r="1.12" fill="#f3d3aa"/>
<circle cx="209.11" cy="689.10" r="1.12" fill="#f3d3aa"/>
<line x1="208.30" y1="690.49" x2="208.30" y2="678.88" stroke="#f3d3aa" stroke-width="0.7" />
<line x1="207.04" y1="678.88" x2="209.56" y2="678.88" stroke="#f3d3aa" stroke-width="0.7" />
<path d="M157.50,666.10 V662.50 H166.50 V703.22" fill="none" stroke="#3a3a3a" stroke-width="0.9"/>
<text x="161.82" y="658.80" font-size="5.45" text-anchor="middle" font-weight="normal" fill="#111" letter-spacing="-0.12" stroke="#222" stroke-width="0.12">&lt;0.0001</text>
<path d="M157.50,651.80 V648.50 H174.50 V652.30" fill="none" stroke="#3a3a3a" stroke-width="0.9"/>
<text x="166.05" y="645.00" font-size="5.45" text-anchor="middle" font-weight="normal" fill="#111" letter-spacing="-0.12" stroke="#222" stroke-width="0.12">&lt;0.0001</text>
<path d="M157.50,637.90 V634.50 H182.50 V694.20" fill="none" stroke="#3a3a3a" stroke-width="0.9"/>
<text x="170.27" y="631.10" font-size="5.45" text-anchor="middle" font-weight="normal" fill="#111" letter-spacing="-0.12" stroke="#222" stroke-width="0.12">&lt;0.0001</text>
<path d="M157.50,630.20 V620.50 H191.50 V699.55" fill="none" stroke="#3a3a3a" stroke-width="0.9"/>
<text x="174.50" y="617.40" font-size="5.45" text-anchor="middle" font-weight="normal" fill="#111" letter-spacing="-0.12" stroke="#222" stroke-width="0.12">&lt;0.0001</text>
<path d="M157.50,616.10 V606.50 H199.50 V679.14" fill="none" stroke="#3a3a3a" stroke-width="0.9"/>
<text x="178.72" y="603.30" font-size="5.45" text-anchor="middle" font-weight="normal" fill="#111" letter-spacing="-0.12" stroke="#222" stroke-width="0.12">0.0137</text>
<path d="M157.50,602.10 V592.50 H208.50 V676.38" fill="none" stroke="#3a3a3a" stroke-width="0.9"/>
<text x="182.95" y="589.30" font-size="5.45" text-anchor="middle" font-weight="normal" fill="#111" letter-spacing="-0.12" stroke="#222" stroke-width="0.12">0.1323</text>
<line x1="182.95" y1="729.20" x2="182.95" y2="731.20" stroke="#222" stroke-width="0.8" />
<text x="182.95" y="737.80" font-size="5.0" text-anchor="middle" font-weight="bold" fill="#222" >Footpad</text>
<text x="182.95" y="743.80" font-size="5.45" text-anchor="middle" font-weight="bold" fill="#222" >Subcutaneous</text>
<line x1="22.50" y1="653.30" x2="22.50" y2="729.70" stroke="#111" stroke-width="1.1" />
<line x1="22.00" y1="729.20" x2="211.50" y2="729.20" stroke="#111" stroke-width="1.1" />
<line x1="20.00" y1="729.20" x2="22.50" y2="729.20" stroke="#111" stroke-width="0.9" />
<text x="19.30" y="732.10" font-size="4.6" text-anchor="end" font-weight="bold" fill="#222" >0</text>
<line x1="20.00" y1="714.02" x2="22.50" y2="714.02" stroke="#111" stroke-width="0.9" />
<text x="19.30" y="716.92" font-size="4.6" text-anchor="end" font-weight="bold" fill="#222" >200</text>
<line x1="20.00" y1="698.84" x2="22.50" y2="698.84" stroke="#111" stroke-width="0.9" />
<text x="19.30" y="701.74" font-size="4.6" text-anchor="end" font-weight="bold" fill="#222" >400</text>
<line x1="20.00" y1="683.66" x2="22.50" y2="683.66" stroke="#111" stroke-width="0.9" />
<text x="19.30" y="686.56" font-size="4.6" text-anchor="end" font-weight="bold" fill="#222" >600</text>
<line x1="20.00" y1="668.48" x2="22.50" y2="668.48" stroke="#111" stroke-width="0.9" />
<text x="19.30" y="671.38" font-size="4.6" text-anchor="end" font-weight="bold" fill="#222" >800</text>
<line x1="20.00" y1="653.30" x2="22.50" y2="653.30" stroke="#111" stroke-width="0.9" />
<text x="19.30" y="656.20" font-size="4.6" text-anchor="end" font-weight="bold" fill="#222" >1000</text>
<text transform="translate(6.30,691.00) rotate(-90)" font-size="5.3" text-anchor="middle" font-weight="bold" fill="#222">TNF-α (pg/mL)</text>
<text x="3.00" y="580.00" font-size="14" text-anchor="start" font-weight="bold" fill="#000" >e</text>
<line x1="251.30" y1="722.55" x2="441.60" y2="722.55" stroke="#444" stroke-width="0.8" stroke-dasharray="1.2,1.4"/>
<rect x="255.50" y="701.70" width="4.20" height="27.80" fill="#fff" stroke="#3a3a3a" stroke-width="1.2"/>
<circle cx="258.37" cy="699.03" r="1.12" fill="#3a3a3a"/>
<circle cx="256.37" cy="710.42" r="1.12" fill="#3a3a3a"/>
<circle cx="257.15" cy="695.77" r="1.12" fill="#3a3a3a"/>
<circle cx="257.23" cy="696.91" r="1.12" fill="#3a3a3a"/>
<circle cx="257.01" cy="708.20" r="1.12" fill="#3a3a3a"/>
<circle cx="258.62" cy="709.65" r="1.12" fill="#3a3a3a"/>
<circle cx="257.22" cy="699.67" r="1.12" fill="#3a3a3a"/>
<line x1="257.60" y1="701.70" x2="257.60" y2="695.03" stroke="#3a3a3a" stroke-width="0.7" />
<line x1="256.34" y1="695.03" x2="258.86" y2="695.03" stroke="#3a3a3a" stroke-width="0.7" />
<rect x="263.95" y="716.29" width="4.20" height="13.20" fill="#fff" stroke="#4b3df2" stroke-width="1.2"/>
<circle cx="265.76" cy="716.63" r="1.12" fill="#4b3df2"/>
<circle cx="267.03" cy="720.51" r="1.12" fill="#4b3df2"/>
<circle cx="267.21" cy="715.32" r="1.12" fill="#4b3df2"/>
<circle cx="266.35" cy="716.73" r="1.12" fill="#4b3df2"/>
<circle cx="264.90" cy="718.60" r="1.12" fill="#4b3df2"/>
<circle cx="266.94" cy="711.90" r="1.12" fill="#4b3df2"/>
<circle cx="267.06" cy="717.96" r="1.12" fill="#4b3df2"/>
<line x1="266.05" y1="716.29" x2="266.05" y2="713.13" stroke="#4b3df2" stroke-width="0.7" />
<line x1="264.79" y1="713.13" x2="267.31" y2="713.13" stroke="#4b3df2" stroke-width="0.7" />
<rect x="272.40" y="713.86" width="4.20" height="15.64" fill="#fff" stroke="#f2541f" stroke-width="1.2"/>
<circle cx="274.01" cy="710.00" r="1.12" fill="#f2541f"/>
<circle cx="275.66" cy="712.48" r="1.12" fill="#f2541f"/>
<circle cx="275.63" cy="713.73" r="1.12" fill="#f2541f"/>
<circle cx="274.22" cy="716.67" r="1.12" fill="#f2541f"/>
<circle cx="273.80" cy="711.13" r="1.12" fill="#f2541f"/>
<circle cx="275.45" cy="715.90" r="1.12" fill="#f2541f"/>
<circle cx="275.24" cy="713.86" r="1.12" fill="#f2541f"/>
<line x1="274.50" y1="713.86" x2="274.50" y2="710.11" stroke="#f2541f" stroke-width="0.7" />
<line x1="273.24" y1="710.11" x2="275.76" y2="710.11" stroke="#f2541f" stroke-width="0.7" />
<rect x="280.85" y="712.82" width="4.20" height="16.68" fill="#fff" stroke="#4d92f5" stroke-width="1.2"/>
<circle cx="282.13" cy="715.80" r="1.12" fill="#4d92f5"/>
<circle cx="282.16" cy="714.38" r="1.12" fill="#4d92f5"/>
<circle cx="282.42" cy="706.77" r="1.12" fill="#4d92f5"/>
<circle cx="281.98" cy="711.86" r="1.12" fill="#4d92f5"/>
<circle cx="282.66" cy="712.20" r="1.12" fill="#4d92f5"/>
<circle cx="281.85" cy="713.82" r="1.12" fill="#4d92f5"/>
<circle cx="283.77" cy="717.29" r="1.12" fill="#4d92f5"/>
<line x1="282.95" y1="712.82" x2="282.95" y2="708.82" stroke="#4d92f5" stroke-width="0.7" />
<line x1="281.69" y1="708.82" x2="284.21" y2="708.82" stroke="#4d92f5" stroke-width="0.7" />
<rect x="289.30" y="711.43" width="4.20" height="18.07" fill="#fff" stroke="#e9a35c" stroke-width="1.2"/>
<circle cx="290.76" cy="713.21" r="1.12" fill="#e9a35c"/>
<circle cx="290.85" cy="715.36" r="1.12" fill="#e9a35c"/>
<circle cx="290.23" cy="714.75" r="1.12" fill="#e9a35c"/>
<circle cx="291.00" cy="709.00" r="1.12" fill="#e9a35c"/>
<circle cx="291.92" cy="715.84" r="1.12" fill="#e9a35c"/>
<circle cx="290.82" cy="716.69" r="1.12" fill="#e9a35c"/>
<circle cx="290.46" cy="706.71" r="1.12" fill="#e9a35c"/>
<line x1="291.40" y1="711.43" x2="291.40" y2="707.09" stroke="#e9a35c" stroke-width="0.7" />
<line x1="290.14" y1="707.09" x2="292.66" y2="707.09" stroke="#e9a35c" stroke-width="0.7" />
<rect x="297.75" y="705.87" width="4.20" height="23.63" fill="#fff" stroke="#b6b6fb" stroke-width="1.2"/>
<circle cx="300.70" cy="706.58" r="1.12" fill="#b6b6fb"/>
<circle cx="298.99" cy="700.23" r="1.12" fill="#b6b6fb"/>
<circle cx="300.41" cy="708.17" r="1.12" fill="#b6b6fb"/>
<circle cx="301.01" cy="707.75" r="1.12" fill="#b6b6fb"/>
<circle cx="300.99" cy="710.72" r="1.12" fill="#b6b6fb"/>
<circle cx="299.16" cy="705.50" r="1.12" fill="#b6b6fb"/>
<circle cx="298.92" cy="706.42" r="1.12" fill="#b6b6fb"/>
<line x1="299.85" y1="705.87" x2="299.85" y2="700.20" stroke="#b6b6fb" stroke-width="0.7" />
<line x1="298.59" y1="700.20" x2="301.11" y2="700.20" stroke="#b6b6fb" stroke-width="0.7" />
<rect x="306.20" y="705.17" width="4.20" height="24.32" fill="#fff" stroke="#f3d3aa" stroke-width="1.2"/>
<circle cx="307.70" cy="701.15" r="1.12" fill="#f3d3aa"/>
<circle cx="308.52" cy="697.65" r="1.12" fill="#f3d3aa"/>
<circle cx="307.66" cy="707.27" r="1.12" fill="#f3d3aa"/>
<circle cx="307.58" cy="702.92" r="1.12" fill="#f3d3aa"/>
<circle cx="307.35" cy="698.14" r="1.12" fill="#f3d3aa"/>
<circle cx="308.41" cy="704.65" r="1.12" fill="#f3d3aa"/>
<circle cx="308.98" cy="709.04" r="1.12" fill="#f3d3aa"/>
<line x1="308.30" y1="705.17" x2="308.30" y2="699.34" stroke="#f3d3aa" stroke-width="0.7" />
<line x1="307.04" y1="699.34" x2="309.56" y2="699.34" stroke="#f3d3aa" stroke-width="0.7" />
<path d="M257.50,663.20 V659.50 H266.50 V709.40" fill="none" stroke="#3a3a3a" stroke-width="0.9"/>
<text x="261.83" y="655.90" font-size="5.45" text-anchor="middle" font-weight="normal" fill="#111" letter-spacing="-0.12" stroke="#222" stroke-width="0.12">0.0016</text>
<path d="M257.50,648.90 V645.50 H274.50 V707.50" fill="none" stroke="#3a3a3a" stroke-width="0.9"/>
<text x="266.05" y="642.10" font-size="5.45" text-anchor="middle" font-weight="normal" fill="#111" letter-spacing="-0.12" stroke="#222" stroke-width="0.12">0.0155</text>
<path d="M257.50,634.90 V631.50 H282.50 V704.27" fill="none" stroke="#3a3a3a" stroke-width="0.9"/>
<text x="270.28" y="628.10" font-size="5.45" text-anchor="middle" font-weight="normal" fill="#111" letter-spacing="-0.12" stroke="#222" stroke-width="0.12">0.0350</text>
<path d="M257.50,627.10 V617.50 H291.50 V704.21" fill="none" stroke="#3a3a3a" stroke-width="0.9"/>
<text x="274.50" y="614.30" font-size="5.45" text-anchor="middle" font-weight="normal" fill="#111" letter-spacing="-0.12" stroke="#222" stroke-width="0.12">0.1185</text>
<path d="M257.50,613.40 V603.50 H299.50 V697.70" fill="none" stroke="#3a3a3a" stroke-width="0.9"/>
<text x="278.73" y="600.60" font-size="5.45" text-anchor="middle" font-weight="normal" fill="#111" letter-spacing="-0.12" stroke="#222" stroke-width="0.12">0.8783</text>
<path d="M257.50,599.80 V590.50 H308.50 V695.15" fill="none" stroke="#3a3a3a" stroke-width="0.9"/>
<text x="282.95" y="587.00" font-size="5.45" text-anchor="middle" font-weight="normal" fill="#111" letter-spacing="-0.12" stroke="#222" stroke-width="0.12">0.9637</text>
<line x1="282.95" y1="729.50" x2="282.95" y2="731.50" stroke="#222" stroke-width="0.8" />
<text x="282.95" y="737.80" font-size="5.0" text-anchor="middle" font-weight="bold" fill="#222" >Lung</text>
<text x="282.95" y="743.80" font-size="5.45" text-anchor="middle" font-weight="bold" fill="#222" >Intranasal</text>
<rect x="320.50" y="694.05" width="4.20" height="35.45" fill="#fff" stroke="#3a3a3a" stroke-width="1.2"/>
<circle cx="323.00" cy="696.67" r="1.12" fill="#3a3a3a"/>
<circle cx="322.12" cy="691.84" r="1.12" fill="#3a3a3a"/>
<circle cx="321.56" cy="696.53" r="1.12" fill="#3a3a3a"/>
<circle cx="323.48" cy="702.15" r="1.12" fill="#3a3a3a"/>
<circle cx="323.01" cy="698.35" r="1.12" fill="#3a3a3a"/>
<circle cx="322.76" cy="703.94" r="1.12" fill="#3a3a3a"/>
<circle cx="322.60" cy="697.28" r="1.12" fill="#3a3a3a"/>
<line x1="322.60" y1="694.05" x2="322.60" y2="685.55" stroke="#3a3a3a" stroke-width="0.7" />
<line x1="321.34" y1="685.55" x2="323.86" y2="685.55" stroke="#3a3a3a" stroke-width="0.7" />
<rect x="328.95" y="711.43" width="4.20" height="18.07" fill="#fff" stroke="#4b3df2" stroke-width="1.2"/>
<circle cx="329.96" cy="713.94" r="1.12" fill="#4b3df2"/>
<circle cx="330.36" cy="713.75" r="1.12" fill="#4b3df2"/>
<circle cx="331.60" cy="716.24" r="1.12" fill="#4b3df2"/>
<circle cx="330.81" cy="714.14" r="1.12" fill="#4b3df2"/>
<circle cx="331.74" cy="705.72" r="1.12" fill="#4b3df2"/>
<circle cx="331.96" cy="706.07" r="1.12" fill="#4b3df2"/>
<circle cx="330.49" cy="716.16" r="1.12" fill="#4b3df2"/>
<line x1="331.05" y1="711.43" x2="331.05" y2="707.09" stroke="#4b3df2" stroke-width="0.7" />
<line x1="329.79" y1="707.09" x2="332.31" y2="707.09" stroke="#4b3df2" stroke-width="0.7" />
<rect x="337.40" y="706.22" width="4.20" height="23.28" fill="#fff" stroke="#f2541f" stroke-width="1.2"/>
<circle cx="339.95" cy="714.09" r="1.12" fill="#f2541f"/>
<circle cx="339.13" cy="703.10" r="1.12" fill="#f2541f"/>
<circle cx="339.90" cy="707.45" r="1.12" fill="#f2541f"/>
<circle cx="338.87" cy="702.49" r="1.12" fill="#f2541f"/>
<circle cx="339.13" cy="699.93" r="1.12" fill="#f2541f"/>
<circle cx="338.70" cy="703.71" r="1.12" fill="#f2541f"/>
<circle cx="340.54" cy="712.60" r="1.12" fill="#f2541f"/>
<line x1="339.50" y1="706.22" x2="339.50" y2="700.63" stroke="#f2541f" stroke-width="0.7" />
<line x1="338.24" y1="700.63" x2="340.76" y2="700.63" stroke="#f2541f" stroke-width="0.7" />
<rect x="345.85" y="708.65" width="4.20" height="20.85" fill="#fff" stroke="#4d92f5" stroke-width="1.2"/>
<circle cx="348.49" cy="704.77" r="1.12" fill="#4d92f5"/>
<circle cx="346.79" cy="715.53" r="1.12" fill="#4d92f5"/>
<circle cx="347.19" cy="713.64" r="1.12" fill="#4d92f5"/>
<circle cx="347.65" cy="711.45" r="1.12" fill="#4d92f5"/>
<circle cx="347.47" cy="715.55" r="1.12" fill="#4d92f5"/>
<circle cx="347.14" cy="706.25" r="1.12" fill="#4d92f5"/>
<circle cx="348.13" cy="703.13" r="1.12" fill="#4d92f5"/>
<line x1="347.95" y1="708.65" x2="347.95" y2="703.65" stroke="#4d92f5" stroke-width="0.7" />
<line x1="346.69" y1="703.65" x2="349.21" y2="703.65" stroke="#4d92f5" stroke-width="0.7" />
<rect x="354.30" y="703.44" width="4.20" height="26.06" fill="#fff" stroke="#e9a35c" stroke-width="1.2"/>
<circle cx="355.78" cy="698.92" r="1.12" fill="#e9a35c"/>
<circle cx="356.86" cy="704.39" r="1.12" fill="#e9a35c"/>
<circle cx="355.14" cy="706.05" r="1.12" fill="#e9a35c"/>
<circle cx="357.10" cy="696.64" r="1.12" fill="#e9a35c"/>
<circle cx="355.25" cy="707.27" r="1.12" fill="#e9a35c"/>
<circle cx="356.67" cy="696.26" r="1.12" fill="#e9a35c"/>
<circle cx="355.76" cy="711.90" r="1.12" fill="#e9a35c"/>
<line x1="356.40" y1="703.44" x2="356.40" y2="697.18" stroke="#e9a35c" stroke-width="0.7" />
<line x1="355.14" y1="697.18" x2="357.66" y2="697.18" stroke="#e9a35c" stroke-width="0.7" />
<rect x="362.75" y="701.70" width="4.20" height="27.80" fill="#fff" stroke="#b6b6fb" stroke-width="1.2"/>
<circle cx="365.58" cy="709.41" r="1.12" fill="#b6b6fb"/>
<circle cx="365.89" cy="707.36" r="1.12" fill="#b6b6fb"/>
<circle cx="363.81" cy="696.21" r="1.12" fill="#b6b6fb"/>
<circle cx="364.58" cy="697.34" r="1.12" fill="#b6b6fb"/>
<circle cx="365.68" cy="696.25" r="1.12" fill="#b6b6fb"/>
<circle cx="363.82" cy="705.89" r="1.12" fill="#b6b6fb"/>
<circle cx="364.66" cy="692.13" r="1.12" fill="#b6b6fb"/>
<line x1="364.85" y1="701.70" x2="364.85" y2="695.03" stroke="#b6b6fb" stroke-width="0.7" />
<line x1="363.59" y1="695.03" x2="366.11" y2="695.03" stroke="#b6b6fb" stroke-width="0.7" />
<rect x="371.20" y="694.75" width="4.20" height="34.75" fill="#fff" stroke="#f3d3aa" stroke-width="1.2"/>
<circle cx="373.78" cy="683.21" r="1.12" fill="#f3d3aa"/>
<circle cx="374.13" cy="688.16" r="1.12" fill="#f3d3aa"/>
<circle cx="373.18" cy="691.02" r="1.12" fill="#f3d3aa"/>
<circle cx="373.80" cy="705.86" r="1.12" fill="#f3d3aa"/>
<circle cx="373.33" cy="696.19" r="1.12" fill="#f3d3aa"/>
<circle cx="372.36" cy="683.26" r="1.12" fill="#f3d3aa"/>
<circle cx="372.15" cy="687.56" r="1.12" fill="#f3d3aa"/>
<line x1="373.30" y1="694.75" x2="373.30" y2="686.41" stroke="#f3d3aa" stroke-width="0.7" />
<line x1="372.04" y1="686.41" x2="374.56" y2="686.41" stroke="#f3d3aa" stroke-width="0.7" />
<path d="M322.50,663.20 V659.50 H331.50 V703.22" fill="none" stroke="#3a3a3a" stroke-width="0.9"/>
<text x="326.83" y="655.90" font-size="5.45" text-anchor="middle" font-weight="normal" fill="#111" letter-spacing="-0.12" stroke="#222" stroke-width="0.12">&lt;0.0001</text>
<path d="M322.50,648.90 V645.50 H339.50 V649.40" fill="none" stroke="#3a3a3a" stroke-width="0.9"/>
<text x="331.05" y="642.10" font-size="5.45" text-anchor="middle" font-weight="normal" fill="#111" letter-spacing="-0.12" stroke="#222" stroke-width="0.12">0.0056</text>
<path d="M322.50,634.90 V631.50 H347.50 V700.63" fill="none" stroke="#3a3a3a" stroke-width="0.9"/>
<text x="335.28" y="628.10" font-size="5.45" text-anchor="middle" font-weight="normal" fill="#111" letter-spacing="-0.12" stroke="#222" stroke-width="0.12">0.0006</text>
<path d="M322.50,627.10 V617.50 H356.50 V693.76" fill="none" stroke="#3a3a3a" stroke-width="0.9"/>
<text x="339.50" y="614.30" font-size="5.45" text-anchor="middle" font-weight="normal" fill="#111" letter-spacing="-0.12" stroke="#222" stroke-width="0.12">0.0586</text>
<path d="M322.50,613.40 V603.50 H364.50 V689.63" fill="none" stroke="#3a3a3a" stroke-width="0.9"/>
<text x="343.73" y="600.60" font-size="5.45" text-anchor="middle" font-weight="normal" fill="#111" letter-spacing="-0.12" stroke="#222" stroke-width="0.12">0.1106</text>
<path d="M322.50,599.80 V590.50 H373.50 V680.71" fill="none" stroke="#3a3a3a" stroke-width="0.9"/>
<text x="347.95" y="587.00" font-size="5.45" text-anchor="middle" font-weight="normal" fill="#111" letter-spacing="-0.12" stroke="#222" stroke-width="0.12">&gt;0.9999</text>
<line x1="347.95" y1="729.50" x2="347.95" y2="731.50" stroke="#222" stroke-width="0.8" />
<text x="347.95" y="737.80" font-size="5.0" text-anchor="middle" font-weight="bold" fill="#222" >Skin</text>
<text x="347.95" y="743.80" font-size="5.45" text-anchor="middle" font-weight="bold" fill="#222" >Intradermal</text>
<rect x="385.50" y="679.11" width="4.20" height="50.39" fill="#fff" stroke="#3a3a3a" stroke-width="1.2"/>
<circle cx="388.37" cy="670.91" r="1.12" fill="#3a3a3a"/>
<circle cx="387.72" cy="687.46" r="1.12" fill="#3a3a3a"/>
<circle cx="387.95" cy="660.91" r="1.12" fill="#3a3a3a"/>
<circle cx="386.97" cy="676.86" r="1.12" fill="#3a3a3a"/>
<circle cx="387.24" cy="695.03" r="1.12" fill="#3a3a3a"/>
<circle cx="386.85" cy="681.82" r="1.12" fill="#3a3a3a"/>
<circle cx="386.68" cy="685.61" r="1.12" fill="#3a3a3a"/>
<line x1="387.60" y1="679.11" x2="387.60" y2="667.02" stroke="#3a3a3a" stroke-width="0.7" />
<line x1="386.34" y1="667.02" x2="388.86" y2="667.02" stroke="#3a3a3a" stroke-width="0.7" />
<rect x="393.95" y="703.09" width="4.20" height="26.41" fill="#fff" stroke="#4b3df2" stroke-width="1.2"/>
<circle cx="396.48" cy="698.71" r="1.12" fill="#4b3df2"/>
<circle cx="395.40" cy="707.92" r="1.12" fill="#4b3df2"/>
<circle cx="395.91" cy="702.47" r="1.12" fill="#4b3df2"/>
<circle cx="395.68" cy="694.21" r="1.12" fill="#4b3df2"/>
<circle cx="397.02" cy="706.72" r="1.12" fill="#4b3df2"/>
<circle cx="396.21" cy="709.81" r="1.12" fill="#4b3df2"/>
<circle cx="396.84" cy="706.04" r="1.12" fill="#4b3df2"/>
<line x1="396.05" y1="703.09" x2="396.05" y2="696.75" stroke="#4b3df2" stroke-width="0.7" />
<line x1="394.79" y1="696.75" x2="397.31" y2="696.75" stroke="#4b3df2" stroke-width="0.7" />
<rect x="402.40" y="704.48" width="4.20" height="25.02" fill="#fff" stroke="#f2541f" stroke-width="1.2"/>
<circle cx="405.16" cy="703.28" r="1.12" fill="#f2541f"/>
<circle cx="404.92" cy="710.34" r="1.12" fill="#f2541f"/>
<circle cx="404.40" cy="702.34" r="1.12" fill="#f2541f"/>
<circle cx="405.33" cy="699.23" r="1.12" fill="#f2541f"/>
<circle cx="403.97" cy="711.36" r="1.12" fill="#f2541f"/>
<circle cx="403.76" cy="706.78" r="1.12" fill="#f2541f"/>
<circle cx="403.95" cy="712.36" r="1.12" fill="#f2541f"/>
<line x1="404.50" y1="704.48" x2="404.50" y2="698.48" stroke="#f2541f" stroke-width="0.7" />
<line x1="403.24" y1="698.48" x2="405.76" y2="698.48" stroke="#f2541f" stroke-width="0.7" />
<rect x="410.85" y="699.62" width="4.20" height="29.88" fill="#fff" stroke="#4d92f5" stroke-width="1.2"/>
<circle cx="413.46" cy="705.99" r="1.12" fill="#4d92f5"/>
<circle cx="411.97" cy="700.41" r="1.12" fill="#4d92f5"/>
<circle cx="412.87" cy="703.16" r="1.12" fill="#4d92f5"/>
<circle cx="412.11" cy="702.30" r="1.12" fill="#4d92f5"/>
<circle cx="411.72" cy="708.78" r="1.12" fill="#4d92f5"/>
<circle cx="413.58" cy="688.31" r="1.12" fill="#4d92f5"/>
<circle cx="413.50" cy="708.51" r="1.12" fill="#4d92f5"/>
<line x1="412.95" y1="699.62" x2="412.95" y2="692.44" stroke="#4d92f5" stroke-width="0.7" />
<line x1="411.69" y1="692.44" x2="414.21" y2="692.44" stroke="#4d92f5" stroke-width="0.7" />
<rect x="419.30" y="701.00" width="4.20" height="28.49" fill="#fff" stroke="#e9a35c" stroke-width="1.2"/>
<circle cx="421.56" cy="690.48" r="1.12" fill="#e9a35c"/>
<circle cx="421.37" cy="708.96" r="1.12" fill="#e9a35c"/>
<circle cx="420.62" cy="702.06" r="1.12" fill="#e9a35c"/>
<circle cx="420.16" cy="699.75" r="1.12" fill="#e9a35c"/>
<circle cx="421.76" cy="691.77" r="1.12" fill="#e9a35c"/>
<circle cx="422.50" cy="697.95" r="1.12" fill="#e9a35c"/>
<circle cx="420.77" cy="697.43" r="1.12" fill="#e9a35c"/>
<line x1="421.40" y1="701.00" x2="421.40" y2="694.17" stroke="#e9a35c" stroke-width="0.7" />
<line x1="420.14" y1="694.17" x2="422.66" y2="694.17" stroke="#e9a35c" stroke-width="0.7" />
<rect x="427.75" y="690.58" width="4.20" height="38.92" fill="#fff" stroke="#b6b6fb" stroke-width="1.2"/>
<circle cx="428.94" cy="697.47" r="1.12" fill="#b6b6fb"/>
<circle cx="430.54" cy="703.79" r="1.12" fill="#b6b6fb"/>
<circle cx="429.34" cy="680.28" r="1.12" fill="#b6b6fb"/>
<circle cx="430.20" cy="699.21" r="1.12" fill="#b6b6fb"/>
<circle cx="430.93" cy="680.10" r="1.12" fill="#b6b6fb"/>
<circle cx="430.57" cy="699.71" r="1.12" fill="#b6b6fb"/>
<circle cx="430.46" cy="680.55" r="1.12" fill="#b6b6fb"/>
<line x1="429.85" y1="690.58" x2="429.85" y2="681.24" stroke="#b6b6fb" stroke-width="0.7" />
<line x1="428.59" y1="681.24" x2="431.11" y2="681.24" stroke="#b6b6fb" stroke-width="0.7" />
<rect x="436.20" y="691.97" width="4.20" height="37.53" fill="#fff" stroke="#f3d3aa" stroke-width="1.2"/>
<circle cx="437.51" cy="696.36" r="1.12" fill="#f3d3aa"/>
<circle cx="437.85" cy="682.44" r="1.12" fill="#f3d3aa"/>
<circle cx="438.43" cy="695.19" r="1.12" fill="#f3d3aa"/>
<circle cx="439.14" cy="695.17" r="1.12" fill="#f3d3aa"/>
<circle cx="437.14" cy="698.80" r="1.12" fill="#f3d3aa"/>
<circle cx="438.62" cy="689.65" r="1.12" fill="#f3d3aa"/>
<circle cx="438.82" cy="682.59" r="1.12" fill="#f3d3aa"/>
<line x1="438.30" y1="691.97" x2="438.30" y2="682.96" stroke="#f3d3aa" stroke-width="0.7" />
<line x1="437.04" y1="682.96" x2="439.56" y2="682.96" stroke="#f3d3aa" stroke-width="0.7" />
<path d="M387.50,663.20 V659.50 H396.50 V691.71" fill="none" stroke="#3a3a3a" stroke-width="0.9"/>
<text x="391.83" y="655.90" font-size="5.45" text-anchor="middle" font-weight="normal" fill="#111" letter-spacing="-0.12" stroke="#222" stroke-width="0.12">&lt;0.0001</text>
<path d="M387.50,648.90 V645.50 H404.50 V649.40" fill="none" stroke="#3a3a3a" stroke-width="0.9"/>
<text x="396.05" y="642.10" font-size="5.45" text-anchor="middle" font-weight="normal" fill="#111" letter-spacing="-0.12" stroke="#222" stroke-width="0.12">&lt;0.0001</text>
<path d="M387.50,634.90 V631.50 H412.50 V685.81" fill="none" stroke="#3a3a3a" stroke-width="0.9"/>
<text x="400.28" y="628.10" font-size="5.45" text-anchor="middle" font-weight="normal" fill="#111" letter-spacing="-0.12" stroke="#222" stroke-width="0.12">&lt;0.0001</text>
<path d="M387.50,627.10 V617.50 H421.50 V687.98" fill="none" stroke="#3a3a3a" stroke-width="0.9"/>
<text x="404.50" y="614.30" font-size="5.45" text-anchor="middle" font-weight="normal" fill="#111" letter-spacing="-0.12" stroke="#222" stroke-width="0.12">&lt;0.0001</text>
<path d="M387.50,613.40 V603.50 H429.50 V677.60" fill="none" stroke="#3a3a3a" stroke-width="0.9"/>
<text x="408.73" y="600.60" font-size="5.45" text-anchor="middle" font-weight="normal" fill="#111" letter-spacing="-0.12" stroke="#222" stroke-width="0.12">0.0156</text>
<path d="M387.50,599.80 V590.50 H438.50 V679.94" fill="none" stroke="#3a3a3a" stroke-width="0.9"/>
<text x="412.95" y="587.00" font-size="5.45" text-anchor="middle" font-weight="normal" fill="#111" letter-spacing="-0.12" stroke="#222" stroke-width="0.12">0.0019</text>
<line x1="412.95" y1="729.50" x2="412.95" y2="731.50" stroke="#222" stroke-width="0.8" />
<text x="412.95" y="737.80" font-size="5.0" text-anchor="middle" font-weight="bold" fill="#222" >Footpad</text>
<text x="412.95" y="743.80" font-size="5.45" text-anchor="middle" font-weight="bold" fill="#222" >Subcutaneous</text>
<line x1="251.30" y1="653.00" x2="251.30" y2="730.00" stroke="#111" stroke-width="1.1" />
<line x1="250.80" y1="729.50" x2="441.60" y2="729.50" stroke="#111" stroke-width="1.1" />
<line x1="248.80" y1="729.50" x2="251.30" y2="729.50" stroke="#111" stroke-width="0.9" />
<text x="248.10" y="732.40" font-size="4.6" text-anchor="end" font-weight="bold" fill="#222" >0</text>
<line x1="248.80" y1="712.12" x2="251.30" y2="712.12" stroke="#111" stroke-width="0.9" />
<text x="248.10" y="715.02" font-size="4.6" text-anchor="end" font-weight="bold" fill="#222" >50</text>
<line x1="248.80" y1="694.75" x2="251.30" y2="694.75" stroke="#111" stroke-width="0.9" />
<text x="248.10" y="697.65" font-size="4.6" text-anchor="end" font-weight="bold" fill="#222" >100</text>
<line x1="248.80" y1="677.38" x2="251.30" y2="677.38" stroke="#111" stroke-width="0.9" />
<text x="248.10" y="680.27" font-size="4.6" text-anchor="end" font-weight="bold" fill="#222" >150</text>
<line x1="248.80" y1="660.00" x2="251.30" y2="660.00" stroke="#111" stroke-width="0.9" />
<text x="248.10" y="662.90" font-size="4.6" text-anchor="end" font-weight="bold" fill="#222" >200</text>
<text transform="translate(237.00,691.00) rotate(-90)" font-size="5.3" text-anchor="middle" font-weight="bold" fill="#222">GM-CSF (pg/mL)</text>
<text x="231.30" y="580.00" font-size="14" text-anchor="start" font-weight="bold" fill="#000" >f</text>
<rect x="489.90" y="695.89" width="4.20" height="33.61" fill="#fff" stroke="#3a3a3a" stroke-width="1.2"/>
<circle cx="493.12" cy="682.72" r="1.12" fill="#3a3a3a"/>
<circle cx="492.00" cy="695.56" r="1.12" fill="#3a3a3a"/>
<circle cx="491.49" cy="706.09" r="1.12" fill="#3a3a3a"/>
<circle cx="490.94" cy="692.85" r="1.12" fill="#3a3a3a"/>
<circle cx="491.15" cy="689.51" r="1.12" fill="#3a3a3a"/>
<circle cx="493.18" cy="697.16" r="1.12" fill="#3a3a3a"/>
<circle cx="490.84" cy="708.21" r="1.12" fill="#3a3a3a"/>
<line x1="492.00" y1="695.89" x2="492.00" y2="685.81" stroke="#3a3a3a" stroke-width="0.7" />
<line x1="490.74" y1="685.81" x2="493.26" y2="685.81" stroke="#3a3a3a" stroke-width="0.7" />
<rect x="498.35" y="726.75" width="4.20" height="2.75" fill="#fff" stroke="#4b3df2" stroke-width="1.2"/>
<circle cx="499.67" cy="727.20" r="1.12" fill="#4b3df2"/>
<circle cx="499.20" cy="724.29" r="1.12" fill="#4b3df2"/>
<circle cx="501.35" cy="723.09" r="1.12" fill="#4b3df2"/>
<circle cx="500.26" cy="723.64" r="1.12" fill="#4b3df2"/>
<circle cx="500.86" cy="728.80" r="1.12" fill="#4b3df2"/>
<circle cx="500.25" cy="726.43" r="1.12" fill="#4b3df2"/>
<circle cx="500.30" cy="728.23" r="1.12" fill="#4b3df2"/>
<line x1="500.45" y1="726.75" x2="500.45" y2="723.44" stroke="#4b3df2" stroke-width="0.7" />
<line x1="499.19" y1="723.44" x2="501.71" y2="723.44" stroke="#4b3df2" stroke-width="0.7" />
<rect x="506.80" y="723.99" width="4.20" height="5.51" fill="#fff" stroke="#f2541f" stroke-width="1.2"/>
<circle cx="509.72" cy="722.12" r="1.12" fill="#f2541f"/>
<circle cx="508.05" cy="719.68" r="1.12" fill="#f2541f"/>
<circle cx="508.76" cy="725.92" r="1.12" fill="#f2541f"/>
<circle cx="508.52" cy="723.18" r="1.12" fill="#f2541f"/>
<circle cx="507.85" cy="726.95" r="1.12" fill="#f2541f"/>
<circle cx="508.80" cy="725.63" r="1.12" fill="#f2541f"/>
<circle cx="509.93" cy="718.99" r="1.12" fill="#f2541f"/>
<line x1="508.90" y1="723.99" x2="508.90" y2="720.68" stroke="#f2541f" stroke-width="0.7" />
<line x1="507.64" y1="720.68" x2="510.16" y2="720.68" stroke="#f2541f" stroke-width="0.7" />
<rect x="515.25" y="720.68" width="4.20" height="8.82" fill="#fff" stroke="#4d92f5" stroke-width="1.2"/>
<circle cx="518.55" cy="716.77" r="1.12" fill="#4d92f5"/>
<circle cx="517.65" cy="715.79" r="1.12" fill="#4d92f5"/>
<circle cx="516.24" cy="717.33" r="1.12" fill="#4d92f5"/>
<circle cx="517.63" cy="718.71" r="1.12" fill="#4d92f5"/>
<circle cx="517.53" cy="722.60" r="1.12" fill="#4d92f5"/>
<circle cx="517.30" cy="715.88" r="1.12" fill="#4d92f5"/>
<circle cx="516.84" cy="719.01" r="1.12" fill="#4d92f5"/>
<line x1="517.35" y1="720.68" x2="517.35" y2="717.38" stroke="#4d92f5" stroke-width="0.7" />
<line x1="516.09" y1="717.38" x2="518.61" y2="717.38" stroke="#4d92f5" stroke-width="0.7" />
<rect x="523.70" y="720.68" width="4.20" height="8.82" fill="#fff" stroke="#e9a35c" stroke-width="1.2"/>
<circle cx="526.77" cy="722.12" r="1.12" fill="#e9a35c"/>
<circle cx="525.02" cy="725.36" r="1.12" fill="#e9a35c"/>
<circle cx="525.67" cy="718.69" r="1.12" fill="#e9a35c"/>
<circle cx="526.20" cy="724.77" r="1.12" fill="#e9a35c"/>
<circle cx="526.00" cy="721.83" r="1.12" fill="#e9a35c"/>
<circle cx="525.88" cy="721.38" r="1.12" fill="#e9a35c"/>
<circle cx="525.54" cy="719.85" r="1.12" fill="#e9a35c"/>
<line x1="525.80" y1="720.68" x2="525.80" y2="717.38" stroke="#e9a35c" stroke-width="0.7" />
<line x1="524.54" y1="717.38" x2="527.06" y2="717.38" stroke="#e9a35c" stroke-width="0.7" />
<rect x="532.15" y="704.15" width="4.20" height="25.35" fill="#fff" stroke="#b6b6fb" stroke-width="1.2"/>
<circle cx="533.44" cy="712.87" r="1.12" fill="#b6b6fb"/>
<circle cx="534.37" cy="694.58" r="1.12" fill="#b6b6fb"/>
<circle cx="535.16" cy="712.91" r="1.12" fill="#b6b6fb"/>
<circle cx="533.23" cy="709.58" r="1.12" fill="#b6b6fb"/>
<circle cx="533.62" cy="703.05" r="1.12" fill="#b6b6fb"/>
<circle cx="534.39" cy="704.03" r="1.12" fill="#b6b6fb"/>
<circle cx="534.43" cy="710.22" r="1.12" fill="#b6b6fb"/>
<line x1="534.25" y1="704.15" x2="534.25" y2="696.55" stroke="#b6b6fb" stroke-width="0.7" />
<line x1="532.99" y1="696.55" x2="535.51" y2="696.55" stroke="#b6b6fb" stroke-width="0.7" />
<rect x="540.60" y="703.60" width="4.20" height="25.90" fill="#fff" stroke="#f3d3aa" stroke-width="1.2"/>
<circle cx="542.73" cy="712.53" r="1.12" fill="#f3d3aa"/>
<circle cx="541.64" cy="701.08" r="1.12" fill="#f3d3aa"/>
<circle cx="541.63" cy="705.43" r="1.12" fill="#f3d3aa"/>
<circle cx="543.62" cy="704.67" r="1.12" fill="#f3d3aa"/>
<circle cx="543.24" cy="702.00" r="1.12" fill="#f3d3aa"/>
<circle cx="541.73" cy="697.03" r="1.12" fill="#f3d3aa"/>
<circle cx="543.26" cy="691.40" r="1.12" fill="#f3d3aa"/>
<line x1="542.70" y1="703.60" x2="542.70" y2="695.83" stroke="#f3d3aa" stroke-width="0.7" />
<line x1="541.44" y1="695.83" x2="543.96" y2="695.83" stroke="#f3d3aa" stroke-width="0.7" />
<path d="M491.50,660.10 V656.50 H500.50 V720.59" fill="none" stroke="#3a3a3a" stroke-width="0.9"/>
<text x="496.23" y="652.80" font-size="5.45" text-anchor="middle" font-weight="normal" fill="#111" letter-spacing="-0.12" stroke="#222" stroke-width="0.12">&lt;0.0001</text>
<path d="M491.50,646.10 V642.50 H508.50 V646.60" fill="none" stroke="#3a3a3a" stroke-width="0.9"/>
<text x="500.45" y="639.30" font-size="5.45" text-anchor="middle" font-weight="normal" fill="#111" letter-spacing="-0.12" stroke="#222" stroke-width="0.12">&lt;0.0001</text>
<path d="M491.50,632.70 V629.50 H517.50 V713.29" fill="none" stroke="#3a3a3a" stroke-width="0.9"/>
<text x="504.68" y="625.90" font-size="5.45" text-anchor="middle" font-weight="normal" fill="#111" letter-spacing="-0.12" stroke="#222" stroke-width="0.12">&lt;0.0001</text>
<path d="M491.50,624.60 V615.50 H525.50 V714.88" fill="none" stroke="#3a3a3a" stroke-width="0.9"/>
<text x="508.90" y="611.80" font-size="5.45" text-anchor="middle" font-weight="normal" fill="#111" letter-spacing="-0.12" stroke="#222" stroke-width="0.12">&lt;0.0001</text>
<path d="M491.50,610.90 V601.50 H534.50 V692.08" fill="none" stroke="#3a3a3a" stroke-width="0.9"/>
<text x="513.12" y="598.10" font-size="5.45" text-anchor="middle" font-weight="normal" fill="#111" letter-spacing="-0.12" stroke="#222" stroke-width="0.12">0.3914</text>
<path d="M491.50,596.70 V587.50 H542.50 V688.90" fill="none" stroke="#3a3a3a" stroke-width="0.9"/>
<text x="517.35" y="583.90" font-size="5.45" text-anchor="middle" font-weight="normal" fill="#111" letter-spacing="-0.12" stroke="#222" stroke-width="0.12">0.4888</text>
<line x1="517.35" y1="729.50" x2="517.35" y2="731.50" stroke="#222" stroke-width="0.8" />
<text x="517.35" y="737.80" font-size="5.0" text-anchor="middle" font-weight="bold" fill="#222" >Lung</text>
<text x="517.35" y="743.80" font-size="5.45" text-anchor="middle" font-weight="bold" fill="#222" >Intranasal</text>
<rect x="554.50" y="679.91" width="4.20" height="49.59" fill="#fff" stroke="#3a3a3a" stroke-width="1.2"/>
<circle cx="557.43" cy="697.52" r="1.12" fill="#3a3a3a"/>
<circle cx="555.77" cy="684.15" r="1.12" fill="#3a3a3a"/>
<circle cx="556.76" cy="657.95" r="1.12" fill="#3a3a3a"/>
<circle cx="555.68" cy="666.48" r="1.12" fill="#3a3a3a"/>
<circle cx="555.49" cy="666.43" r="1.12" fill="#3a3a3a"/>
<circle cx="556.28" cy="691.30" r="1.12" fill="#3a3a3a"/>
<circle cx="556.84" cy="701.53" r="1.12" fill="#3a3a3a"/>
<line x1="556.60" y1="679.91" x2="556.60" y2="665.03" stroke="#3a3a3a" stroke-width="0.7" />
<line x1="555.34" y1="665.03" x2="557.86" y2="665.03" stroke="#3a3a3a" stroke-width="0.7" />
<rect x="562.95" y="717.93" width="4.20" height="11.57" fill="#fff" stroke="#4b3df2" stroke-width="1.2"/>
<circle cx="564.55" cy="720.84" r="1.12" fill="#4b3df2"/>
<circle cx="564.86" cy="715.52" r="1.12" fill="#4b3df2"/>
<circle cx="565.36" cy="713.57" r="1.12" fill="#4b3df2"/>
<circle cx="565.21" cy="713.75" r="1.12" fill="#4b3df2"/>
<circle cx="565.98" cy="713.26" r="1.12" fill="#4b3df2"/>
<circle cx="565.67" cy="721.33" r="1.12" fill="#4b3df2"/>
<circle cx="565.71" cy="719.46" r="1.12" fill="#4b3df2"/>
<line x1="565.05" y1="717.93" x2="565.05" y2="714.46" stroke="#4b3df2" stroke-width="0.7" />
<line x1="563.79" y1="714.46" x2="566.31" y2="714.46" stroke="#4b3df2" stroke-width="0.7" />
<rect x="571.40" y="708.56" width="4.20" height="20.94" fill="#fff" stroke="#f2541f" stroke-width="1.2"/>
<circle cx="574.32" cy="704.73" r="1.12" fill="#f2541f"/>
<circle cx="573.18" cy="715.59" r="1.12" fill="#f2541f"/>
<circle cx="574.63" cy="703.63" r="1.12" fill="#f2541f"/>
<circle cx="572.35" cy="703.93" r="1.12" fill="#f2541f"/>
<circle cx="572.49" cy="706.23" r="1.12" fill="#f2541f"/>
<circle cx="574.26" cy="707.30" r="1.12" fill="#f2541f"/>
<circle cx="574.57" cy="715.78" r="1.12" fill="#f2541f"/>
<line x1="573.50" y1="708.56" x2="573.50" y2="702.28" stroke="#f2541f" stroke-width="0.7" />
<line x1="572.24" y1="702.28" x2="574.76" y2="702.28" stroke="#f2541f" stroke-width="0.7" />
<rect x="579.85" y="716.83" width="4.20" height="12.67" fill="#fff" stroke="#4d92f5" stroke-width="1.2"/>
<circle cx="581.33" cy="714.57" r="1.12" fill="#4d92f5"/>
<circle cx="581.82" cy="720.25" r="1.12" fill="#4d92f5"/>
<circle cx="582.16" cy="712.65" r="1.12" fill="#4d92f5"/>
<circle cx="580.74" cy="721.19" r="1.12" fill="#4d92f5"/>
<circle cx="582.71" cy="721.23" r="1.12" fill="#4d92f5"/>
<circle cx="582.09" cy="720.35" r="1.12" fill="#4d92f5"/>
<circle cx="582.42" cy="719.11" r="1.12" fill="#4d92f5"/>
<line x1="581.95" y1="716.83" x2="581.95" y2="713.03" stroke="#4d92f5" stroke-width="0.7" />
<line x1="580.69" y1="713.03" x2="583.21" y2="713.03" stroke="#4d92f5" stroke-width="0.7" />
<rect x="588.30" y="706.91" width="4.20" height="22.59" fill="#fff" stroke="#e9a35c" stroke-width="1.2"/>
<circle cx="589.50" cy="709.07" r="1.12" fill="#e9a35c"/>
<circle cx="590.50" cy="698.68" r="1.12" fill="#e9a35c"/>
<circle cx="591.18" cy="702.59" r="1.12" fill="#e9a35c"/>
<circle cx="589.17" cy="697.14" r="1.12" fill="#e9a35c"/>
<circle cx="589.52" cy="709.88" r="1.12" fill="#e9a35c"/>
<circle cx="591.34" cy="706.53" r="1.12" fill="#e9a35c"/>
<circle cx="589.23" cy="700.26" r="1.12" fill="#e9a35c"/>
<line x1="590.40" y1="706.91" x2="590.40" y2="700.13" stroke="#e9a35c" stroke-width="0.7" />
<line x1="589.14" y1="700.13" x2="591.66" y2="700.13" stroke="#e9a35c" stroke-width="0.7" />
<rect x="596.75" y="695.34" width="4.20" height="34.16" fill="#fff" stroke="#b6b6fb" stroke-width="1.2"/>
<circle cx="599.65" cy="704.92" r="1.12" fill="#b6b6fb"/>
<circle cx="598.58" cy="689.12" r="1.12" fill="#b6b6fb"/>
<circle cx="597.99" cy="695.60" r="1.12" fill="#b6b6fb"/>
<circle cx="598.58" cy="683.86" r="1.12" fill="#b6b6fb"/>
<circle cx="599.13" cy="682.97" r="1.12" fill="#b6b6fb"/>
<circle cx="598.42" cy="708.30" r="1.12" fill="#b6b6fb"/>
<circle cx="599.84" cy="703.84" r="1.12" fill="#b6b6fb"/>
<line x1="598.85" y1="695.34" x2="598.85" y2="685.09" stroke="#b6b6fb" stroke-width="0.7" />
<line x1="597.59" y1="685.09" x2="600.11" y2="685.09" stroke="#b6b6fb" stroke-width="0.7" />
<rect x="605.20" y="698.64" width="4.20" height="30.86" fill="#fff" stroke="#f3d3aa" stroke-width="1.2"/>
<circle cx="606.15" cy="695.62" r="1.12" fill="#f3d3aa"/>
<circle cx="606.95" cy="707.66" r="1.12" fill="#f3d3aa"/>
<circle cx="607.49" cy="699.11" r="1.12" fill="#f3d3aa"/>
<circle cx="606.93" cy="701.40" r="1.12" fill="#f3d3aa"/>
<circle cx="607.50" cy="712.36" r="1.12" fill="#f3d3aa"/>
<circle cx="606.09" cy="702.95" r="1.12" fill="#f3d3aa"/>
<circle cx="608.53" cy="699.35" r="1.12" fill="#f3d3aa"/>
<line x1="607.30" y1="698.64" x2="607.30" y2="689.39" stroke="#f3d3aa" stroke-width="0.7" />
<line x1="606.04" y1="689.39" x2="608.56" y2="689.39" stroke="#f3d3aa" stroke-width="0.7" />
<path d="M556.50,660.10 V656.50 H565.50 V710.76" fill="none" stroke="#3a3a3a" stroke-width="0.9"/>
<text x="560.83" y="652.80" font-size="5.45" text-anchor="middle" font-weight="normal" fill="#111" letter-spacing="-0.12" stroke="#222" stroke-width="0.12">&lt;0.0001</text>
<path d="M556.50,646.10 V642.50 H573.50 V646.60" fill="none" stroke="#3a3a3a" stroke-width="0.9"/>
<text x="565.05" y="639.30" font-size="5.45" text-anchor="middle" font-weight="normal" fill="#111" letter-spacing="-0.12" stroke="#222" stroke-width="0.12">&lt;0.0001</text>
<path d="M556.50,632.70 V629.50 H581.50 V710.15" fill="none" stroke="#3a3a3a" stroke-width="0.9"/>
<text x="569.28" y="625.90" font-size="5.45" text-anchor="middle" font-weight="normal" fill="#111" letter-spacing="-0.12" stroke="#222" stroke-width="0.12">&lt;0.0001</text>
<path d="M556.50,624.60 V615.50 H590.50 V694.64" fill="none" stroke="#3a3a3a" stroke-width="0.9"/>
<text x="573.50" y="611.80" font-size="5.45" text-anchor="middle" font-weight="normal" fill="#111" letter-spacing="-0.12" stroke="#222" stroke-width="0.12">&lt;0.0001</text>
<path d="M556.50,610.90 V601.50 H598.50 V680.47" fill="none" stroke="#3a3a3a" stroke-width="0.9"/>
<text x="577.73" y="598.10" font-size="5.45" text-anchor="middle" font-weight="normal" fill="#111" letter-spacing="-0.12" stroke="#222" stroke-width="0.12">0.0080</text>
<path d="M556.50,596.70 V587.50 H607.50 V686.89" fill="none" stroke="#3a3a3a" stroke-width="0.9"/>
<text x="581.95" y="583.90" font-size="5.45" text-anchor="middle" font-weight="normal" fill="#111" letter-spacing="-0.12" stroke="#222" stroke-width="0.12">0.0007</text>
<line x1="581.95" y1="729.50" x2="581.95" y2="731.50" stroke="#222" stroke-width="0.8" />
<text x="581.95" y="737.80" font-size="5.0" text-anchor="middle" font-weight="bold" fill="#222" >Skin</text>
<text x="581.95" y="743.80" font-size="5.45" text-anchor="middle" font-weight="bold" fill="#222" >Intradermal</text>
<rect x="619.10" y="673.30" width="4.20" height="56.20" fill="#fff" stroke="#3a3a3a" stroke-width="1.2"/>
<circle cx="620.31" cy="696.22" r="1.12" fill="#3a3a3a"/>
<circle cx="620.63" cy="663.52" r="1.12" fill="#3a3a3a"/>
<circle cx="621.20" cy="684.30" r="1.12" fill="#3a3a3a"/>
<circle cx="621.37" cy="684.89" r="1.12" fill="#3a3a3a"/>
<circle cx="622.35" cy="670.98" r="1.12" fill="#3a3a3a"/>
<circle cx="620.03" cy="646.73" r="1.12" fill="#3a3a3a"/>
<circle cx="621.88" cy="669.29" r="1.12" fill="#3a3a3a"/>
<line x1="621.20" y1="673.30" x2="621.20" y2="656.44" stroke="#3a3a3a" stroke-width="0.7" />
<line x1="619.94" y1="656.44" x2="622.46" y2="656.44" stroke="#3a3a3a" stroke-width="0.7" />
<rect x="627.55" y="718.48" width="4.20" height="11.02" fill="#fff" stroke="#4b3df2" stroke-width="1.2"/>
<circle cx="630.34" cy="714.50" r="1.12" fill="#4b3df2"/>
<circle cx="629.99" cy="716.95" r="1.12" fill="#4b3df2"/>
<circle cx="629.10" cy="719.72" r="1.12" fill="#4b3df2"/>
<circle cx="630.59" cy="715.29" r="1.12" fill="#4b3df2"/>
<circle cx="630.11" cy="713.82" r="1.12" fill="#4b3df2"/>
<circle cx="630.31" cy="720.32" r="1.12" fill="#4b3df2"/>
<circle cx="629.67" cy="715.86" r="1.12" fill="#4b3df2"/>
<line x1="629.65" y1="718.48" x2="629.65" y2="715.17" stroke="#4b3df2" stroke-width="0.7" />
<line x1="628.39" y1="715.17" x2="630.91" y2="715.17" stroke="#4b3df2" stroke-width="0.7" />
<rect x="636.00" y="712.97" width="4.20" height="16.53" fill="#fff" stroke="#f2541f" stroke-width="1.2"/>
<circle cx="637.72" cy="710.64" r="1.12" fill="#f2541f"/>
<circle cx="637.86" cy="711.94" r="1.12" fill="#f2541f"/>
<circle cx="637.69" cy="719.48" r="1.12" fill="#f2541f"/>
<circle cx="639.33" cy="715.44" r="1.12" fill="#f2541f"/>
<circle cx="637.77" cy="713.01" r="1.12" fill="#f2541f"/>
<circle cx="637.43" cy="716.67" r="1.12" fill="#f2541f"/>
<circle cx="637.18" cy="715.04" r="1.12" fill="#f2541f"/>
<line x1="638.10" y1="712.97" x2="638.10" y2="708.01" stroke="#f2541f" stroke-width="0.7" />
<line x1="636.84" y1="708.01" x2="639.36" y2="708.01" stroke="#f2541f" stroke-width="0.7" />
<rect x="644.45" y="711.87" width="4.20" height="17.63" fill="#fff" stroke="#4d92f5" stroke-width="1.2"/>
<circle cx="647.48" cy="719.68" r="1.12" fill="#4d92f5"/>
<circle cx="646.41" cy="712.37" r="1.12" fill="#4d92f5"/>
<circle cx="646.05" cy="710.48" r="1.12" fill="#4d92f5"/>
<circle cx="645.46" cy="717.03" r="1.12" fill="#4d92f5"/>
<circle cx="646.07" cy="714.86" r="1.12" fill="#4d92f5"/>
<circle cx="646.68" cy="707.89" r="1.12" fill="#4d92f5"/>
<circle cx="646.15" cy="704.43" r="1.12" fill="#4d92f5"/>
<line x1="646.55" y1="711.87" x2="646.55" y2="706.58" stroke="#4d92f5" stroke-width="0.7" />
<line x1="645.29" y1="706.58" x2="647.81" y2="706.58" stroke="#4d92f5" stroke-width="0.7" />
<rect x="652.90" y="710.22" width="4.20" height="19.29" fill="#fff" stroke="#e9a35c" stroke-width="1.2"/>
<circle cx="655.21" cy="702.37" r="1.12" fill="#e9a35c"/>
<circle cx="654.19" cy="717.46" r="1.12" fill="#e9a35c"/>
<circle cx="656.23" cy="708.48" r="1.12" fill="#e9a35c"/>
<circle cx="655.69" cy="712.49" r="1.12" fill="#e9a35c"/>
<circle cx="655.93" cy="711.21" r="1.12" fill="#e9a35c"/>
<circle cx="654.96" cy="717.68" r="1.12" fill="#e9a35c"/>
<circle cx="654.44" cy="702.77" r="1.12" fill="#e9a35c"/>
<line x1="655.00" y1="710.22" x2="655.00" y2="704.43" stroke="#e9a35c" stroke-width="0.7" />
<line x1="653.74" y1="704.43" x2="656.26" y2="704.43" stroke="#e9a35c" stroke-width="0.7" />
<rect x="661.35" y="693.68" width="4.20" height="35.81" fill="#fff" stroke="#b6b6fb" stroke-width="1.2"/>
<circle cx="662.25" cy="701.22" r="1.12" fill="#b6b6fb"/>
<circle cx="662.87" cy="704.32" r="1.12" fill="#b6b6fb"/>
<circle cx="662.74" cy="686.34" r="1.12" fill="#b6b6fb"/>
<circle cx="662.69" cy="696.49" r="1.12" fill="#b6b6fb"/>
<circle cx="664.37" cy="689.72" r="1.12" fill="#b6b6fb"/>
<circle cx="662.69" cy="688.22" r="1.12" fill="#b6b6fb"/>
<circle cx="664.62" cy="685.36" r="1.12" fill="#b6b6fb"/>
<line x1="663.45" y1="693.68" x2="663.45" y2="682.94" stroke="#b6b6fb" stroke-width="0.7" />
<line x1="662.19" y1="682.94" x2="664.71" y2="682.94" stroke="#b6b6fb" stroke-width="0.7" />
<rect x="669.80" y="688.73" width="4.20" height="40.77" fill="#fff" stroke="#f3d3aa" stroke-width="1.2"/>
<circle cx="670.84" cy="684.28" r="1.12" fill="#f3d3aa"/>
<circle cx="672.85" cy="676.38" r="1.12" fill="#f3d3aa"/>
<circle cx="670.98" cy="694.14" r="1.12" fill="#f3d3aa"/>
<circle cx="671.99" cy="699.94" r="1.12" fill="#f3d3aa"/>
<circle cx="672.25" cy="673.88" r="1.12" fill="#f3d3aa"/>
<circle cx="671.17" cy="672.08" r="1.12" fill="#f3d3aa"/>
<circle cx="672.53" cy="694.68" r="1.12" fill="#f3d3aa"/>
<line x1="671.90" y1="688.73" x2="671.90" y2="676.49" stroke="#f3d3aa" stroke-width="0.7" />
<line x1="670.64" y1="676.49" x2="673.16" y2="676.49" stroke="#f3d3aa" stroke-width="0.7" />
<path d="M621.50,660.10 V656.50 H629.50 V711.32" fill="none" stroke="#3a3a3a" stroke-width="0.9"/>
<text x="625.43" y="652.80" font-size="5.45" text-anchor="middle" font-weight="normal" fill="#111" letter-spacing="-0.12" stroke="#222" stroke-width="0.12">&lt;0.0001</text>
<path d="M621.50,646.10 V642.50 H638.50 V646.60" fill="none" stroke="#3a3a3a" stroke-width="0.9"/>
<text x="629.65" y="639.30" font-size="5.45" text-anchor="middle" font-weight="normal" fill="#111" letter-spacing="-0.12" stroke="#222" stroke-width="0.12">&lt;0.0001</text>
<path d="M621.50,632.70 V629.50 H646.50 V701.93" fill="none" stroke="#3a3a3a" stroke-width="0.9"/>
<text x="633.88" y="625.90" font-size="5.45" text-anchor="middle" font-weight="normal" fill="#111" letter-spacing="-0.12" stroke="#222" stroke-width="0.12">&lt;0.0001</text>
<path d="M621.50,624.60 V615.50 H654.50 V699.87" fill="none" stroke="#3a3a3a" stroke-width="0.9"/>
<text x="638.10" y="611.80" font-size="5.45" text-anchor="middle" font-weight="normal" fill="#111" letter-spacing="-0.12" stroke="#222" stroke-width="0.12">&lt;0.0001</text>
<path d="M621.50,610.90 V601.50 H663.50 V680.44" fill="none" stroke="#3a3a3a" stroke-width="0.9"/>
<text x="642.33" y="598.10" font-size="5.45" text-anchor="middle" font-weight="normal" fill="#111" letter-spacing="-0.12" stroke="#222" stroke-width="0.12">0.0002</text>
<path d="M621.50,596.70 V587.50 H671.50 V669.58" fill="none" stroke="#3a3a3a" stroke-width="0.9"/>
<text x="646.55" y="583.90" font-size="5.45" text-anchor="middle" font-weight="normal" fill="#111" letter-spacing="-0.12" stroke="#222" stroke-width="0.12">0.0126</text>
<line x1="646.55" y1="729.50" x2="646.55" y2="731.50" stroke="#222" stroke-width="0.8" />
<text x="646.55" y="737.80" font-size="5.0" text-anchor="middle" font-weight="bold" fill="#222" >Footpad</text>
<text x="646.55" y="743.80" font-size="5.45" text-anchor="middle" font-weight="bold" fill="#222" >Subcutaneous</text>
<line x1="486.30" y1="653.00" x2="486.30" y2="730.00" stroke="#111" stroke-width="1.1" />
<line x1="485.80" y1="729.50" x2="683.00" y2="729.50" stroke="#111" stroke-width="1.1" />
<line x1="483.80" y1="729.50" x2="486.30" y2="729.50" stroke="#111" stroke-width="0.9" />
<text x="483.10" y="732.40" font-size="5" text-anchor="end" font-weight="bold" fill="#222" >0</text>
<line x1="483.80" y1="712.97" x2="486.30" y2="712.97" stroke="#111" stroke-width="0.9" />
<text x="483.10" y="715.87" font-size="5" text-anchor="end" font-weight="bold" fill="#222" >3</text>
<line x1="483.80" y1="696.44" x2="486.30" y2="696.44" stroke="#111" stroke-width="0.9" />
<text x="483.10" y="699.34" font-size="5" text-anchor="end" font-weight="bold" fill="#222" >6</text>
<line x1="483.80" y1="679.91" x2="486.30" y2="679.91" stroke="#111" stroke-width="0.9" />
<text x="483.10" y="682.81" font-size="5" text-anchor="end" font-weight="bold" fill="#222" >9</text>
<line x1="483.80" y1="663.38" x2="486.30" y2="663.38" stroke="#111" stroke-width="0.9" />
<text x="483.10" y="666.28" font-size="5" text-anchor="end" font-weight="bold" fill="#222" >12</text>
<text transform="translate(474.40,691.00) rotate(-90)" font-size="5.3" text-anchor="middle" font-weight="bold" fill="#222">Histopathological Score</text>
<text x="459.00" y="579.00" font-size="14" text-anchor="start" font-weight="bold" fill="#000" >g</text></svg>
</body></html>
